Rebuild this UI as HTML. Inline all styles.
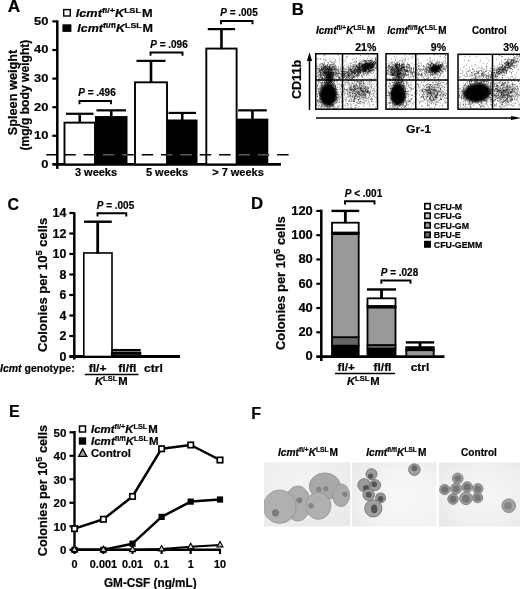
<!DOCTYPE html><html><head><meta charset="utf-8"><title>Figure</title>
<style>html,body{margin:0;padding:0;background:#fff}svg{display:block;will-change:transform}text{font-family:"Liberation Sans",Arial,sans-serif;fill:#000;stroke:#000;stroke-width:.2px}</style></head><body>
<svg width="520" height="589" viewBox="0 0 520 589">
<rect width="520" height="589" fill="#fff"/>
<defs>
<radialGradient id="blob"><stop offset="0" stop-color="#000" stop-opacity="1"/><stop offset="0.68" stop-color="#000" stop-opacity="0.95"/><stop offset="1" stop-color="#000" stop-opacity="0"/></radialGradient>
<radialGradient id="blob2"><stop offset="0" stop-color="#000" stop-opacity="0.55"/><stop offset="1" stop-color="#000" stop-opacity="0"/></radialGradient>
<radialGradient id="blob3"><stop offset="0" stop-color="#000" stop-opacity="0.28"/><stop offset="1" stop-color="#000" stop-opacity="0"/></radialGradient>
<filter id="bl"><feGaussianBlur stdDeviation="0.6"/></filter>
<filter id="bl2"><feGaussianBlur stdDeviation="0.9"/></filter>
<radialGradient id="vg1" cx="0.4" cy="0.3" r="0.9"><stop offset="0" stop-color="#f3f3f3"/><stop offset="1" stop-color="#e9e9e9"/></radialGradient>
<radialGradient id="vg2" cx="0.6" cy="0.55" r="0.75"><stop offset="0" stop-color="#f8f8f8"/><stop offset="0.6" stop-color="#f3f3f3"/><stop offset="1" stop-color="#e9e9e9"/></radialGradient>
<radialGradient id="vg3" cx="0.55" cy="0.5" r="0.75"><stop offset="0" stop-color="#f6f6f6"/><stop offset="0.6" stop-color="#f0f0f0"/><stop offset="1" stop-color="#e6e6e6"/></radialGradient>
</defs>
<text transform="translate(7.8,12.2) scale(1.08,1)" font-size="16" text-anchor="start" font-weight="bold" >A</text>
<rect x="63.7" y="9.6" width="6.6" height="6.4" fill="#fff" stroke="#000" stroke-width="1.4"/>
<rect x="62.4" y="24.3" width="9" height="7.6" fill="#000"/>
<text transform="translate(75.7,16.7) scale(1.11,1)" font-size="11.5" text-anchor="start" font-weight="bold" ><tspan font-style="italic">Icmt</tspan><tspan font-size="8" dy="-4.1">fl/+</tspan><tspan font-style="italic" dy="4.1">K</tspan><tspan font-size="8" dy="-4.1">LSL</tspan><tspan dy="4.1" dx="1">M</tspan></text>
<text transform="translate(77.2,32) scale(1.09,1)" font-size="11.5" text-anchor="start" font-weight="bold" ><tspan font-style="italic">Icmt</tspan><tspan font-size="8" dy="-4.1">fl/fl</tspan><tspan font-style="italic" dy="4.1">K</tspan><tspan font-size="8" dy="-4.1">LSL</tspan><tspan dy="4.1" dx="1">M</tspan></text>
<line x1="57.3" y1="20.4" x2="57.3" y2="168.9" stroke="#000" stroke-width="2.5" />
<line x1="52.3" y1="164.4" x2="281" y2="164.4" stroke="#000" stroke-width="2.6" />
<text transform="translate(48.3,167.8) scale(1.12,1)" font-size="11.5" text-anchor="end" font-weight="bold" >0</text>
<line x1="52.3" y1="135.8" x2="57.3" y2="135.8" stroke="#000" stroke-width="2.2" />
<text transform="translate(48.3,139.20000000000002) scale(1.12,1)" font-size="11.5" text-anchor="end" font-weight="bold" >10</text>
<line x1="52.3" y1="107.20000000000002" x2="57.3" y2="107.20000000000002" stroke="#000" stroke-width="2.2" />
<text transform="translate(48.3,110.60000000000002) scale(1.12,1)" font-size="11.5" text-anchor="end" font-weight="bold" >20</text>
<line x1="52.3" y1="78.60000000000001" x2="57.3" y2="78.60000000000001" stroke="#000" stroke-width="2.2" />
<text transform="translate(48.3,82.00000000000001) scale(1.12,1)" font-size="11.5" text-anchor="end" font-weight="bold" >30</text>
<line x1="52.3" y1="50.000000000000014" x2="57.3" y2="50.000000000000014" stroke="#000" stroke-width="2.2" />
<text transform="translate(48.3,53.40000000000001) scale(1.12,1)" font-size="11.5" text-anchor="end" font-weight="bold" >40</text>
<line x1="52.3" y1="21.400000000000006" x2="57.3" y2="21.400000000000006" stroke="#000" stroke-width="2.2" />
<text transform="translate(48.3,24.800000000000004) scale(1.12,1)" font-size="11.5" text-anchor="end" font-weight="bold" >50</text>
<text transform="translate(16.5,92.5) rotate(-90) scale(1.02,1)" font-size="12.5" font-weight="bold" text-anchor="middle">Spleen weight</text>
<text transform="translate(29.2,95.1) rotate(-90) scale(0.97,1)" font-size="12.5" font-weight="bold" text-anchor="middle">(mg/g body weight)</text>
<rect x="64.5" y="122.644" width="30.5" height="41.756" fill="#fff" stroke="#000" stroke-width="1.9"/>
<line x1="79.75" y1="113.77800000000002" x2="79.75" y2="123.144" stroke="#000" stroke-width="2.6" />
<line x1="66.0" y1="113.77800000000002" x2="93.5" y2="113.77800000000002" stroke="#000" stroke-width="2.2" />
<rect x="95" y="116.066" width="32.5" height="48.334" fill="#000"/>
<line x1="111.25" y1="110.346" x2="111.25" y2="116.566" stroke="#000" stroke-width="2.6" />
<line x1="96.5" y1="110.346" x2="126.0" y2="110.346" stroke="#000" stroke-width="2.2" />
<rect x="135" y="82.31800000000001" width="32" height="82.082" fill="#fff" stroke="#000" stroke-width="1.9"/>
<line x1="151.0" y1="60.867999999999995" x2="151.0" y2="82.81800000000001" stroke="#000" stroke-width="2.6" />
<line x1="136.5" y1="60.867999999999995" x2="165.5" y2="60.867999999999995" stroke="#000" stroke-width="2.2" />
<rect x="167" y="119.49800000000002" width="30.5" height="44.90199999999999" fill="#000"/>
<line x1="182.25" y1="112.92000000000002" x2="182.25" y2="119.99800000000002" stroke="#000" stroke-width="2.6" />
<line x1="168.5" y1="112.92000000000002" x2="196.0" y2="112.92000000000002" stroke="#000" stroke-width="2.2" />
<rect x="206.3" y="48.57000000000001" width="30.299999999999983" height="115.83" fill="#fff" stroke="#000" stroke-width="1.9"/>
<line x1="221.45" y1="29.122000000000014" x2="221.45" y2="49.07000000000001" stroke="#000" stroke-width="2.6" />
<line x1="207.8" y1="29.122000000000014" x2="235.1" y2="29.122000000000014" stroke="#000" stroke-width="2.2" />
<rect x="236.6" y="118.64000000000001" width="31.700000000000017" height="45.75999999999999" fill="#000"/>
<line x1="252.45" y1="110.346" x2="252.45" y2="119.14000000000001" stroke="#000" stroke-width="2.6" />
<line x1="238.1" y1="110.346" x2="266.8" y2="110.346" stroke="#000" stroke-width="2.2" />
<line x1="46.3" y1="154.8" x2="288.6" y2="154.8" stroke="#000" stroke-width="1.4" stroke-dasharray="11.5 7.85" stroke-dashoffset="1.4"/>
<clipPath id="bb"><rect x="95" y="110" width="32.5" height="54"/><rect x="167" y="110" width="30.5" height="54"/><rect x="236.6" y="110" width="31.7" height="54"/></clipPath>
<line x1="46.3" y1="154.8" x2="288.6" y2="154.8" stroke="#5a5a5a" stroke-width="1.5" stroke-dasharray="11.5 7.85" stroke-dashoffset="1.4" clip-path="url(#bb)"/>
<text transform="translate(96,176) scale(1.0,1)" font-size="11" text-anchor="middle" font-weight="bold" >3 weeks</text>
<text transform="translate(167,176) scale(1.0,1)" font-size="11" text-anchor="middle" font-weight="bold" >5 weeks</text>
<text transform="translate(238,176) scale(1.0,1)" font-size="11" text-anchor="middle" font-weight="bold" >&gt; 7 weeks</text>
<path d="M79.5 104.2V101H111V104.2" fill="none" stroke="#000" stroke-width="1.9"/>
<text transform="translate(97,96.4) scale(0.95,1)" font-size="10.5" text-anchor="middle" font-weight="bold" ><tspan font-style="italic">P</tspan> = .496</text>
<path d="M150.5 55.7V52.5H182.5V55.7" fill="none" stroke="#000" stroke-width="1.9"/>
<text transform="translate(169,47.9) scale(0.95,1)" font-size="10.5" text-anchor="middle" font-weight="bold" ><tspan font-style="italic">P</tspan> = .096</text>
<path d="M221 24.2V21H252.5V24.2" fill="none" stroke="#000" stroke-width="1.9"/>
<text transform="translate(239,16.4) scale(0.95,1)" font-size="10.5" text-anchor="middle" font-weight="bold" ><tspan font-style="italic">P</tspan> = .005</text>
<text transform="translate(291.8,14.7) scale(1.05,1)" font-size="16" text-anchor="start" font-weight="bold" >B</text>
<text transform="translate(301.1,79.5) rotate(-90) scale(1.05,1)" font-size="12" font-weight="bold" text-anchor="middle">CD11b</text>
<line x1="309.5" y1="110" x2="309.5" y2="58" stroke="#000" stroke-width="1.6" />
<path d="M309.5 52.3l-2.6 8.6h5.2z" fill="#000"/>
<line x1="316" y1="118" x2="514" y2="118" stroke="#000" stroke-width="1.5" />
<path d="M521 118l-10-2.1v4.2z" fill="#000"/>
<text transform="translate(418.5,132.5) scale(1.1,1)" font-size="11" text-anchor="middle" font-weight="bold" >Gr-1</text>
<text transform="translate(316,33.7) scale(1.0,1)" font-size="10" text-anchor="start" font-weight="bold" ><tspan font-style="italic">Icmt</tspan><tspan font-size="6.5" dy="-3.6">fl/+</tspan><tspan font-style="italic" dy="3.6">K</tspan><tspan font-size="6.5" dy="-3.6">LSL</tspan><tspan dy="3.6" dx="1">M</tspan></text>
<text transform="translate(387.3,33.7) scale(1.0,1)" font-size="10" text-anchor="start" font-weight="bold" ><tspan font-style="italic">Icmt</tspan><tspan font-size="6.5" dy="-3.6">fl/fl</tspan><tspan font-style="italic" dy="3.6">K</tspan><tspan font-size="6.5" dy="-3.6">LSL</tspan><tspan dy="3.6" dx="1">M</tspan></text>
<text transform="translate(489.3,33.7) scale(0.98,1)" font-size="10" text-anchor="middle" font-weight="bold" >Control</text>
<text transform="translate(376.3,51) scale(1.0,1)" font-size="10.5" text-anchor="end" font-weight="bold" >21%</text>
<text transform="translate(446,51) scale(1.0,1)" font-size="10.5" text-anchor="end" font-weight="bold" >9%</text>
<text transform="translate(518.5,51) scale(1.0,1)" font-size="10.5" text-anchor="end" font-weight="bold" >3%</text>
<g><clipPath id="c315"><rect x="315.75" y="53.75" width="61.75" height="55.45"/></clipPath><g clip-path="url(#c315)">
<ellipse cx="328.2" cy="94.8" rx="10.3" ry="13.8" fill="url(#blob)" transform="rotate(0 328.2 94.8)"/>
<ellipse cx="329" cy="78" rx="5" ry="7" fill="url(#blob2)" transform="rotate(0 329 78)"/>
<ellipse cx="327" cy="71" rx="11" ry="7" fill="url(#blob3)" transform="rotate(0 327 71)"/>
<ellipse cx="363" cy="68" rx="13" ry="5.5" fill="url(#blob2)" transform="rotate(-17 363 68)"/>
<ellipse cx="368.5" cy="66" rx="6" ry="4.2" fill="url(#blob2)" transform="rotate(-12 368.5 66)"/>
<ellipse cx="358.5" cy="91.5" rx="14" ry="10" fill="url(#blob3)" transform="rotate(0 358.5 91.5)"/>
<path d="M325.9 98.1h.7M326.1 91.5h.7M322.2 92.3h.7M333.4 97.4h.7M333.0 96.0h.7M329.5 95.5h.7M318.1 100.8h.7M330.1 98.0h.7M318.0 80.0h.7M322.4 90.3h.7M329.0 93.6h.7M330.2 88.9h.7M329.0 97.2h.7M323.7 107.7h.7M330.4 103.6h.7M323.9 88.1h.7M325.4 93.1h.7M330.8 96.0h.7M324.8 86.3h.7M324.4 103.8h.7M322.9 96.0h.7M329.6 82.1h.7M327.6 104.4h.7M316.2 91.4h.7M326.7 87.5h.7M330.0 93.5h.7M319.2 100.6h.7M331.0 101.6h.7M335.2 96.9h.7M328.0 83.6h.7M330.7 89.1h.7M324.8 83.9h.7M322.0 89.8h.7M334.4 77.7h.7M319.3 95.9h.7M335.2 98.6h.7M316.9 73.9h.7M329.3 88.1h.7M321.1 101.8h.7M333.4 95.3h.7M328.7 97.5h.7M336.1 99.0h.7M330.2 98.4h.7M318.7 104.3h.7M332.6 98.2h.7M316.4 88.9h.7M331.9 79.5h.7M326.3 102.2h.7M320.1 106.9h.7M330.3 92.8h.7M329.1 99.2h.7M328.0 103.2h.7M323.7 90.7h.7M333.0 94.2h.7M322.5 101.6h.7M335.4 90.4h.7M319.7 92.9h.7M326.5 91.6h.7M335.0 85.8h.7M334.2 83.9h.7M323.0 99.1h.7M333.5 100.9h.7M329.2 95.1h.7M328.1 98.6h.7M326.3 96.2h.7M330.4 94.0h.7M331.5 98.5h.7M338.4 96.6h.7M324.9 91.0h.7M327.2 101.4h.7M325.4 97.1h.7M337.4 73.5h.7M321.1 96.0h.7M329.5 95.9h.7M324.9 99.2h.7M328.9 89.8h.7M340.7 96.8h.7M324.3 93.2h.7M326.1 93.5h.7M332.8 84.7h.7M326.9 101.6h.7M332.0 105.9h.7M317.9 91.2h.7M325.4 99.0h.7M333.3 72.5h.7M333.3 82.4h.7M331.1 82.1h.7M328.3 103.6h.7M326.5 95.5h.7M331.7 95.1h.7M326.8 106.3h.7M333.1 91.6h.7M342.4 84.8h.7M332.3 91.9h.7M328.0 99.6h.7M328.5 99.1h.7M318.9 81.9h.7M330.7 86.3h.7M321.7 82.2h.7M334.3 100.0h.7M335.4 86.5h.7M327.3 84.9h.7M331.5 106.7h.7M322.4 106.5h.7M332.7 92.6h.7M316.5 105.3h.7M326.8 89.2h.7M329.5 97.3h.7M335.5 85.8h.7M333.5 105.9h.7M335.3 92.6h.7M323.2 102.1h.7M327.9 95.0h.7M335.1 91.9h.7M317.1 100.6h.7M329.0 89.1h.7M327.2 100.7h.7M327.7 104.6h.7M327.0 102.3h.7M335.5 106.9h.7M323.6 101.0h.7M317.0 85.3h.7M316.5 102.6h.7M320.5 93.9h.7M326.2 93.8h.7M324.0 95.9h.7M337.2 94.4h.7M330.2 102.0h.7M326.2 83.9h.7M324.2 102.6h.7M318.2 89.2h.7M332.8 100.3h.7M327.3 100.4h.7M328.2 84.6h.7M318.7 88.9h.7M332.4 89.5h.7M322.3 87.8h.7M318.9 93.1h.7M320.8 96.9h.7M323.8 78.5h.7M331.3 91.8h.7M328.9 90.3h.7M331.6 100.0h.7M331.0 96.6h.7M334.6 99.3h.7M329.8 77.3h.7M332.2 104.5h.7M325.7 90.2h.7M338.0 79.9h.7M322.2 99.5h.7M337.7 93.0h.7M330.4 101.2h.7M322.3 93.3h.7M328.9 100.6h.7M327.1 92.4h.7M321.7 91.1h.7M332.2 94.8h.7M322.6 87.3h.7M342.0 103.1h.7M330.8 73.3h.7M330.7 97.8h.7M336.6 97.4h.7M326.9 98.2h.7M316.6 102.3h.7M329.1 88.4h.7M334.6 108.5h.7M319.6 88.7h.7M328.9 95.5h.7M325.1 86.2h.7M339.0 102.3h.7M320.7 83.2h.7M336.7 101.9h.7M337.3 100.5h.7M322.5 96.1h.7M327.0 98.2h.7M323.3 93.0h.7M329.8 97.0h.7M330.8 95.7h.7M325.5 100.3h.7M327.6 87.4h.7M323.9 94.0h.7M326.7 95.3h.7M327.3 95.4h.7M326.6 83.9h.7M329.6 102.4h.7M329.7 92.5h.7M329.8 86.3h.7M316.9 94.5h.7M322.2 99.9h.7M321.3 73.0h.7M321.6 106.6h.7M325.2 83.0h.7M323.1 98.2h.7M330.0 95.4h.7M335.5 99.7h.7M327.2 98.8h.7M336.4 101.8h.7M332.9 85.3h.7M326.5 99.8h.7M325.7 102.6h.7M330.6 101.3h.7M334.1 92.3h.7M325.4 101.0h.7M332.7 94.1h.7M320.9 95.5h.7M329.3 103.0h.7M331.6 94.2h.7M332.0 98.3h.7M328.4 94.4h.7M326.0 99.5h.7M321.5 89.0h.7M327.3 82.3h.7M324.9 77.9h.7M323.5 98.5h.7M330.4 93.6h.7M326.0 82.7h.7M337.4 98.1h.7M333.3 86.9h.7M326.3 79.4h.7M331.6 101.5h.7M316.9 93.6h.7M330.8 79.9h.7M317.3 85.5h.7M323.8 82.8h.7M327.5 96.0h.7M330.8 99.6h.7M335.6 103.3h.7M320.1 90.0h.7M321.5 85.4h.7M326.9 94.0h.7M330.0 81.3h.7M320.5 93.8h.7M326.2 91.5h.7M327.0 87.9h.7M331.2 96.8h.7M326.8 88.6h.7M326.3 72.2h.7M321.9 94.3h.7M319.0 95.6h.7M328.1 83.0h.7M325.9 91.5h.7M329.8 98.9h.7M327.1 87.2h.7M326.5 93.5h.7M331.3 96.4h.7M323.3 83.2h.7M325.2 88.1h.7M321.2 93.1h.7M324.6 94.8h.7M330.2 90.7h.7M340.1 91.4h.7M333.4 95.0h.7M333.4 75.0h.7M323.2 96.0h.7M329.1 104.2h.7M331.5 101.6h.7M330.1 92.8h.7M330.1 85.4h.7M333.8 85.9h.7M326.1 94.2h.7M333.7 94.2h.7M322.9 96.1h.7M330.5 99.7h.7M323.1 108.0h.7M336.5 94.1h.7M328.8 90.6h.7M335.1 88.4h.7M331.0 90.2h.7M323.5 99.7h.7M334.6 93.9h.7M323.6 100.5h.7M327.0 96.5h.7M335.7 103.1h.7M327.3 100.3h.7M323.7 93.6h.7M317.7 108.3h.7M334.8 84.3h.7M319.0 81.0h.7M333.8 90.3h.7M327.0 91.5h.7M326.6 85.3h.7M327.4 82.5h.7M326.9 96.5h.7M329.9 92.1h.7M322.3 95.3h.7M324.6 106.5h.7M331.5 93.1h.7M324.7 88.4h.7M322.1 91.2h.7M328.9 98.1h.7M323.4 94.1h.7M342.7 79.1h.7M324.4 95.4h.7M328.1 97.3h.7M326.0 96.9h.7M327.6 100.2h.7M316.9 86.9h.7M327.3 85.7h.7M321.6 99.0h.7M323.7 99.1h.7M331.4 96.5h.7M330.1 93.2h.7M319.5 93.8h.7M329.8 89.8h.7M326.8 100.0h.7M322.5 99.1h.7M337.5 89.6h.7M328.1 92.8h.7M335.8 96.5h.7M332.2 88.5h.7M327.2 93.9h.7M317.5 105.5h.7M332.2 80.0h.7M331.4 93.0h.7M329.8 96.9h.7M319.1 92.3h.7M335.5 89.4h.7M321.7 83.1h.7M320.6 96.7h.7M336.6 97.4h.7M324.4 88.6h.7M330.2 98.4h.7M321.7 84.6h.7M328.9 96.0h.7M320.1 92.4h.7M324.3 97.7h.7M326.7 93.3h.7M325.4 102.4h.7M334.9 91.1h.7M332.0 87.9h.7M327.7 100.0h.7M335.6 90.9h.7M326.9 95.6h.7M319.1 94.1h.7M323.6 97.0h.7M321.1 78.2h.7M327.5 96.1h.7M324.3 101.1h.7M325.8 89.2h.7M329.9 81.5h.7M323.6 93.8h.7M332.0 92.7h.7M329.0 88.8h.7M329.0 107.3h.7M323.8 94.1h.7M328.3 102.2h.7M320.5 77.2h.7M330.6 100.4h.7M328.4 96.0h.7M332.4 97.0h.7M336.5 84.1h.7M325.2 66.4h.7M331.8 91.0h.7M327.3 92.0h.7M324.6 87.3h.7M323.8 99.1h.7M327.5 94.5h.7M326.3 101.3h.7M330.0 92.9h.7M331.0 92.8h.7M321.0 105.6h.7M329.9 86.3h.7M333.2 96.8h.7M318.7 106.9h.7M329.1 101.1h.7M328.4 92.8h.7M318.8 101.8h.7M327.5 91.7h.7M329.2 94.6h.7M331.0 91.0h.7M327.1 76.9h.7M325.0 99.4h.7M334.7 91.1h.7M326.6 106.7h.7M325.5 99.9h.7M336.5 94.3h.7M334.0 88.3h.7M328.4 93.4h.7M327.9 103.0h.7M340.4 88.7h.7M324.1 98.0h.7M321.5 98.0h.7M330.4 91.8h.7M330.2 81.6h.7M331.5 81.6h.7M323.5 89.6h.7M325.1 100.9h.7M327.7 90.8h.7M330.3 106.7h.7M327.3 96.9h.7M334.1 96.1h.7M339.4 78.1h.7M327.1 97.3h.7M332.6 99.4h.7M325.8 85.6h.7M327.9 102.3h.7M321.3 85.8h.7M327.2 78.5h.7M325.9 90.5h.7M329.8 88.4h.7M322.4 90.8h.7M327.0 88.7h.7M327.4 100.0h.7M333.8 107.6h.7M323.0 90.6h.7M323.3 93.7h.7M330.2 83.1h.7M329.9 93.8h.7M317.3 96.3h.7M333.9 79.1h.7M331.7 95.7h.7M329.9 97.5h.7M334.5 92.2h.7M332.1 90.7h.7M331.3 87.5h.7M326.7 107.8h.7M329.8 92.7h.7M321.0 87.7h.7M328.4 101.5h.7M329.6 98.2h.7M327.1 104.8h.7M325.2 89.6h.7M332.2 94.5h.7M325.8 89.4h.7M325.9 99.0h.7M329.2 84.3h.7M329.6 95.4h.7M321.8 100.2h.7M325.8 91.3h.7M331.7 104.6h.7M323.5 97.5h.7M324.6 103.6h.7M323.7 100.5h.7M339.5 73.7h.7M324.9 98.0h.7M326.8 88.7h.7M339.1 94.6h.7M318.3 100.8h.7M317.8 103.2h.7M324.1 95.2h.7M334.2 94.9h.7M319.6 80.4h.7M333.8 99.9h.7M322.8 100.9h.7M330.0 99.2h.7M332.3 99.9h.7M332.1 74.3h.7M328.2 97.9h.7M341.3 86.4h.7M325.5 94.3h.7M332.2 90.5h.7M333.6 87.7h.7M328.8 89.8h.7M328.2 88.5h.7M318.5 102.7h.7M329.0 89.5h.7M328.4 101.9h.7M321.9 93.1h.7M330.3 98.2h.7M325.5 77.1h.7M334.1 96.6h.7M327.4 91.8h.7M328.7 90.6h.7M321.7 88.1h.7M324.0 89.1h.7M320.9 99.1h.7M320.1 99.3h.7M321.7 96.8h.7M334.9 95.6h.7M323.3 94.4h.7M328.1 80.1h.7M324.0 95.3h.7M324.7 94.6h.7M331.3 100.1h.7M332.3 98.7h.7M325.7 93.9h.7M325.8 91.5h.7M326.3 80.2h.7M325.5 93.8h.7M321.9 93.8h.7M330.1 92.7h.7M338.7 73.1h.7M326.2 79.4h.7M330.2 91.6h.7M330.3 76.1h.7M332.0 97.0h.7M327.4 89.3h.7M330.8 90.1h.7M328.5 89.9h.7M328.4 100.0h.7M322.5 93.7h.7M330.7 95.2h.7M322.3 78.6h.7M332.0 106.2h.7M332.4 100.5h.7M323.9 88.3h.7M332.2 86.7h.7M317.3 86.0h.7M323.5 88.2h.7M328.6 88.0h.7M334.5 93.4h.7M321.3 104.5h.7M324.1 95.8h.7M327.2 91.5h.7M329.1 88.5h.7M317.2 76.3h.7M320.3 87.9h.7M327.2 94.4h.7M330.4 95.0h.7M322.9 88.3h.7M330.0 98.2h.7M326.6 92.6h.7M332.4 94.1h.7M331.4 98.7h.7M328.5 104.5h.7M324.2 91.1h.7M322.9 87.6h.7M335.9 108.1h.7M327.4 98.5h.7M333.8 100.5h.7M333.9 83.9h.7M323.8 97.6h.7M335.2 94.8h.7M322.6 91.2h.7M323.7 87.1h.7M335.6 89.0h.7M333.8 96.7h.7M323.9 97.3h.7M336.2 99.0h.7M334.2 94.8h.7M330.1 92.4h.7M329.6 104.4h.7M319.4 93.5h.7M328.6 89.4h.7M325.6 100.3h.7M338.3 99.0h.7M329.1 81.6h.7M337.9 94.6h.7M327.1 85.1h.7M327.0 85.2h.7M327.7 97.7h.7M327.5 96.2h.7M322.6 105.4h.7M323.7 79.5h.7M326.3 87.9h.7M321.7 91.2h.7M328.9 84.5h.7M326.5 105.4h.7M331.1 92.8h.7M328.0 93.0h.7M327.0 99.9h.7M326.8 74.8h.7M327.2 86.9h.7M330.9 89.1h.7M321.5 85.0h.7M319.5 74.8h.7M317.0 96.9h.7M323.8 79.1h.7M319.1 98.9h.7M323.0 91.1h.7M329.1 104.9h.7M338.0 102.3h.7M328.1 95.5h.7M337.2 105.4h.7M325.6 97.7h.7M328.9 94.4h.7M324.5 83.4h.7M324.4 81.6h.7M334.0 98.3h.7M320.7 105.2h.7M332.2 78.7h.7M337.4 100.5h.7M338.7 84.2h.7M330.2 97.4h.7M328.4 95.4h.7M333.1 82.0h.7M320.5 82.8h.7M324.2 89.2h.7M329.3 96.1h.7M327.5 88.6h.7M324.9 101.6h.7M331.5 94.8h.7M325.5 106.4h.7M324.0 99.2h.7M333.6 91.9h.7M331.8 85.1h.7M332.9 95.6h.7M318.6 99.4h.7M322.4 104.3h.7M323.6 92.7h.7M328.9 91.3h.7M328.7 89.6h.7M331.0 94.0h.7M328.5 72.0h.7M333.7 94.3h.7M317.5 94.8h.7M329.9 102.6h.7M321.3 106.4h.7M326.5 99.4h.7M325.3 85.1h.7M333.3 101.3h.7M335.8 100.9h.7M324.1 80.7h.7M323.7 88.6h.7M322.8 98.7h.7M329.1 91.8h.7M328.2 92.8h.7M328.5 100.0h.7M332.6 88.5h.7M319.0 105.4h.7M327.9 102.8h.7M318.3 91.4h.7M327.4 82.5h.7M324.5 99.8h.7M333.2 106.8h.7M322.6 82.8h.7M330.2 101.5h.7M328.4 83.6h.7M331.6 100.3h.7M330.3 90.1h.7M329.0 100.3h.7M324.2 79.3h.7M329.1 97.8h.7M327.4 101.1h.7M324.1 93.3h.7M325.6 98.6h.7M336.1 92.0h.7M338.6 106.2h.7M331.6 98.7h.7M337.0 92.6h.7M326.7 85.5h.7M329.9 104.8h.7M330.2 97.4h.7M326.2 95.4h.7M319.5 102.4h.7M325.0 85.2h.7M323.2 87.4h.7M332.0 102.5h.7M319.8 101.4h.7M332.2 89.4h.7M319.1 88.0h.7M323.8 96.7h.7M325.3 77.8h.7M328.6 81.7h.7M332.3 84.3h.7M323.5 87.2h.7M324.3 104.4h.7M332.0 98.8h.7M329.1 81.6h.7M324.4 89.6h.7M321.9 98.1h.7M323.2 88.3h.7M321.6 77.5h.7M330.6 104.6h.7M328.3 86.2h.7M334.0 96.4h.7M332.4 105.8h.7M333.5 90.5h.7M333.1 100.2h.7M318.8 90.8h.7M319.5 93.1h.7M330.5 85.5h.7M316.0 104.4h.7M329.4 105.8h.7M320.0 102.5h.7M326.1 96.2h.7M326.5 102.0h.7M333.0 94.7h.7M319.8 99.9h.7M324.7 99.0h.7M328.7 107.0h.7M333.6 90.4h.7M329.2 108.1h.7M324.3 97.5h.7M333.8 104.1h.7M330.2 83.4h.7M320.4 96.0h.7M322.6 103.1h.7M331.5 80.6h.7M322.8 95.3h.7M324.6 92.8h.7M329.9 87.5h.7M329.9 88.9h.7M324.3 98.3h.7M324.1 96.3h.7M336.1 94.2h.7M326.5 99.9h.7M325.3 102.7h.7M320.2 98.9h.7M324.5 87.6h.7M337.0 87.2h.7M337.0 99.3h.7M335.3 86.2h.7M333.9 105.7h.7M326.7 93.0h.7M340.8 95.4h.7M325.0 89.0h.7M329.8 96.6h.7M328.3 107.8h.7M325.5 97.8h.7M335.3 86.0h.7M333.0 108.7h.7M319.8 85.2h.7M321.6 79.2h.7M329.8 79.2h.7M330.0 105.6h.7M318.4 91.5h.7M316.8 100.2h.7M323.2 91.9h.7M327.6 98.4h.7M325.4 94.1h.7M324.3 94.9h.7M320.9 94.5h.7M316.7 90.1h.7M337.8 94.6h.7M320.4 96.1h.7M322.0 80.8h.7M323.2 99.9h.7M329.4 93.2h.7M322.2 85.4h.7M334.7 96.0h.7M322.1 77.1h.7M321.0 93.4h.7M328.5 92.7h.7M325.8 83.0h.7M321.5 107.5h.7M323.1 100.8h.7M318.0 91.8h.7M328.7 102.3h.7M321.1 98.8h.7M329.4 88.1h.7M329.9 86.8h.7M322.9 93.8h.7M321.8 82.3h.7M325.0 100.1h.7M325.1 104.1h.7M320.9 83.5h.7M335.8 97.2h.7M332.5 87.4h.7M331.7 96.1h.7M330.9 94.2h.7M333.9 88.8h.7M322.0 82.2h.7M333.7 88.1h.7M321.6 86.5h.7M324.9 83.8h.7M325.7 89.0h.7M324.3 86.3h.7M327.5 90.3h.7M327.9 96.0h.7M329.2 76.5h.7M324.4 87.6h.7M331.6 81.4h.7M323.4 91.6h.7M325.5 101.9h.7M324.9 101.7h.7M319.2 79.5h.7M334.0 97.5h.7M330.0 95.0h.7M330.0 84.3h.7M332.5 89.7h.7M332.7 94.7h.7M316.4 83.7h.7M333.5 92.9h.7M325.1 95.9h.7M325.0 89.6h.7M327.9 95.2h.7M335.6 94.4h.7M337.6 108.4h.7M336.7 102.5h.7M328.0 95.1h.7M326.5 88.2h.7M326.9 88.9h.7M336.3 98.3h.7M324.8 78.7h.7M327.0 90.7h.7M321.3 84.9h.7M327.1 92.8h.7M335.2 95.1h.7M328.2 91.0h.7M324.0 106.0h.7M332.8 107.7h.7M325.4 94.2h.7M322.5 101.7h.7M319.6 98.5h.7M333.3 105.3h.7M322.1 102.7h.7M323.4 87.9h.7M320.0 103.2h.7M336.4 89.2h.7M323.1 91.3h.7M341.1 102.0h.7M324.3 79.6h.7M323.6 103.5h.7M337.6 91.9h.7M323.5 89.9h.7M316.9 101.3h.7M321.3 102.5h.7M317.9 83.8h.7M328.9 87.9h.7M331.6 94.1h.7M320.8 99.0h.7M331.9 78.7h.7M337.3 98.0h.7M331.5 79.1h.7M323.3 91.2h.7M333.2 82.3h.7M322.4 77.8h.7M326.0 96.8h.7M318.0 89.3h.7M330.1 106.7h.7M331.0 91.6h.7M320.8 86.5h.7M323.6 95.2h.7M327.0 107.3h.7M328.9 85.4h.7M335.8 101.6h.7M327.9 88.2h.7M317.0 85.8h.7M332.3 87.6h.7M320.0 95.6h.7M328.6 98.9h.7M330.9 105.3h.7M322.7 101.8h.7M321.9 99.6h.7M328.3 95.9h.7M332.6 93.9h.7M333.4 101.0h.7M328.0 89.5h.7M323.2 89.8h.7M326.2 93.8h.7M343.7 99.1h.7M331.5 87.1h.7M323.4 91.4h.7M328.4 85.7h.7M336.2 89.5h.7M333.2 75.3h.7M327.3 96.2h.7M328.4 98.8h.7M328.8 95.3h.7M316.9 88.3h.7M329.0 92.4h.7M322.8 89.3h.7M337.5 107.8h.7M327.0 104.3h.7M318.6 78.5h.7M324.6 87.0h.7M324.2 95.5h.7M343.9 88.7h.7M327.6 96.2h.7M327.1 101.4h.7M337.1 84.1h.7M328.2 91.9h.7M329.3 81.7h.7M317.6 75.5h.7M330.2 95.5h.7M327.7 75.1h.7M325.2 88.0h.7M319.5 86.7h.7M331.1 98.4h.7M327.2 98.1h.7M324.0 94.6h.7M327.5 98.4h.7M328.8 77.4h.7M328.6 75.1h.7M334.8 80.3h.7M330.1 88.3h.7M332.6 71.0h.7M330.8 81.8h.7M333.9 83.9h.7M331.0 72.7h.7M326.7 79.2h.7M330.3 73.4h.7M328.0 76.2h.7M329.2 79.5h.7M328.3 72.4h.7M332.2 85.2h.7M328.7 82.6h.7M330.2 81.0h.7M330.3 74.6h.7M330.5 82.5h.7M326.7 86.8h.7M334.4 86.2h.7M334.2 81.3h.7M328.1 75.3h.7M326.9 78.5h.7M328.9 81.0h.7M323.7 88.4h.7M334.9 77.9h.7M330.8 80.1h.7M329.7 77.1h.7M328.7 74.3h.7M329.5 77.9h.7M329.8 74.2h.7M329.1 78.2h.7M330.6 73.2h.7M330.1 82.4h.7M330.6 76.3h.7M327.7 76.9h.7M330.9 85.0h.7M328.6 75.1h.7M330.0 78.9h.7M326.6 74.7h.7M328.7 81.0h.7M325.9 73.4h.7M330.3 72.5h.7M329.3 79.6h.7M328.7 73.4h.7M328.8 76.5h.7M329.9 74.2h.7M331.8 70.5h.7M328.5 78.0h.7M331.5 75.3h.7M330.4 75.4h.7M330.9 85.8h.7M328.0 80.0h.7M326.6 82.4h.7M332.1 78.2h.7M326.0 79.8h.7M332.0 82.9h.7M331.1 69.8h.7M327.2 84.4h.7M325.8 83.1h.7M333.9 81.4h.7M331.9 76.5h.7M325.8 77.5h.7M328.5 77.8h.7M330.8 77.3h.7M329.5 79.9h.7M329.0 86.3h.7M330.2 78.4h.7M328.5 75.2h.7M332.5 78.7h.7M326.2 75.5h.7M328.6 76.0h.7M331.8 72.8h.7M330.3 78.6h.7M325.9 78.2h.7M328.8 80.3h.7M327.8 79.4h.7M324.7 73.1h.7M331.0 82.7h.7M329.0 75.3h.7M331.8 68.6h.7M326.9 81.0h.7M330.7 73.4h.7M324.1 84.5h.7M329.4 74.0h.7M329.1 82.1h.7M322.3 83.0h.7M330.9 68.6h.7M331.0 70.0h.7M332.0 79.8h.7M334.9 75.3h.7M329.0 82.7h.7M327.3 74.8h.7M328.0 77.7h.7M326.2 80.2h.7M330.4 78.3h.7M333.4 76.5h.7M332.4 75.5h.7M331.0 69.3h.7M329.5 77.2h.7M327.7 75.3h.7M328.1 74.8h.7M323.3 75.3h.7M327.6 75.6h.7M326.2 77.4h.7M331.0 76.9h.7M327.7 84.1h.7M331.5 82.1h.7M332.0 76.5h.7M328.7 83.0h.7M327.6 77.5h.7M330.0 79.7h.7M328.3 82.4h.7M328.5 81.3h.7M331.8 81.0h.7M330.9 72.8h.7M325.6 75.2h.7M330.2 84.8h.7M325.8 79.4h.7M326.8 74.7h.7M328.3 81.1h.7M329.6 83.3h.7M326.4 82.0h.7M331.4 78.3h.7M330.2 75.5h.7M326.2 76.2h.7M327.3 91.0h.7M327.7 85.4h.7M329.5 79.4h.7M330.9 74.5h.7M331.4 79.7h.7M325.1 80.7h.7M330.4 80.0h.7M333.1 76.1h.7M330.3 81.4h.7M326.7 83.4h.7M325.2 72.1h.7M330.4 73.1h.7M328.7 70.6h.7M329.2 72.9h.7M329.9 71.1h.7M330.2 76.8h.7M329.2 77.7h.7M329.3 72.1h.7M322.3 78.2h.7M326.6 76.0h.7M330.1 69.1h.7M327.0 75.3h.7M326.3 79.5h.7M328.6 74.3h.7M326.4 81.6h.7M327.3 80.6h.7M330.2 69.5h.7M326.2 78.0h.7M329.9 81.5h.7M331.1 82.7h.7M328.0 77.1h.7M331.0 76.1h.7M331.7 70.8h.7M330.7 77.2h.7M323.9 82.4h.7M329.8 78.1h.7M326.2 75.9h.7M332.9 74.3h.7M320.0 74.1h.7M325.9 77.4h.7M328.0 73.9h.7M326.8 82.7h.7M325.2 86.8h.7M327.6 73.1h.7M331.0 80.5h.7M326.3 81.4h.7M324.2 73.8h.7M331.9 76.8h.7M325.6 80.3h.7M331.4 77.9h.7M324.3 76.4h.7M330.1 81.5h.7M333.8 76.9h.7M327.7 77.8h.7M332.1 73.8h.7M332.4 65.6h.7M331.1 75.0h.7M330.2 81.1h.7M325.9 77.6h.7M329.6 80.6h.7M326.6 73.5h.7M324.0 89.4h.7M328.5 77.0h.7M325.1 82.2h.7M327.6 84.5h.7M331.2 78.1h.7M330.9 73.0h.7M328.2 75.4h.7M325.7 78.1h.7M328.6 84.5h.7M320.3 75.0h.7M326.6 75.9h.7M330.1 79.8h.7M329.1 75.9h.7M330.3 79.6h.7M324.2 76.8h.7M325.4 72.7h.7M329.4 78.3h.7M329.3 74.1h.7M328.5 73.9h.7M330.0 81.1h.7M333.6 83.7h.7M326.9 75.9h.7M326.6 79.4h.7M334.1 81.2h.7M323.3 72.3h.7M325.6 80.3h.7M329.0 79.3h.7M333.6 74.3h.7M326.8 86.8h.7M329.9 74.5h.7M323.7 71.1h.7M322.6 78.3h.7M329.1 82.5h.7M328.6 74.9h.7M327.1 86.6h.7M324.4 78.8h.7M329.1 80.8h.7M327.9 80.2h.7M331.1 77.3h.7M327.8 77.2h.7M326.5 77.1h.7M328.2 78.9h.7M332.5 83.9h.7M327.8 80.7h.7M329.8 81.4h.7M329.1 79.2h.7M327.8 74.5h.7M331.3 83.8h.7M330.7 80.0h.7M329.7 76.0h.7M324.4 81.0h.7M329.5 75.5h.7M326.5 83.8h.7M324.3 85.9h.7M330.7 88.7h.7M327.1 77.9h.7M327.7 78.7h.7M328.5 74.6h.7M331.8 74.5h.7M327.7 80.5h.7M327.6 76.0h.7M329.9 76.3h.7M325.8 77.5h.7M328.4 85.7h.7M326.1 82.4h.7M327.0 76.4h.7M328.2 79.2h.7M331.2 85.9h.7M327.3 84.0h.7M331.6 81.7h.7M327.0 82.1h.7M328.7 79.6h.7M328.3 81.0h.7M331.9 83.1h.7M328.5 82.5h.7M332.8 73.8h.7M332.8 72.0h.7M330.4 80.7h.7M332.9 79.3h.7M327.8 74.4h.7M325.7 81.4h.7M328.4 74.8h.7M330.4 74.6h.7M327.9 75.9h.7M333.3 84.6h.7M328.6 70.9h.7M329.7 78.3h.7M329.9 80.5h.7M328.2 82.2h.7M331.2 78.9h.7M327.9 75.8h.7M330.8 73.1h.7M328.6 74.6h.7M325.4 80.7h.7M328.9 78.2h.7M331.3 71.3h.7M328.8 79.3h.7M331.2 73.1h.7M330.9 79.0h.7M332.5 83.1h.7M330.4 87.7h.7M329.0 76.1h.7M328.1 73.8h.7M328.9 69.5h.7M328.8 79.9h.7M331.6 76.4h.7M332.6 75.1h.7M328.7 69.6h.7M327.0 74.4h.7M332.8 80.3h.7M326.2 80.3h.7M330.2 77.0h.7M329.1 76.7h.7M323.6 63.2h.7M326.4 76.6h.7M336.1 69.8h.7M322.3 70.1h.7M332.7 72.5h.7M323.3 72.6h.7M325.7 73.3h.7M324.4 64.5h.7M327.4 74.3h.7M320.0 70.5h.7M332.6 69.4h.7M322.9 79.9h.7M332.3 75.5h.7M321.0 78.2h.7M316.5 68.7h.7M331.7 76.8h.7M321.1 68.1h.7M328.2 62.6h.7M331.0 73.5h.7M324.2 73.4h.7M331.9 72.4h.7M330.3 77.6h.7M324.0 71.7h.7M323.7 75.5h.7M324.4 73.1h.7M327.9 71.3h.7M337.8 70.6h.7M335.9 74.6h.7M335.3 70.3h.7M332.8 74.3h.7M323.1 72.2h.7M326.2 70.8h.7M335.2 67.9h.7M316.4 63.4h.7M324.2 68.2h.7M327.1 73.5h.7M338.0 72.3h.7M329.9 67.8h.7M330.6 76.9h.7M335.4 62.5h.7M332.6 77.9h.7M332.2 64.5h.7M325.1 73.5h.7M329.6 67.5h.7M321.4 75.2h.7M318.6 77.2h.7M327.1 72.3h.7M318.7 68.4h.7M331.3 64.6h.7M340.0 64.9h.7M319.4 71.2h.7M330.0 74.2h.7M324.7 70.1h.7M325.5 68.5h.7M328.6 71.7h.7M323.1 72.1h.7M326.9 70.7h.7M333.9 63.6h.7M328.6 66.4h.7M325.0 77.5h.7M320.2 70.6h.7M323.3 75.1h.7M320.9 63.7h.7M330.2 69.5h.7M325.0 75.7h.7M321.5 69.4h.7M327.9 72.8h.7M323.8 75.5h.7M341.0 69.2h.7M338.7 61.9h.7M335.8 69.5h.7M327.9 69.5h.7M323.0 65.5h.7M324.5 76.6h.7M334.1 69.5h.7M323.7 68.0h.7M319.5 78.8h.7M331.1 71.5h.7M323.9 66.6h.7M335.2 74.4h.7M321.1 75.3h.7M320.1 73.8h.7M321.0 69.2h.7M330.1 72.9h.7M333.3 67.4h.7M336.9 76.8h.7M326.9 73.0h.7M322.1 70.3h.7M318.8 71.4h.7M328.2 76.8h.7M332.9 74.5h.7M324.7 70.0h.7M324.9 72.0h.7M317.2 68.8h.7M327.1 68.8h.7M337.4 70.6h.7M336.8 76.1h.7M323.9 72.7h.7M335.1 69.6h.7M327.6 68.6h.7M327.4 69.5h.7M327.5 75.3h.7M335.7 71.6h.7M328.3 74.7h.7M325.2 66.4h.7M333.9 67.0h.7M332.8 66.8h.7M338.4 66.5h.7M332.3 77.5h.7M321.0 77.4h.7M321.9 63.4h.7M331.5 74.0h.7M325.7 60.1h.7M326.7 69.7h.7M324.6 69.7h.7M315.8 68.6h.7M338.2 77.7h.7M324.7 67.9h.7M329.5 75.6h.7M331.5 65.9h.7M328.0 71.6h.7M336.0 76.2h.7M330.3 76.3h.7M324.5 77.6h.7M324.3 72.7h.7M332.7 67.1h.7M322.6 63.4h.7M328.0 70.8h.7M325.0 73.2h.7M327.5 69.9h.7M332.0 78.6h.7M324.2 66.9h.7M323.2 71.4h.7M330.7 67.3h.7M333.2 66.6h.7M332.2 72.8h.7M329.9 80.3h.7M325.4 70.3h.7M330.0 74.7h.7M318.6 72.2h.7M322.4 73.7h.7M335.5 71.2h.7M326.3 71.8h.7M330.5 71.7h.7M324.5 67.8h.7M325.9 76.2h.7M326.4 76.8h.7M328.7 70.9h.7M316.6 68.1h.7M334.8 65.4h.7M320.8 66.3h.7M323.6 73.8h.7M330.7 62.2h.7M336.1 68.4h.7M323.3 78.2h.7M326.5 65.6h.7M323.0 67.9h.7M320.7 69.6h.7M332.5 72.5h.7M318.4 83.0h.7M320.8 71.5h.7M327.2 74.3h.7M325.0 73.0h.7M340.1 71.4h.7M320.2 72.4h.7M322.0 69.4h.7M328.2 72.5h.7M325.2 74.7h.7M325.8 65.4h.7M332.5 69.4h.7M334.6 68.2h.7M330.6 72.4h.7M320.0 77.1h.7M333.8 73.1h.7M331.2 68.9h.7M326.9 72.0h.7M329.6 74.1h.7M325.7 68.0h.7M323.5 72.8h.7M316.6 65.6h.7M324.4 68.6h.7M325.3 59.5h.7M324.9 69.9h.7M331.8 62.4h.7M325.1 73.1h.7M330.1 76.2h.7M333.6 66.5h.7M331.0 69.6h.7M322.0 77.6h.7M323.1 67.3h.7M324.5 67.3h.7M333.3 72.6h.7M335.8 72.8h.7M323.2 75.5h.7M322.9 69.0h.7M326.0 71.2h.7M334.5 68.4h.7M329.2 70.9h.7M319.1 66.3h.7M325.6 72.8h.7M329.0 73.1h.7M327.3 69.1h.7M329.7 66.7h.7M318.6 69.6h.7M318.0 68.8h.7M322.3 68.6h.7M326.7 67.5h.7M324.4 63.6h.7M327.9 67.2h.7M329.5 58.7h.7M322.0 72.1h.7M327.6 71.4h.7M317.6 72.0h.7M327.9 66.8h.7M331.7 70.8h.7M327.1 69.0h.7M330.4 71.4h.7M334.1 73.0h.7M323.1 70.0h.7M332.8 69.4h.7M329.4 73.3h.7M325.9 60.9h.7M327.8 71.9h.7M327.9 67.7h.7M334.6 70.4h.7M323.1 67.9h.7M329.3 66.3h.7M320.7 79.7h.7M335.2 75.6h.7M335.6 73.6h.7M316.4 76.2h.7M334.8 73.1h.7M335.6 68.9h.7M327.8 74.4h.7M326.5 75.8h.7M327.5 74.0h.7M327.5 64.6h.7M320.7 84.8h.7M328.8 76.7h.7M334.2 78.5h.7M330.5 68.4h.7M327.1 62.6h.7M325.8 75.0h.7M332.2 76.8h.7M321.2 68.2h.7M330.4 80.0h.7M319.8 77.0h.7M329.7 68.8h.7M340.8 60.0h.7M326.6 72.0h.7M340.4 78.9h.7M341.3 71.6h.7M333.2 77.0h.7M330.2 72.6h.7M325.8 69.2h.7M319.2 79.5h.7M324.2 61.9h.7M328.7 70.9h.7M328.1 78.9h.7M326.3 69.8h.7M322.3 70.9h.7M324.2 71.9h.7M346.7 72.7h.7M321.6 79.4h.7M332.5 74.6h.7M331.5 74.6h.7M331.3 77.2h.7M333.4 76.9h.7M323.8 71.0h.7M322.4 75.2h.7M332.3 69.0h.7M330.7 82.5h.7M334.8 66.1h.7M326.4 73.8h.7M326.8 72.7h.7M334.5 72.4h.7M320.1 74.1h.7M326.4 71.5h.7M323.4 64.9h.7M319.1 69.5h.7M320.2 59.1h.7M334.3 65.9h.7M322.4 73.3h.7M322.1 73.9h.7M324.0 72.3h.7M327.7 71.0h.7M326.7 77.2h.7M323.5 73.3h.7M328.0 73.1h.7M333.3 64.4h.7M328.7 70.2h.7M325.0 67.3h.7M322.0 66.5h.7M320.0 82.0h.7M337.8 71.0h.7M331.7 66.7h.7M327.9 77.3h.7M326.7 66.6h.7M325.5 66.6h.7M318.2 70.0h.7M324.5 67.4h.7M321.4 66.9h.7M328.5 77.1h.7M325.7 80.8h.7M316.8 72.2h.7M319.7 70.3h.7M327.6 73.5h.7M334.2 68.6h.7M319.1 70.2h.7M328.9 67.9h.7M332.7 78.4h.7M318.0 72.6h.7M333.4 62.6h.7M328.3 70.0h.7M318.0 76.8h.7M328.4 68.9h.7M329.8 73.8h.7M331.9 73.5h.7M329.6 65.8h.7M324.3 71.6h.7M324.6 66.4h.7M327.2 68.4h.7M324.4 67.1h.7M322.3 70.6h.7M322.9 74.0h.7M326.1 71.6h.7M329.6 76.6h.7M330.8 72.0h.7M326.0 67.5h.7M324.8 74.0h.7M328.4 69.3h.7M318.6 64.3h.7M329.0 75.5h.7M329.4 65.0h.7M325.7 72.0h.7M321.2 72.5h.7M325.7 67.3h.7M319.1 74.6h.7M329.3 67.1h.7M320.6 74.9h.7M330.8 69.7h.7M337.1 69.7h.7M320.3 75.8h.7M325.8 72.5h.7M327.2 66.6h.7M319.5 70.1h.7M335.9 66.6h.7M335.6 72.0h.7M320.0 72.2h.7M330.6 67.1h.7M320.0 72.9h.7M321.9 64.5h.7M325.5 71.8h.7M323.5 65.8h.7M328.3 63.3h.7M330.4 73.1h.7M337.6 74.9h.7M329.2 72.2h.7M327.2 65.2h.7M336.2 73.3h.7M325.2 66.0h.7M336.4 73.3h.7M319.5 73.9h.7M339.0 70.9h.7M329.5 69.2h.7M323.0 75.7h.7M346.4 71.5h.7M326.2 74.5h.7M325.1 74.2h.7M332.2 66.6h.7M320.2 70.7h.7M332.3 72.2h.7M334.8 65.0h.7M330.1 68.3h.7M327.6 72.4h.7M320.9 70.0h.7M319.7 72.2h.7M321.6 68.8h.7M328.4 68.1h.7M334.2 68.2h.7M332.4 72.2h.7M320.5 70.0h.7M321.7 69.4h.7M325.3 78.9h.7M324.4 77.8h.7M329.8 65.3h.7M333.5 72.7h.7M325.7 69.9h.7M328.6 69.7h.7M323.6 69.4h.7M334.4 68.3h.7M329.4 66.0h.7M322.5 65.0h.7M325.8 74.0h.7M328.9 68.9h.7M330.8 69.5h.7M329.3 72.2h.7M330.4 60.2h.7M318.8 74.4h.7M326.3 80.8h.7M325.5 68.6h.7M336.4 73.4h.7M338.9 73.2h.7M325.7 74.2h.7M322.0 69.1h.7M323.5 70.0h.7M331.9 68.9h.7M329.0 68.8h.7M332.6 59.0h.7M325.7 71.7h.7M320.2 75.4h.7M328.4 76.6h.7M333.0 73.8h.7M326.1 66.3h.7M325.6 69.0h.7M328.6 69.0h.7M346.2 64.1h.7M334.4 69.0h.7M325.5 75.0h.7M327.0 65.7h.7M329.6 70.2h.7M320.4 67.8h.7M330.0 72.3h.7M325.2 80.4h.7M329.6 68.3h.7M328.5 70.5h.7M318.3 80.0h.7M325.8 69.8h.7M323.5 75.3h.7M327.2 78.4h.7M331.9 78.1h.7M326.3 72.6h.7M324.3 70.3h.7M316.1 68.5h.7M321.0 68.2h.7M334.6 72.1h.7M334.7 74.7h.7M332.8 75.4h.7M323.2 74.5h.7M325.0 68.7h.7M334.5 80.4h.7M320.9 78.5h.7M332.2 67.3h.7M328.7 72.6h.7M329.4 69.5h.7M318.9 71.1h.7M332.4 74.4h.7M331.1 75.8h.7M320.8 70.8h.7M329.1 75.3h.7M328.0 73.2h.7M327.8 80.1h.7M342.5 72.0h.7M318.0 68.1h.7M328.4 78.4h.7M329.9 73.9h.7M333.4 71.9h.7M321.6 70.6h.7M329.1 69.8h.7M322.8 69.4h.7M317.6 66.6h.7M326.4 69.4h.7M327.2 77.1h.7M328.9 70.9h.7M319.7 66.3h.7M329.4 67.2h.7M329.7 66.3h.7M327.8 70.7h.7M333.2 69.3h.7M324.7 72.1h.7M327.3 78.3h.7M325.4 68.7h.7M325.0 73.1h.7M328.5 74.0h.7M318.3 81.7h.7M338.5 70.9h.7M319.4 71.7h.7M329.6 61.3h.7M327.1 64.6h.7M329.9 77.0h.7M333.5 64.5h.7M335.6 74.9h.7M324.7 73.2h.7M336.5 69.6h.7M326.9 68.6h.7M334.2 61.7h.7M335.9 66.8h.7M332.8 64.0h.7M321.1 68.4h.7M332.2 64.0h.7M330.8 68.2h.7M334.8 69.7h.7M330.0 70.3h.7M338.2 69.4h.7M326.8 79.6h.7M327.5 74.0h.7M322.4 71.9h.7M323.0 64.5h.7M318.1 75.9h.7M329.7 64.4h.7M338.3 68.0h.7M324.7 72.1h.7M319.9 64.0h.7M322.3 76.1h.7M333.0 64.2h.7M334.5 71.1h.7M330.1 71.2h.7M329.6 66.7h.7M321.3 68.0h.7M324.7 73.7h.7M319.4 77.9h.7M323.0 68.5h.7M331.4 72.9h.7M324.9 66.4h.7M320.7 64.1h.7M334.2 75.7h.7M338.7 73.2h.7M329.1 74.3h.7M333.0 69.9h.7M329.2 80.3h.7M316.4 64.9h.7M321.0 74.3h.7M334.4 69.5h.7M331.2 70.8h.7M328.9 68.7h.7M326.8 71.0h.7M334.1 80.7h.7M327.0 75.2h.7M333.6 74.4h.7M332.1 66.9h.7M316.3 78.2h.7M334.6 66.9h.7M335.1 73.9h.7M320.8 76.1h.7M322.7 67.8h.7M317.3 70.1h.7M333.4 68.1h.7M338.6 74.0h.7M323.6 65.7h.7M316.7 73.4h.7M335.1 66.4h.7M327.0 69.8h.7M325.4 73.2h.7M340.1 68.2h.7M332.3 75.7h.7M325.2 70.4h.7M318.6 75.7h.7M323.7 68.2h.7M327.4 67.3h.7M320.5 69.7h.7M336.3 70.1h.7M330.3 64.6h.7M324.5 64.3h.7M326.3 73.6h.7M316.2 67.2h.7M328.6 67.0h.7M332.0 75.2h.7M329.8 69.1h.7M326.7 68.3h.7M326.2 72.4h.7M325.1 75.2h.7M343.3 68.6h.7M329.2 74.6h.7M331.0 70.0h.7M324.0 75.4h.7M330.9 73.2h.7M322.0 73.7h.7M332.0 70.2h.7M331.1 80.4h.7M319.6 65.1h.7M361.7 70.3h.7M362.3 64.2h.7M351.2 69.7h.7M362.3 65.4h.7M352.9 77.1h.7M356.3 69.5h.7M358.1 67.5h.7M363.0 67.0h.7M366.7 62.8h.7M353.2 77.7h.7M363.1 70.6h.7M372.8 66.9h.7M361.8 63.0h.7M351.3 74.9h.7M368.9 68.2h.7M347.9 65.3h.7M353.5 66.8h.7M363.3 64.4h.7M374.9 62.2h.7M359.4 72.1h.7M364.7 64.4h.7M371.3 72.1h.7M353.1 70.2h.7M352.6 64.5h.7M368.6 68.7h.7M371.1 67.0h.7M347.1 72.8h.7M356.6 65.9h.7M355.0 73.1h.7M362.6 74.9h.7M364.9 60.8h.7M371.3 69.8h.7M362.1 64.1h.7M375.7 59.6h.7M360.5 62.2h.7M351.4 65.7h.7M372.7 69.1h.7M358.5 64.7h.7M362.9 69.3h.7M349.8 68.0h.7M362.9 70.5h.7M364.0 69.2h.7M350.7 63.1h.7M364.6 64.3h.7M361.7 67.1h.7M366.1 64.4h.7M374.5 64.6h.7M367.8 68.7h.7M371.6 66.8h.7M348.5 70.2h.7M367.9 68.1h.7M357.2 67.4h.7M359.0 73.3h.7M367.6 72.8h.7M368.8 72.8h.7M365.5 63.1h.7M377.2 64.8h.7M372.7 65.8h.7M360.6 69.3h.7M352.9 66.9h.7M355.4 68.5h.7M352.1 71.0h.7M367.4 73.7h.7M369.8 65.1h.7M366.1 66.9h.7M358.8 69.6h.7M351.6 73.0h.7M359.6 65.2h.7M360.7 70.6h.7M358.0 71.2h.7M369.1 71.6h.7M354.2 70.3h.7M368.6 71.5h.7M365.8 69.8h.7M350.7 69.7h.7M376.0 63.0h.7M359.2 63.6h.7M368.4 67.3h.7M359.6 64.1h.7M363.3 71.2h.7M370.1 70.1h.7M369.9 65.7h.7M368.0 67.1h.7M354.0 76.8h.7M365.0 63.7h.7M366.4 68.0h.7M372.4 70.2h.7M339.1 77.3h.7M374.4 61.2h.7M348.3 73.5h.7M366.0 68.3h.7M353.6 69.2h.7M365.3 69.9h.7M355.8 61.9h.7M371.5 64.9h.7M361.1 65.1h.7M367.1 60.4h.7M364.0 68.1h.7M366.7 71.5h.7M362.3 68.5h.7M368.4 60.9h.7M360.7 68.9h.7M369.9 63.1h.7M369.9 67.3h.7M349.5 66.9h.7M351.6 72.0h.7M365.4 69.8h.7M369.1 64.2h.7M372.4 68.0h.7M367.3 68.4h.7M353.0 72.3h.7M353.5 66.7h.7M360.3 69.3h.7M362.2 67.1h.7M355.1 71.1h.7M355.6 65.3h.7M365.2 72.5h.7M358.7 65.6h.7M375.9 70.1h.7M360.4 68.0h.7M367.6 77.0h.7M365.1 70.9h.7M364.8 61.0h.7M352.9 66.7h.7M366.6 67.3h.7M377.2 62.7h.7M365.6 67.5h.7M366.4 75.2h.7M366.8 72.1h.7M372.9 62.8h.7M368.2 65.1h.7M364.0 68.2h.7M362.7 66.4h.7M375.3 63.3h.7M370.4 71.7h.7M369.1 69.8h.7M375.3 68.1h.7M375.5 59.1h.7M348.2 70.3h.7M351.7 71.4h.7M349.9 68.4h.7M365.6 67.8h.7M356.3 69.2h.7M362.3 68.5h.7M362.7 67.3h.7M368.5 60.6h.7M359.1 69.7h.7M359.2 67.2h.7M359.7 69.8h.7M372.9 64.3h.7M361.2 69.8h.7M359.1 62.3h.7M364.8 66.1h.7M359.0 71.5h.7M362.8 66.1h.7M343.6 67.8h.7M363.0 67.6h.7M366.8 67.6h.7M357.9 65.1h.7M354.0 70.3h.7M354.4 73.3h.7M350.4 65.5h.7M359.7 62.7h.7M375.2 60.7h.7M362.3 67.3h.7M354.6 64.3h.7M348.7 75.4h.7M373.4 72.5h.7M351.7 73.5h.7M363.7 70.8h.7M359.5 71.6h.7M370.9 67.7h.7M374.6 63.8h.7M374.9 61.9h.7M373.8 54.9h.7M362.3 65.4h.7M364.0 71.3h.7M368.9 66.5h.7M375.4 59.0h.7M357.9 74.9h.7M363.6 60.4h.7M364.6 63.3h.7M376.1 68.0h.7M359.8 73.6h.7M357.1 73.1h.7M367.6 66.1h.7M351.2 70.6h.7M343.8 71.9h.7M349.2 76.6h.7M352.7 62.5h.7M368.1 67.7h.7M361.0 76.1h.7M369.4 66.3h.7M354.8 60.0h.7M367.9 69.9h.7M356.8 64.9h.7M361.0 62.7h.7M363.8 70.5h.7M375.5 65.1h.7M365.3 69.9h.7M374.1 63.5h.7M352.2 68.5h.7M351.9 68.2h.7M362.4 69.4h.7M364.3 67.8h.7M360.5 70.3h.7M371.0 68.3h.7M374.9 63.3h.7M362.6 74.1h.7M365.0 68.8h.7M361.2 72.0h.7M358.7 65.7h.7M362.1 66.7h.7M369.4 64.7h.7M363.8 67.0h.7M365.1 65.1h.7M370.6 60.6h.7M359.2 66.7h.7M368.3 66.5h.7M366.6 65.7h.7M356.1 66.1h.7M359.8 67.1h.7M365.6 68.5h.7M370.8 65.2h.7M355.9 66.4h.7M363.9 69.0h.7M355.7 74.5h.7M373.6 69.5h.7M363.9 71.1h.7M359.0 69.0h.7M364.9 73.7h.7M362.2 71.6h.7M362.8 65.5h.7M365.6 69.5h.7M357.8 71.8h.7M356.3 66.9h.7M364.6 66.7h.7M353.4 65.1h.7M363.4 68.7h.7M359.5 69.8h.7M351.0 73.1h.7M366.7 67.9h.7M358.1 69.8h.7M365.1 71.2h.7M365.5 68.1h.7M358.0 72.6h.7M372.0 63.5h.7M368.5 67.4h.7M361.3 63.9h.7M375.4 57.6h.7M365.1 66.0h.7M371.9 63.8h.7M363.9 69.9h.7M366.2 65.2h.7M368.9 67.6h.7M370.5 63.9h.7M362.2 66.8h.7M356.5 70.9h.7M367.7 71.6h.7M360.7 70.1h.7M372.2 64.8h.7M363.6 68.3h.7M356.4 66.5h.7M372.2 65.8h.7M361.2 64.2h.7M365.1 71.5h.7M352.8 68.0h.7M373.4 69.9h.7M375.0 62.4h.7M367.1 64.1h.7M366.9 65.5h.7M365.9 71.9h.7M365.5 66.4h.7M363.7 68.7h.7M359.1 69.9h.7M369.4 71.6h.7M345.2 69.2h.7M353.9 73.9h.7M365.1 71.4h.7M343.1 73.5h.7M338.0 76.2h.7M358.4 67.7h.7M365.2 65.3h.7M372.0 65.2h.7M368.6 75.3h.7M360.3 72.1h.7M357.6 74.1h.7M370.9 66.1h.7M372.6 70.7h.7M374.1 64.6h.7M363.7 71.7h.7M350.5 69.7h.7M367.5 68.6h.7M366.0 68.6h.7M352.2 70.7h.7M364.9 66.6h.7M364.1 69.8h.7M354.8 68.5h.7M349.8 76.1h.7M352.8 65.1h.7M369.0 65.4h.7M370.4 64.4h.7M364.3 68.0h.7M362.1 71.1h.7M354.8 72.6h.7M370.1 60.6h.7M356.5 66.5h.7M368.0 68.2h.7M356.0 66.2h.7M366.5 59.7h.7M368.0 65.9h.7M358.1 68.5h.7M360.1 66.3h.7M364.6 70.9h.7M350.7 71.0h.7M375.7 66.7h.7M355.7 67.4h.7M354.6 64.9h.7M372.3 65.4h.7M356.0 65.1h.7M359.4 67.3h.7M376.3 62.3h.7M365.0 71.1h.7M368.2 65.8h.7M346.9 77.8h.7M367.4 65.1h.7M361.4 65.2h.7M354.4 65.5h.7M367.5 68.4h.7M365.2 70.1h.7M367.4 67.1h.7M356.5 72.0h.7M373.1 67.1h.7M372.5 63.4h.7M356.4 74.4h.7M358.6 70.2h.7M361.5 68.5h.7M360.3 66.9h.7M350.6 78.4h.7M362.7 61.4h.7M354.7 66.6h.7M354.6 61.7h.7M369.2 71.8h.7M361.8 71.0h.7M366.6 62.6h.7M371.1 59.7h.7M358.1 68.3h.7M373.1 65.3h.7M361.2 65.7h.7M363.8 67.9h.7M370.2 70.7h.7M368.9 66.3h.7M363.3 73.5h.7M364.6 67.5h.7M367.4 66.3h.7M359.0 72.9h.7M360.3 72.2h.7M356.9 70.2h.7M366.3 67.5h.7M365.2 68.6h.7M353.0 67.2h.7M363.6 74.1h.7M361.1 65.4h.7M357.8 69.7h.7M371.9 63.3h.7M367.6 67.2h.7M359.3 65.9h.7M361.1 66.1h.7M365.6 61.1h.7M372.7 67.7h.7M369.1 71.4h.7M366.1 61.1h.7M363.9 69.3h.7M356.5 66.1h.7M366.9 68.6h.7M359.4 68.3h.7M358.4 67.4h.7M363.6 71.5h.7M349.9 70.8h.7M376.1 65.1h.7M365.0 70.3h.7M353.9 66.6h.7M348.4 67.4h.7M365.8 70.1h.7M359.0 66.9h.7M366.8 69.0h.7M363.2 61.3h.7M356.2 61.3h.7M364.1 64.7h.7M359.3 74.4h.7M373.9 66.3h.7M365.4 67.9h.7M358.3 69.3h.7M377.3 60.6h.7M357.9 70.1h.7M370.9 68.5h.7M355.2 69.9h.7M359.7 64.7h.7M363.1 66.3h.7M370.7 67.1h.7M356.9 70.1h.7M359.6 66.9h.7M360.2 72.5h.7M358.1 63.6h.7M357.7 72.4h.7M359.9 67.8h.7M352.3 72.7h.7M362.9 69.0h.7M370.1 68.7h.7M357.4 67.7h.7M376.0 66.5h.7M363.1 64.2h.7M370.5 67.5h.7M369.6 66.9h.7M363.0 66.1h.7M365.7 68.0h.7M369.2 69.9h.7M364.9 65.5h.7M370.9 71.0h.7M356.8 71.3h.7M367.9 68.4h.7M366.9 66.5h.7M363.8 73.6h.7M375.3 59.4h.7M343.4 75.5h.7M357.2 68.0h.7M350.8 73.0h.7M362.0 66.4h.7M372.5 73.5h.7M375.8 68.1h.7M360.4 71.1h.7M363.8 71.7h.7M367.6 66.5h.7M366.7 64.4h.7M370.7 70.8h.7M360.7 70.6h.7M350.8 75.0h.7M368.9 62.7h.7M376.9 64.2h.7M348.0 67.9h.7M369.6 65.0h.7M370.2 60.4h.7M363.2 71.3h.7M358.3 71.8h.7M360.5 70.0h.7M367.7 74.3h.7M354.0 73.5h.7M372.3 61.3h.7M365.9 75.1h.7M368.4 56.1h.7M359.5 63.2h.7M364.7 65.0h.7M357.8 66.7h.7M364.9 65.8h.7M355.6 69.5h.7M365.4 64.3h.7M370.2 60.1h.7M365.8 65.8h.7M374.8 62.2h.7M356.5 65.4h.7M354.1 69.6h.7M356.9 75.1h.7M364.3 60.6h.7M365.5 70.4h.7M363.5 69.5h.7M362.3 68.9h.7M364.0 65.3h.7M365.9 67.7h.7M362.0 65.9h.7M355.2 71.2h.7M367.2 58.4h.7M360.1 73.6h.7M369.5 63.5h.7M372.7 61.6h.7M358.6 76.0h.7M359.3 68.4h.7M349.0 68.8h.7M353.6 70.4h.7M349.5 75.8h.7M359.6 66.9h.7M358.7 71.9h.7M374.7 63.0h.7M377.3 69.2h.7M373.9 65.7h.7M351.9 73.7h.7M360.0 69.6h.7M347.8 71.7h.7M363.9 64.5h.7M366.9 72.6h.7M364.2 65.3h.7M356.1 71.5h.7M356.1 62.2h.7M365.9 70.0h.7M358.1 74.6h.7M368.1 70.6h.7M350.9 71.7h.7M373.4 64.8h.7M363.8 65.6h.7M371.0 63.1h.7M362.0 61.2h.7M352.8 77.3h.7M363.7 68.5h.7M345.6 73.2h.7M344.0 73.2h.7M358.6 68.6h.7M351.7 66.7h.7M353.8 73.0h.7M363.4 70.7h.7M355.0 72.5h.7M359.6 69.4h.7M370.4 65.8h.7M358.6 63.6h.7M364.3 70.3h.7M357.9 69.3h.7M347.7 68.1h.7M367.5 71.1h.7M358.9 63.4h.7M358.5 63.9h.7M362.7 74.8h.7M365.2 66.8h.7M370.9 64.3h.7M365.8 67.8h.7M365.1 62.2h.7M369.5 69.1h.7M342.2 64.9h.7M357.3 74.9h.7M363.8 70.1h.7M368.3 69.5h.7M357.3 67.7h.7M366.6 69.0h.7M367.9 67.7h.7M360.2 72.7h.7M367.8 70.2h.7M343.7 77.4h.7M343.7 74.6h.7M357.8 70.0h.7M358.9 68.2h.7M364.9 68.6h.7M354.1 61.9h.7M357.3 71.6h.7M356.7 71.4h.7M359.1 65.9h.7M374.0 70.5h.7M362.1 68.1h.7M369.4 61.4h.7M357.1 73.8h.7M369.7 64.2h.7M357.1 71.0h.7M351.2 69.9h.7M358.7 60.7h.7M368.5 69.0h.7M370.2 60.8h.7M351.9 68.5h.7M354.5 77.8h.7M354.8 69.4h.7M365.1 69.0h.7M373.6 60.9h.7M370.2 66.3h.7M353.7 71.4h.7M353.3 76.7h.7M358.1 73.0h.7M372.9 62.8h.7M355.9 70.6h.7M355.4 73.5h.7M363.7 65.1h.7M358.2 72.0h.7M353.0 77.0h.7M356.5 69.3h.7M357.1 75.5h.7M370.9 70.2h.7M368.4 66.7h.7M377.4 66.0h.7M367.1 68.8h.7M369.2 67.1h.7M360.1 63.3h.7M344.9 71.0h.7M358.4 70.3h.7M360.8 61.6h.7M360.6 69.8h.7M371.3 61.2h.7M343.2 68.5h.7M365.8 67.4h.7M364.4 68.1h.7M358.7 64.5h.7M367.1 68.1h.7M368.9 70.6h.7M350.6 63.5h.7M350.6 79.4h.7M356.0 71.6h.7M363.6 70.4h.7M361.0 66.5h.7M365.5 69.1h.7M356.4 74.7h.7M372.8 66.6h.7M361.9 67.5h.7M350.3 74.2h.7M354.6 68.8h.7M370.2 62.5h.7M359.6 72.1h.7M377.4 61.1h.7M371.3 63.1h.7M366.6 68.6h.7M354.8 74.2h.7M364.0 63.5h.7M353.4 73.7h.7M350.4 69.4h.7M347.0 77.8h.7M357.1 67.7h.7M359.0 71.2h.7M373.9 61.1h.7M364.8 61.0h.7M375.3 63.9h.7M358.8 74.7h.7M363.5 72.7h.7M373.4 70.7h.7M356.6 70.2h.7M365.8 66.5h.7M374.7 61.9h.7M372.5 69.9h.7M346.2 69.7h.7M355.1 68.5h.7M366.0 66.5h.7M363.2 66.3h.7M362.8 69.8h.7M368.3 63.6h.7M361.3 65.8h.7M360.1 63.8h.7M371.4 67.8h.7M361.3 66.1h.7M358.6 67.0h.7M352.1 77.1h.7M354.1 72.8h.7M366.4 61.4h.7M347.9 74.5h.7M348.2 77.6h.7M359.1 69.5h.7M362.4 66.2h.7M361.5 67.4h.7M373.0 64.6h.7M362.2 66.4h.7M357.1 67.2h.7M364.9 73.9h.7M372.3 66.0h.7M364.5 66.9h.7M354.3 71.5h.7M358.9 63.6h.7M354.5 77.5h.7M365.2 69.1h.7M364.2 66.0h.7M367.8 70.4h.7M361.0 70.4h.7M370.9 63.9h.7M363.6 65.2h.7M367.5 65.3h.7M371.6 62.7h.7M376.4 62.8h.7M355.3 67.1h.7M367.5 63.6h.7M365.8 62.1h.7M362.1 65.7h.7M348.7 73.9h.7M370.9 70.2h.7M354.9 69.3h.7M365.7 68.9h.7M353.9 71.6h.7M363.1 71.4h.7M349.5 70.1h.7M358.6 68.2h.7M368.2 64.2h.7M377.5 62.2h.7M371.9 68.0h.7M371.7 64.8h.7M365.5 66.0h.7M370.8 65.8h.7M370.8 67.0h.7M365.0 64.3h.7M373.2 63.7h.7M364.1 71.9h.7M365.1 64.2h.7M371.2 62.4h.7M366.1 69.3h.7M367.0 73.0h.7M370.3 72.8h.7M369.0 66.0h.7M366.2 65.9h.7M366.8 66.3h.7M370.5 62.2h.7M364.2 61.3h.7M373.6 64.7h.7M368.4 65.9h.7M372.1 66.1h.7M371.3 65.0h.7M368.1 65.9h.7M362.7 70.1h.7M362.6 64.6h.7M370.8 65.7h.7M372.2 69.7h.7M375.6 68.2h.7M368.8 71.4h.7M365.4 66.4h.7M371.8 64.7h.7M367.9 65.2h.7M371.8 58.7h.7M373.4 67.8h.7M368.6 67.5h.7M365.8 69.5h.7M373.2 64.8h.7M367.1 65.0h.7M367.2 63.0h.7M364.8 71.2h.7M368.7 67.4h.7M369.8 67.0h.7M362.8 64.7h.7M371.2 68.1h.7M364.3 65.4h.7M365.2 68.4h.7M369.7 65.8h.7M366.5 67.3h.7M368.2 64.1h.7M369.3 64.1h.7M372.1 66.9h.7M366.5 68.0h.7M368.3 64.2h.7M364.5 62.4h.7M364.8 67.7h.7M372.3 63.5h.7M369.2 66.8h.7M371.4 66.6h.7M373.1 67.1h.7M366.1 67.6h.7M360.4 67.2h.7M368.9 67.5h.7M367.9 68.3h.7M372.6 62.9h.7M366.8 67.1h.7M370.3 66.0h.7M370.7 62.4h.7M371.8 68.4h.7M372.5 66.3h.7M367.9 67.2h.7M367.4 62.0h.7M366.4 66.3h.7M366.2 64.0h.7M367.5 65.2h.7M368.7 65.8h.7M369.6 68.4h.7M369.2 66.9h.7M362.7 59.4h.7M367.5 68.0h.7M367.0 64.7h.7M364.7 69.2h.7M366.8 67.0h.7M372.7 66.5h.7M376.1 64.0h.7M372.1 67.1h.7M366.3 66.6h.7M366.0 63.8h.7M369.1 63.8h.7M373.8 62.9h.7M366.7 66.6h.7M366.8 66.5h.7M365.7 62.8h.7M359.5 64.5h.7M373.9 66.0h.7M368.8 64.7h.7M368.2 66.9h.7M363.3 65.0h.7M366.1 69.8h.7M365.5 69.8h.7M368.4 73.3h.7M368.2 66.1h.7M373.6 67.2h.7M371.1 62.6h.7M373.3 69.4h.7M367.9 64.8h.7M365.3 69.4h.7M369.5 65.8h.7M365.1 71.0h.7M371.5 65.3h.7M373.0 62.5h.7M371.0 62.8h.7M373.2 64.3h.7M372.5 64.1h.7M370.5 68.6h.7M365.5 66.9h.7M366.1 68.8h.7M366.2 65.5h.7M368.4 69.1h.7M364.9 66.7h.7M367.1 64.8h.7M365.7 66.2h.7M368.3 61.9h.7M368.7 62.8h.7M369.8 71.8h.7M365.2 66.5h.7M368.2 68.7h.7M365.9 61.8h.7M363.1 67.6h.7M369.9 68.5h.7M367.0 68.1h.7M365.6 70.1h.7M367.9 64.3h.7M370.1 70.3h.7M364.9 63.5h.7M364.4 63.8h.7M368.5 66.9h.7M368.0 66.6h.7M372.4 64.4h.7M363.0 61.1h.7M369.0 64.1h.7M367.9 67.2h.7M369.2 61.7h.7M365.3 66.9h.7M368.6 69.0h.7M365.7 61.1h.7M371.6 61.0h.7M365.4 67.7h.7M366.2 73.1h.7M369.6 67.2h.7M368.2 72.0h.7M370.0 63.8h.7M371.9 60.8h.7M366.6 67.2h.7M368.5 63.5h.7M374.7 68.6h.7M365.5 67.6h.7M366.1 65.4h.7M371.9 65.6h.7M368.2 66.3h.7M365.1 70.0h.7M366.6 69.9h.7M366.7 65.2h.7M373.7 65.4h.7M366.0 65.1h.7M371.6 70.3h.7M370.4 64.6h.7M364.3 65.1h.7M368.2 66.7h.7M366.9 69.7h.7M364.8 64.9h.7M370.5 66.9h.7M367.7 68.7h.7M364.6 71.2h.7M377.0 69.4h.7M370.0 70.9h.7M369.4 69.3h.7M367.9 66.6h.7M369.4 61.2h.7M368.7 70.5h.7M358.7 69.1h.7M371.8 66.2h.7M369.9 69.4h.7M368.6 60.9h.7M365.1 65.9h.7M368.8 64.8h.7M369.0 70.3h.7M359.1 71.1h.7M372.0 66.8h.7M368.6 66.2h.7M369.9 66.4h.7M366.4 68.5h.7M365.7 66.5h.7M366.7 63.3h.7M370.5 65.4h.7M364.5 66.6h.7M364.6 70.6h.7M371.3 70.7h.7M366.9 68.2h.7M364.7 64.5h.7M368.4 67.1h.7M371.5 64.7h.7M372.8 67.6h.7M365.4 66.2h.7M366.3 71.0h.7M367.1 68.6h.7M371.5 64.7h.7M367.0 67.2h.7M365.2 63.4h.7M365.4 67.6h.7M370.1 70.3h.7M362.5 68.6h.7M365.2 69.8h.7M370.9 65.8h.7M373.3 64.0h.7M366.1 63.7h.7M366.3 66.8h.7M371.5 68.8h.7M367.2 64.3h.7M367.1 65.2h.7M366.7 65.3h.7M365.5 66.5h.7M366.7 65.9h.7M363.9 67.4h.7M370.8 67.2h.7M366.0 63.5h.7M363.4 64.0h.7M366.1 65.7h.7M362.8 69.0h.7M362.9 65.4h.7M366.5 68.6h.7M374.6 63.8h.7M367.4 65.2h.7M367.7 65.7h.7M376.3 61.5h.7M367.7 64.1h.7M369.4 64.4h.7M369.9 62.9h.7M375.8 65.0h.7M362.9 69.0h.7M366.3 63.4h.7M369.7 64.4h.7M370.7 64.1h.7M371.6 65.7h.7M369.8 66.1h.7M367.1 65.4h.7M370.4 67.5h.7M368.3 71.9h.7M373.6 61.9h.7M372.1 65.0h.7M368.9 63.9h.7M373.7 62.7h.7M367.8 64.2h.7M375.7 67.8h.7M363.8 65.8h.7M369.5 64.7h.7M366.7 63.6h.7M368.8 63.1h.7M372.6 71.4h.7M347.1 79.9h.7M349.8 71.3h.7M345.4 71.1h.7M349.1 76.3h.7M353.3 72.1h.7M341.0 75.0h.7M357.9 73.2h.7M346.4 67.0h.7M345.8 76.3h.7M343.3 79.6h.7M344.2 71.6h.7M344.6 74.3h.7M353.5 71.1h.7M337.6 75.6h.7M352.0 78.7h.7M342.4 80.2h.7M352.2 74.9h.7M343.0 71.8h.7M343.0 78.1h.7M349.9 77.4h.7M358.6 72.2h.7M348.9 80.5h.7M340.1 73.8h.7M345.6 73.1h.7M348.3 71.0h.7M353.9 68.2h.7M342.3 69.1h.7M340.2 77.4h.7M351.5 72.7h.7M353.3 75.2h.7M344.6 74.5h.7M351.3 80.4h.7M345.7 75.7h.7M351.9 77.6h.7M351.1 77.2h.7M341.7 74.2h.7M336.7 75.8h.7M361.7 72.4h.7M348.7 74.8h.7M348.1 69.4h.7M343.9 74.1h.7M348.5 70.9h.7M347.0 71.7h.7M339.9 73.1h.7M343.8 77.7h.7M356.1 74.6h.7M346.4 72.4h.7M338.6 73.9h.7M357.8 76.3h.7M349.2 73.0h.7M348.3 75.4h.7M348.2 75.5h.7M343.6 75.0h.7M346.6 78.0h.7M341.6 79.7h.7M347.2 72.4h.7M348.2 74.4h.7M346.9 75.7h.7M343.6 68.9h.7M352.0 73.2h.7M357.9 73.6h.7M337.1 80.2h.7M344.3 76.6h.7M361.5 75.4h.7M341.6 74.8h.7M339.1 77.9h.7M350.7 70.0h.7M351.2 76.7h.7M352.3 70.9h.7M343.3 71.0h.7M340.7 76.4h.7M349.0 78.4h.7M349.4 72.7h.7M340.6 80.7h.7M348.9 73.8h.7M341.6 71.5h.7M351.1 70.1h.7M351.8 75.5h.7M344.8 69.0h.7M351.2 78.3h.7M342.5 70.6h.7M354.4 73.4h.7M345.1 78.8h.7M346.7 75.8h.7M345.2 71.9h.7M348.8 70.9h.7M337.4 74.0h.7M355.8 76.4h.7M361.2 75.1h.7M357.5 73.2h.7M345.8 76.0h.7M342.9 77.5h.7M345.6 75.4h.7M343.0 74.5h.7M353.6 72.3h.7M344.3 75.7h.7M353.0 72.5h.7M340.3 70.0h.7M340.9 79.0h.7M347.8 75.7h.7M354.4 73.9h.7M350.5 71.9h.7M339.0 77.8h.7M347.8 76.1h.7M341.7 74.7h.7M359.2 69.2h.7M349.3 78.3h.7M346.7 74.7h.7M336.1 78.8h.7M346.2 78.8h.7M347.3 72.9h.7M350.4 72.8h.7M345.9 79.7h.7M353.8 73.4h.7M353.2 76.0h.7M351.4 73.6h.7M348.7 75.3h.7M351.5 74.6h.7M344.8 74.4h.7M350.1 70.3h.7M348.4 76.6h.7M348.8 72.9h.7M347.6 72.5h.7M353.5 71.8h.7M337.7 71.7h.7M349.9 74.4h.7M344.5 70.2h.7M346.7 71.4h.7M344.2 74.7h.7M343.8 75.9h.7M343.5 73.3h.7M347.5 79.1h.7M357.7 75.6h.7M343.8 74.8h.7M353.8 75.8h.7M338.6 75.5h.7M344.2 77.3h.7M351.4 71.6h.7M360.2 71.0h.7M362.0 71.0h.7M348.6 80.4h.7M344.7 73.0h.7M356.5 72.4h.7M350.0 69.4h.7M358.9 75.5h.7M350.5 76.0h.7M344.8 73.0h.7M339.1 76.9h.7M355.7 75.6h.7M353.7 75.5h.7M341.9 70.7h.7M351.8 73.9h.7M353.6 72.1h.7M343.2 76.4h.7M343.8 69.2h.7M344.0 71.8h.7M341.2 73.4h.7M354.9 80.8h.7M357.8 70.9h.7M354.6 72.7h.7M349.9 71.4h.7M346.6 68.6h.7M357.9 69.7h.7M351.1 71.5h.7M348.9 69.9h.7M346.4 77.4h.7M350.3 67.1h.7M352.2 68.9h.7M350.0 75.5h.7M344.1 73.7h.7M346.8 75.6h.7M354.1 77.6h.7M351.1 80.3h.7M343.6 80.9h.7M346.9 76.8h.7M347.3 74.5h.7M342.9 76.3h.7M359.8 72.5h.7M347.9 74.1h.7M352.0 72.7h.7M348.1 74.8h.7M356.1 75.8h.7M341.6 73.1h.7M348.6 76.8h.7M353.5 72.4h.7M360.2 71.4h.7M357.0 77.3h.7M357.4 73.1h.7M350.5 68.5h.7M337.4 73.9h.7M352.8 76.8h.7M348.0 77.6h.7M352.2 78.5h.7M338.3 73.0h.7M341.9 71.6h.7M357.0 69.3h.7M343.0 73.6h.7M352.9 71.6h.7M352.6 75.1h.7M342.9 67.0h.7M342.0 70.9h.7M357.1 70.0h.7M342.0 76.4h.7M347.8 70.9h.7M354.9 75.9h.7M349.2 71.3h.7M341.8 68.2h.7M350.5 74.9h.7M342.7 75.1h.7M366.3 67.0h.7M338.5 77.8h.7M345.3 72.9h.7M351.5 73.0h.7M354.1 74.7h.7M354.8 73.3h.7M336.3 80.7h.7M338.8 79.2h.7M348.7 69.2h.7M348.9 76.9h.7M342.1 75.2h.7M343.2 71.5h.7M345.2 78.9h.7M352.0 73.2h.7M347.6 74.5h.7M349.8 74.4h.7M338.6 78.8h.7M341.5 66.4h.7M351.4 69.4h.7M347.1 73.9h.7M344.9 76.4h.7M346.3 73.4h.7M342.3 74.1h.7M342.0 75.2h.7M356.3 76.0h.7M349.7 69.1h.7M354.5 76.0h.7M358.7 64.6h.7M347.9 72.9h.7M353.7 69.4h.7M347.1 82.0h.7M352.6 66.5h.7M348.9 78.5h.7M344.8 76.6h.7M347.7 69.1h.7M345.0 78.4h.7M354.5 70.8h.7M354.1 70.5h.7M349.4 73.7h.7M340.9 76.4h.7M344.2 65.4h.7M350.8 86.3h.7M350.7 85.5h.7M352.1 76.4h.7M366.8 92.0h.7M360.9 89.9h.7M359.1 89.9h.7M348.3 82.1h.7M359.2 97.9h.7M360.7 101.5h.7M345.8 89.9h.7M352.7 99.2h.7M374.3 88.3h.7M365.3 90.0h.7M349.2 90.9h.7M348.8 101.2h.7M364.0 98.9h.7M361.8 76.5h.7M366.0 92.1h.7M336.2 92.2h.7M368.0 102.2h.7M348.9 96.4h.7M361.6 90.5h.7M355.9 94.8h.7M363.9 95.6h.7M354.7 83.3h.7M370.8 99.6h.7M353.2 91.3h.7M366.0 80.6h.7M363.2 106.6h.7M361.0 87.1h.7M360.5 88.9h.7M360.2 80.4h.7M346.5 82.3h.7M366.9 90.9h.7M369.3 78.8h.7M352.9 100.6h.7M351.1 79.9h.7M351.5 89.4h.7M358.4 99.6h.7M370.9 101.2h.7M363.9 88.4h.7M353.9 82.3h.7M370.4 99.3h.7M359.3 86.0h.7M364.8 94.6h.7M359.9 84.3h.7M360.7 88.0h.7M365.4 95.2h.7M362.6 88.9h.7M372.7 96.3h.7M370.3 96.7h.7M364.7 94.0h.7M348.5 80.2h.7M349.8 95.3h.7M367.0 92.7h.7M359.3 102.9h.7M354.8 80.4h.7M344.1 89.5h.7M365.0 96.1h.7M356.4 96.6h.7M358.1 87.0h.7M355.0 96.2h.7M367.4 84.5h.7M349.3 92.3h.7M346.8 94.1h.7M363.2 87.7h.7M358.3 94.5h.7M342.3 91.4h.7M364.1 97.3h.7M369.4 91.1h.7M345.1 99.9h.7M365.7 87.5h.7M368.1 98.0h.7M357.2 76.8h.7M354.1 86.8h.7M350.7 91.0h.7M348.4 93.9h.7M376.1 84.1h.7M368.2 88.2h.7M363.6 90.7h.7M370.4 87.1h.7M365.3 86.7h.7M360.6 91.4h.7M368.6 81.7h.7M345.9 100.2h.7M362.1 102.1h.7M348.9 92.8h.7M364.1 102.5h.7M358.0 88.7h.7M365.2 90.9h.7M351.5 96.3h.7M340.8 85.2h.7M371.2 88.4h.7M355.5 93.8h.7M368.9 94.8h.7M349.5 88.0h.7M368.3 90.8h.7M352.6 96.9h.7M369.1 105.1h.7M348.5 87.1h.7M352.1 93.7h.7M354.1 98.5h.7M333.5 97.5h.7M352.5 89.8h.7M363.8 92.8h.7M349.1 100.9h.7M363.9 88.4h.7M360.4 84.6h.7M347.1 89.6h.7M361.9 92.1h.7M351.3 82.9h.7M342.9 101.5h.7M361.9 86.5h.7M369.5 94.9h.7M354.7 87.7h.7M369.1 93.5h.7M373.7 93.8h.7M353.1 87.8h.7M352.0 93.1h.7M360.9 95.3h.7M362.7 85.0h.7M356.6 85.6h.7M363.0 83.3h.7M353.1 86.2h.7M352.8 89.9h.7M372.5 89.9h.7M345.2 89.6h.7M365.4 95.0h.7M360.7 103.9h.7M368.8 92.1h.7M369.8 83.2h.7M356.9 86.1h.7M360.1 101.6h.7M353.9 101.4h.7M349.1 100.4h.7M342.8 86.2h.7M367.7 90.9h.7M359.8 91.4h.7M360.2 90.4h.7M349.5 89.7h.7M359.5 85.9h.7M362.8 102.5h.7M343.3 88.1h.7M355.9 91.6h.7M359.4 87.0h.7M358.2 91.5h.7M357.7 101.1h.7M359.7 82.3h.7M344.0 95.2h.7M355.4 87.6h.7M346.0 89.6h.7M357.7 87.2h.7M355.3 97.0h.7M365.7 94.9h.7M356.9 83.0h.7M365.7 100.8h.7M370.3 98.8h.7M361.1 93.8h.7M358.4 99.3h.7M356.0 104.9h.7M365.7 89.5h.7M358.5 81.5h.7M351.7 89.6h.7M367.0 92.0h.7M355.8 95.4h.7M340.1 97.4h.7M376.4 93.3h.7M357.9 92.5h.7M364.6 88.4h.7M359.6 94.6h.7M355.3 93.9h.7M361.6 96.0h.7M349.4 88.2h.7M354.6 99.0h.7M360.8 81.2h.7M346.7 103.6h.7M361.6 83.4h.7M350.1 92.4h.7M371.7 101.6h.7M355.1 89.6h.7M376.2 85.4h.7M372.9 93.6h.7M359.4 99.5h.7M363.0 86.3h.7M344.4 91.6h.7M363.2 100.0h.7M334.4 99.9h.7M364.2 101.0h.7M365.9 92.8h.7M362.5 94.0h.7M352.7 90.8h.7M359.7 88.7h.7M345.0 82.5h.7M363.2 94.8h.7M359.5 84.2h.7M366.4 89.1h.7M339.4 101.3h.7M344.7 105.6h.7M363.4 88.8h.7M336.8 87.1h.7M372.2 100.0h.7M360.9 80.8h.7M355.0 89.7h.7M362.8 90.7h.7M361.7 81.3h.7M352.6 100.5h.7M345.1 97.3h.7M345.7 99.3h.7M341.4 93.6h.7M354.7 99.2h.7M369.4 92.7h.7M375.0 97.6h.7M354.1 85.4h.7M362.3 90.8h.7M354.1 81.5h.7M357.2 90.8h.7M367.6 88.3h.7M344.1 84.8h.7M358.1 93.1h.7M365.2 89.1h.7M363.5 92.4h.7M374.1 91.2h.7M359.8 95.0h.7M369.7 85.7h.7M354.1 89.8h.7M338.8 99.7h.7M368.4 91.6h.7M377.2 101.3h.7M366.9 82.6h.7M372.6 94.1h.7M347.5 91.8h.7M365.5 97.7h.7M360.1 88.2h.7M365.6 86.7h.7M357.8 96.3h.7M345.2 93.8h.7M340.4 85.7h.7M347.1 90.9h.7M365.1 91.2h.7M366.9 92.1h.7M356.6 94.6h.7M356.3 92.3h.7M368.1 87.9h.7M369.1 84.6h.7M356.5 80.6h.7M353.6 101.5h.7M361.8 99.5h.7M344.9 85.2h.7M362.8 96.7h.7M366.2 81.0h.7M363.2 91.0h.7M359.6 94.5h.7M355.9 80.9h.7M348.6 82.4h.7M346.3 90.7h.7M370.6 87.0h.7M351.4 84.3h.7M342.5 91.9h.7M354.0 90.0h.7M349.6 94.6h.7M347.4 94.9h.7M352.4 96.4h.7M350.3 94.3h.7M362.6 91.0h.7M373.6 92.6h.7M350.3 95.8h.7M350.9 88.1h.7M358.6 92.6h.7M374.3 80.5h.7M356.1 98.6h.7M357.0 93.5h.7M372.6 83.8h.7M358.9 96.5h.7M353.1 80.5h.7M349.3 92.7h.7M360.3 103.1h.7M370.8 81.8h.7M368.1 97.2h.7M373.5 90.5h.7M353.4 92.4h.7M372.8 95.4h.7M374.2 96.4h.7M353.1 85.1h.7M375.6 82.0h.7M355.3 89.5h.7M350.1 87.9h.7M358.6 106.4h.7M357.9 88.2h.7M359.6 97.4h.7M350.9 89.0h.7M342.3 95.9h.7M364.8 100.9h.7M347.4 105.2h.7M366.6 89.8h.7M354.9 89.6h.7M347.3 96.3h.7M352.9 87.0h.7M363.3 92.2h.7M353.1 90.0h.7M353.9 100.0h.7M367.8 86.9h.7M358.1 100.1h.7M355.8 102.7h.7M362.6 95.7h.7M339.3 96.8h.7M361.6 95.2h.7M363.0 94.8h.7M353.8 97.2h.7M359.1 84.9h.7M349.1 92.5h.7M361.6 77.6h.7M339.4 98.1h.7M344.3 89.9h.7M352.9 95.0h.7M371.6 101.7h.7M349.2 99.3h.7M347.2 93.4h.7M360.1 95.4h.7M351.1 99.9h.7M357.9 91.4h.7M356.0 84.8h.7M365.2 93.6h.7M362.7 103.2h.7M350.5 89.7h.7M358.6 96.9h.7M356.9 97.4h.7M362.7 80.4h.7M352.2 78.7h.7M355.9 88.9h.7M364.0 92.6h.7M357.9 99.5h.7M364.0 83.7h.7M352.1 93.6h.7M374.3 90.3h.7M356.9 93.2h.7M365.8 90.9h.7M361.2 88.8h.7M353.4 86.5h.7M364.6 88.0h.7M363.6 94.1h.7M367.5 74.6h.7M349.5 83.8h.7M357.0 96.6h.7M371.1 93.9h.7M354.9 94.9h.7M338.3 97.4h.7M358.6 95.4h.7M349.0 84.6h.7M352.5 91.2h.7M361.7 89.3h.7M361.7 95.8h.7M347.7 90.9h.7M344.1 88.0h.7M366.9 87.0h.7M375.8 94.7h.7M366.8 92.2h.7M366.5 98.4h.7M359.5 88.2h.7M353.4 103.7h.7M356.8 88.6h.7M351.9 80.9h.7M353.9 93.6h.7M354.0 86.7h.7M362.3 94.4h.7M354.5 93.4h.7M349.5 96.9h.7M349.4 89.4h.7M359.8 88.9h.7M347.9 104.8h.7M372.6 80.5h.7M359.6 83.5h.7M361.4 83.3h.7M363.9 94.9h.7M374.4 99.1h.7M354.2 97.5h.7M354.2 90.8h.7M353.9 80.4h.7M364.1 78.6h.7M356.3 94.8h.7M359.6 81.5h.7M352.5 95.8h.7M368.7 101.6h.7M341.7 94.4h.7M354.0 96.3h.7M342.8 90.6h.7M365.1 87.4h.7M355.1 85.3h.7M368.8 83.1h.7M350.0 89.4h.7M355.6 104.9h.7M361.0 86.2h.7M363.9 93.7h.7M361.1 91.1h.7M362.8 84.1h.7M347.3 88.8h.7M348.2 95.9h.7M376.5 99.3h.7M362.6 93.6h.7M352.1 83.3h.7M363.6 82.1h.7M361.3 90.6h.7M365.5 91.8h.7M359.5 87.8h.7M342.5 89.3h.7M365.0 98.1h.7M371.3 85.2h.7M349.8 95.9h.7M354.3 107.8h.7M361.4 81.9h.7M353.4 101.4h.7M341.6 92.5h.7M345.6 101.6h.7M354.3 85.0h.7M342.6 87.0h.7M334.8 88.5h.7M356.0 84.2h.7M361.7 88.5h.7M350.6 100.3h.7M362.6 85.9h.7M372.2 91.2h.7M363.2 92.4h.7M369.4 95.4h.7M355.3 96.0h.7M354.9 92.3h.7M373.7 84.8h.7M348.9 89.0h.7M353.9 99.7h.7M343.7 106.0h.7M373.2 88.7h.7M360.2 89.2h.7M364.7 95.7h.7M365.5 96.4h.7M376.4 90.4h.7M365.0 90.3h.7M358.9 92.9h.7M358.0 93.7h.7M350.6 90.5h.7M352.9 84.1h.7M351.9 88.3h.7M357.1 81.6h.7M356.1 84.3h.7M350.9 92.7h.7M368.8 93.3h.7M354.0 88.7h.7M370.9 81.2h.7M369.1 82.0h.7M352.6 91.8h.7M356.4 102.0h.7M363.1 91.2h.7M367.4 91.7h.7M351.0 98.6h.7M372.4 99.6h.7M347.6 103.6h.7M354.6 96.4h.7M369.6 106.6h.7M343.5 85.0h.7M369.5 94.6h.7M355.6 72.9h.7M362.6 90.3h.7M334.2 108.5h.7M335.2 88.0h.7M358.5 93.0h.7M365.5 89.8h.7M350.2 89.2h.7M338.9 84.4h.7M376.9 87.1h.7M357.8 103.5h.7M368.3 92.3h.7M365.3 89.8h.7M350.1 97.9h.7M359.8 101.7h.7M356.1 89.1h.7M361.7 90.3h.7M355.6 85.8h.7M360.9 93.6h.7M375.5 91.3h.7M342.2 94.5h.7M351.0 90.4h.7M331.9 89.4h.7M356.7 81.9h.7M363.9 85.9h.7M341.3 86.9h.7M364.4 103.7h.7M370.1 92.7h.7M353.7 89.8h.7M367.5 88.2h.7M362.4 97.6h.7M350.1 87.8h.7M362.7 91.6h.7M357.3 88.1h.7M357.9 103.3h.7M371.2 81.2h.7M358.9 92.1h.7M358.8 82.7h.7M357.3 92.4h.7M352.1 93.5h.7M335.8 81.9h.7M359.4 94.0h.7M357.0 88.6h.7M360.2 98.4h.7M366.9 91.0h.7M354.2 98.3h.7M363.5 97.1h.7M355.9 86.0h.7M360.2 87.5h.7M369.2 96.9h.7M338.2 95.7h.7M370.9 98.1h.7M354.1 86.0h.7M367.5 98.0h.7M359.1 84.2h.7M344.3 93.2h.7M350.8 87.2h.7M362.6 98.2h.7M339.3 87.2h.7M370.6 91.2h.7M355.3 95.6h.7M347.9 83.7h.7M358.7 101.5h.7M368.0 91.5h.7M367.9 88.9h.7M347.5 80.8h.7M361.0 97.2h.7M362.0 91.3h.7M354.8 98.4h.7M358.1 82.3h.7M371.3 87.4h.7M362.2 91.5h.7M368.3 93.1h.7M369.9 92.8h.7M354.2 88.3h.7M364.6 86.2h.7M367.2 90.0h.7M349.8 85.9h.7M357.2 102.8h.7M365.7 91.6h.7M350.1 103.6h.7M355.9 91.5h.7M354.5 100.0h.7M360.1 88.6h.7M363.9 75.4h.7M348.1 77.1h.7M342.8 108.7h.7M372.5 104.6h.7M361.2 92.6h.7M324.5 55.7h.7M367.1 91.1h.7M354.7 71.1h.7M332.2 104.8h.7M348.6 54.8h.7M336.8 73.1h.7M319.9 108.0h.7M371.5 98.9h.7M316.0 76.9h.7M322.6 94.0h.7M365.7 97.5h.7M364.6 60.5h.7M316.6 58.9h.7M367.8 99.7h.7M347.6 66.8h.7M368.7 60.4h.7M335.8 53.9h.7M376.4 76.8h.7M363.4 98.2h.7M351.6 108.5h.7M363.6 105.2h.7M375.2 58.3h.7M362.1 66.3h.7M335.8 72.7h.7M376.8 57.1h.7M342.6 60.9h.7M377.3 81.3h.7M359.1 82.6h.7M363.1 72.4h.7M341.3 95.0h.7M359.1 103.0h.7M334.8 100.8h.7M361.3 85.5h.7M341.0 85.2h.7M320.5 59.1h.7M335.0 60.6h.7M318.8 93.5h.7M360.9 87.9h.7M328.5 93.8h.7M366.7 88.1h.7M329.8 85.1h.7M340.1 68.7h.7M324.9 101.7h.7M354.8 105.5h.7M326.4 68.4h.7M347.2 57.0h.7M334.4 83.7h.7M345.5 104.2h.7M351.4 89.1h.7M351.9 97.3h.7M338.4 53.8h.7M376.3 97.7h.7M323.6 60.0h.7M329.5 90.2h.7M323.8 54.9h.7M346.3 54.1h.7M331.7 74.9h.7M328.4 53.9h.7M331.8 67.3h.7M335.8 76.7h.7M338.0 71.7h.7M316.9 100.2h.7M361.3 81.1h.7M315.9 66.7h.7M371.4 79.1h.7M328.4 99.2h.7M370.8 60.5h.7M346.7 84.9h.7M323.0 71.5h.7M353.9 91.1h.7M354.6 88.1h.7M339.1 57.6h.7M316.7 100.2h.7M369.2 103.9h.7M320.4 96.4h.7M326.4 72.9h.7M328.1 101.4h.7M366.3 99.9h.7M339.3 105.7h.7M331.8 85.6h.7M357.3 66.7h.7M339.3 59.3h.7M364.9 64.0h.7M324.1 69.2h.7M355.3 89.1h.7M348.1 101.1h.7M362.2 65.4h.7M348.8 63.1h.7M330.7 61.9h.7M320.5 73.2h.7M370.5 90.1h.7M321.2 65.9h.7M352.3 83.1h.7M317.4 59.0h.7M350.7 87.1h.7M320.7 96.6h.7M330.6 86.4h.7M348.5 72.6h.7M374.2 75.7h.7M341.9 83.7h.7M367.6 108.5h.7M363.3 83.6h.7M360.0 89.1h.7M375.0 107.6h.7M362.7 65.8h.7M350.9 78.1h.7M330.0 97.1h.7M329.4 93.1h.7M346.0 77.4h.7M359.4 93.9h.7M376.9 109.1h.7M365.1 68.4h.7M357.1 81.2h.7M373.8 78.5h.7M337.8 55.2h.7M344.8 83.3h.7M334.8 59.6h.7M345.6 57.7h.7M326.4 78.4h.7M337.2 81.5h.7M348.5 75.3h.7M324.0 54.8h.7M350.3 107.5h.7M333.1 73.3h.7M335.5 94.9h.7M346.2 97.9h.7M316.1 61.1h.7M328.5 74.2h.7M340.4 75.1h.7M375.4 78.1h.7M351.3 107.2h.7M355.4 86.7h.7M366.9 72.3h.7M318.0 106.9h.7M348.7 86.0h.7M319.9 95.1h.7M338.8 89.4h.7M333.3 104.7h.7M338.5 69.0h.7M370.9 66.1h.7M332.5 80.8h.7M376.3 60.2h.7M328.7 97.9h.7M320.4 76.7h.7M364.1 93.3h.7M364.7 60.3h.7M370.7 73.5h.7M366.0 79.9h.7M370.8 80.3h.7M331.7 62.1h.7M346.4 56.5h.7M325.9 102.2h.7M351.2 101.6h.7M325.1 80.4h.7M344.7 59.7h.7M332.0 104.9h.7M360.4 82.0h.7M353.4 101.5h.7M374.6 86.7h.7M318.9 102.1h.7M325.9 67.1h.7M324.2 82.2h.7M351.7 79.3h.7M344.8 61.6h.7M360.1 83.6h.7M334.8 100.0h.7M373.7 104.9h.7M376.6 57.6h.7M339.7 78.7h.7M331.6 95.0h.7M371.6 61.4h.7M347.0 107.4h.7M370.6 78.7h.7M322.2 79.1h.7M347.7 97.3h.7M327.2 69.2h.7M376.6 54.4h.7M353.5 59.0h.7M362.1 77.2h.7M372.9 66.1h.7M369.9 66.4h.7M318.7 58.5h.7M320.5 75.3h.7M375.8 73.4h.7M360.0 55.6h.7M347.6 83.7h.7M321.8 85.9h.7M343.3 71.9h.7M367.0 92.1h.7M323.2 59.6h.7M319.0 68.4h.7M355.1 107.5h.7M375.6 101.7h.7M323.4 97.7h.7M362.8 80.0h.7M377.2 87.0h.7M323.1 65.7h.7M323.8 87.6h.7M354.3 101.3h.7M316.4 54.3h.7M375.8 68.3h.7M332.1 101.8h.7M322.6 97.7h.7M371.1 84.9h.7M353.3 54.1h.7M353.2 87.8h.7M363.4 82.4h.7M322.8 66.1h.7M356.1 58.2h.7M322.3 67.7h.7M364.9 84.1h.7M337.8 107.2h.7M351.6 67.0h.7M350.7 101.2h.7M338.5 77.8h.7M351.4 108.5h.7M355.2 63.8h.7M351.7 71.6h.7M345.0 93.3h.7M317.0 81.9h.7M335.1 87.0h.7M366.4 79.7h.7M354.6 69.8h.7M331.6 82.0h.7M348.6 66.1h.7M363.0 81.5h.7M337.7 67.8h.7M367.4 103.8h.7M373.7 67.5h.7M320.1 88.8h.7M317.3 101.2h.7M357.7 72.4h.7M343.0 91.6h.7M325.6 74.0h.7M364.3 91.5h.7M351.9 59.5h.7M329.2 68.0h.7M317.7 89.2h.7M351.1 105.0h.7M350.0 104.7h.7M344.7 82.4h.7M333.1 79.5h.7M373.6 80.8h.7M315.9 73.4h.7M328.0 88.3h.7" stroke="#000" stroke-width="0.7" stroke-opacity="0.8" fill="none"/>
</g>
<rect x="315.75" y="53.75" width="61.75" height="55.45" fill="none" stroke="#000" stroke-width="1.5"/>
<line x1="342.5" y1="53.75" x2="342.5" y2="109.2" stroke="#000" stroke-width="1.5" />
<line x1="315.75" y1="80" x2="377.5" y2="80" stroke="#000" stroke-width="1.5" />
</g>
<g><clipPath id="c386"><rect x="386" y="53.75" width="62" height="55.45"/></clipPath><g clip-path="url(#c386)">
<ellipse cx="398" cy="94.7" rx="9" ry="12.8" fill="url(#blob)" transform="rotate(0 398 94.7)"/>
<ellipse cx="398" cy="76" rx="6" ry="8" fill="url(#blob3)" transform="rotate(0 398 76)"/>
<ellipse cx="398" cy="70" rx="12" ry="7.5" fill="url(#blob3)" transform="rotate(0 398 70)"/>
<ellipse cx="435" cy="68.5" rx="8" ry="5" fill="url(#blob2)" transform="rotate(-10 435 68.5)"/>
<ellipse cx="432" cy="93" rx="13" ry="10" fill="url(#blob3)" transform="rotate(0 432 93)"/>
<path d="M391.8 93.5h.7M406.4 88.0h.7M399.2 95.0h.7M395.7 83.7h.7M394.3 86.3h.7M403.9 96.0h.7M401.8 84.7h.7M400.7 95.1h.7M403.7 88.3h.7M402.4 104.8h.7M407.8 86.7h.7M391.9 82.5h.7M403.2 98.7h.7M399.9 87.2h.7M404.8 106.6h.7M397.8 93.1h.7M404.5 98.0h.7M405.3 90.8h.7M399.8 91.4h.7M394.9 91.7h.7M396.5 98.0h.7M396.4 94.6h.7M393.6 84.4h.7M405.8 86.3h.7M407.9 101.4h.7M395.7 94.2h.7M397.0 89.3h.7M404.8 93.0h.7M403.2 88.6h.7M394.3 104.5h.7M396.5 85.4h.7M397.1 102.2h.7M397.1 88.4h.7M401.5 101.7h.7M396.9 91.5h.7M397.0 107.7h.7M397.2 97.2h.7M386.9 95.4h.7M398.3 91.5h.7M395.8 83.3h.7M389.9 95.3h.7M394.5 93.3h.7M397.0 90.0h.7M394.1 108.5h.7M392.0 90.0h.7M396.4 85.0h.7M392.8 100.8h.7M403.1 95.0h.7M415.6 100.5h.7M404.7 87.6h.7M403.9 107.2h.7M396.0 108.1h.7M393.6 85.1h.7M397.8 87.7h.7M401.5 85.4h.7M398.5 78.7h.7M397.8 102.2h.7M396.6 96.4h.7M403.9 85.4h.7M391.1 94.6h.7M399.5 91.9h.7M392.7 103.5h.7M391.7 92.0h.7M397.8 99.7h.7M395.6 87.6h.7M408.9 87.4h.7M402.3 92.8h.7M395.4 93.7h.7M396.6 96.4h.7M398.4 86.4h.7M408.0 99.0h.7M399.3 91.6h.7M405.6 90.5h.7M393.6 99.4h.7M392.8 87.8h.7M405.9 81.5h.7M397.7 94.9h.7M399.4 82.6h.7M396.8 91.4h.7M408.5 101.9h.7M393.9 100.8h.7M401.6 93.1h.7M396.7 91.9h.7M389.6 89.1h.7M403.1 105.3h.7M408.1 91.1h.7M401.4 75.2h.7M396.6 84.1h.7M402.5 81.1h.7M392.4 85.4h.7M400.2 100.5h.7M393.0 108.1h.7M398.9 87.5h.7M399.9 93.9h.7M402.5 96.7h.7M409.9 103.1h.7M394.6 100.2h.7M402.2 86.2h.7M394.0 87.7h.7M396.9 103.6h.7M395.0 94.6h.7M402.0 101.6h.7M399.8 85.9h.7M410.0 100.8h.7M405.4 106.6h.7M405.6 97.2h.7M400.6 98.9h.7M389.9 100.4h.7M392.7 97.3h.7M392.5 99.6h.7M399.1 98.0h.7M393.1 91.8h.7M397.7 91.8h.7M395.7 87.2h.7M402.2 91.0h.7M393.6 96.9h.7M393.6 92.6h.7M395.3 86.8h.7M396.8 87.6h.7M391.2 96.8h.7M396.4 82.6h.7M395.9 95.5h.7M400.4 96.9h.7M399.4 98.7h.7M395.4 87.8h.7M401.4 90.8h.7M398.1 99.1h.7M403.1 103.5h.7M394.3 91.1h.7M401.1 82.8h.7M391.2 98.7h.7M394.7 86.8h.7M402.4 98.1h.7M403.0 91.4h.7M396.5 91.4h.7M399.7 78.2h.7M394.3 99.5h.7M393.8 93.5h.7M398.7 98.1h.7M395.5 85.2h.7M411.6 88.4h.7M407.3 80.3h.7M398.6 92.5h.7M403.3 86.1h.7M393.7 88.2h.7M395.3 96.0h.7M393.8 92.1h.7M406.0 105.2h.7M388.0 86.6h.7M396.0 104.1h.7M396.3 108.9h.7M400.0 105.2h.7M393.4 91.6h.7M403.6 98.5h.7M388.0 91.9h.7M399.0 98.9h.7M394.6 107.5h.7M398.9 105.3h.7M400.2 94.7h.7M396.3 84.9h.7M402.7 99.9h.7M403.1 91.1h.7M392.6 91.1h.7M396.4 93.9h.7M403.4 86.9h.7M395.4 99.4h.7M400.9 87.4h.7M392.4 87.9h.7M398.4 96.0h.7M397.7 89.3h.7M397.1 93.4h.7M401.3 94.7h.7M393.7 84.9h.7M406.1 93.3h.7M397.1 93.8h.7M404.2 91.6h.7M399.0 92.2h.7M401.2 86.2h.7M399.2 102.0h.7M404.5 98.8h.7M399.7 106.2h.7M401.9 104.9h.7M391.6 85.5h.7M402.4 92.0h.7M395.7 86.7h.7M406.1 84.8h.7M398.6 83.2h.7M411.2 90.2h.7M392.6 106.6h.7M393.5 80.2h.7M399.9 85.7h.7M390.2 102.7h.7M394.1 85.8h.7M399.0 92.6h.7M404.1 94.8h.7M406.7 102.8h.7M407.7 102.7h.7M398.5 98.2h.7M398.2 82.0h.7M391.7 99.8h.7M391.2 93.5h.7M392.5 95.9h.7M397.0 90.4h.7M393.5 76.8h.7M398.5 84.0h.7M396.5 96.9h.7M403.7 99.5h.7M406.0 83.0h.7M401.7 106.2h.7M400.2 85.4h.7M400.2 90.0h.7M394.6 102.3h.7M397.1 85.4h.7M393.5 99.2h.7M399.0 103.1h.7M396.6 86.7h.7M394.6 86.1h.7M412.0 95.5h.7M396.4 103.8h.7M401.6 92.6h.7M401.4 96.1h.7M404.1 106.8h.7M396.4 93.7h.7M397.1 103.5h.7M400.2 100.1h.7M402.9 89.1h.7M398.8 104.7h.7M403.1 100.3h.7M396.6 91.2h.7M393.5 91.9h.7M397.7 82.9h.7M404.3 88.1h.7M399.4 98.7h.7M395.1 80.0h.7M403.3 97.2h.7M396.7 102.8h.7M402.9 86.6h.7M397.7 80.4h.7M396.7 104.9h.7M393.6 100.4h.7M390.0 91.7h.7M403.2 107.3h.7M400.5 99.9h.7M407.3 75.1h.7M388.9 108.6h.7M411.3 98.6h.7M398.4 96.0h.7M398.2 89.3h.7M398.0 93.1h.7M401.7 99.3h.7M403.4 98.6h.7M392.9 104.8h.7M399.9 89.9h.7M408.1 85.6h.7M391.8 90.1h.7M400.3 100.2h.7M398.7 99.2h.7M394.3 89.3h.7M398.8 83.6h.7M399.1 91.0h.7M401.8 86.2h.7M395.3 89.6h.7M396.1 86.3h.7M396.7 83.6h.7M401.0 99.2h.7M398.0 92.6h.7M393.3 86.6h.7M396.9 87.0h.7M391.8 95.3h.7M398.0 90.9h.7M393.7 93.6h.7M394.4 90.7h.7M399.1 99.6h.7M402.1 89.3h.7M404.5 85.1h.7M397.2 104.1h.7M410.8 95.0h.7M396.2 91.1h.7M391.6 92.9h.7M395.8 88.2h.7M404.5 88.0h.7M407.1 100.5h.7M401.5 89.5h.7M395.4 78.6h.7M399.5 91.9h.7M400.2 88.8h.7M400.7 82.5h.7M386.4 97.7h.7M403.8 69.7h.7M404.9 91.3h.7M397.2 82.1h.7M392.8 99.5h.7M394.2 93.7h.7M402.8 83.8h.7M395.5 85.1h.7M390.7 88.7h.7M403.9 94.4h.7M401.7 93.0h.7M395.8 94.7h.7M397.7 108.9h.7M407.6 96.9h.7M401.3 78.6h.7M393.8 100.3h.7M404.6 90.9h.7M396.9 90.5h.7M402.3 94.2h.7M406.1 103.2h.7M396.4 89.3h.7M396.8 87.2h.7M395.8 93.5h.7M402.8 81.8h.7M390.6 88.0h.7M396.5 97.5h.7M393.9 105.7h.7M395.3 92.3h.7M398.4 103.1h.7M399.7 94.2h.7M395.2 95.3h.7M400.2 91.3h.7M398.0 79.8h.7M395.3 103.2h.7M405.6 93.4h.7M386.6 108.2h.7M395.9 101.8h.7M394.8 104.6h.7M404.2 85.8h.7M396.9 84.6h.7M399.5 90.9h.7M390.1 85.9h.7M399.4 82.2h.7M403.8 97.5h.7M397.1 104.9h.7M393.2 99.3h.7M390.9 91.5h.7M401.5 89.9h.7M397.5 99.0h.7M406.1 104.1h.7M400.5 92.0h.7M390.4 107.3h.7M408.0 77.3h.7M402.7 93.7h.7M401.8 96.5h.7M397.0 94.0h.7M397.9 103.1h.7M396.7 89.8h.7M401.5 99.0h.7M400.4 96.2h.7M405.9 102.7h.7M399.2 92.4h.7M401.6 79.5h.7M395.3 88.5h.7M399.0 91.0h.7M411.1 99.7h.7M398.0 91.5h.7M404.6 100.4h.7M403.0 103.4h.7M396.1 88.9h.7M394.2 94.8h.7M403.4 85.8h.7M395.2 83.6h.7M408.6 100.2h.7M399.2 84.5h.7M392.6 89.0h.7M398.2 84.1h.7M396.9 103.5h.7M398.1 94.8h.7M387.0 91.9h.7M397.3 88.6h.7M390.7 93.4h.7M392.6 89.8h.7M389.6 93.3h.7M402.9 87.5h.7M399.8 82.2h.7M401.1 98.2h.7M396.0 100.9h.7M393.4 94.4h.7M407.0 93.8h.7M392.1 103.0h.7M400.9 91.8h.7M388.4 79.3h.7M390.0 105.6h.7M399.6 87.4h.7M404.1 105.4h.7M393.6 97.8h.7M389.4 96.9h.7M407.6 83.0h.7M398.4 89.1h.7M397.6 94.7h.7M399.5 100.9h.7M400.8 102.2h.7M403.4 102.6h.7M394.5 97.2h.7M396.1 87.4h.7M408.4 96.3h.7M398.3 77.6h.7M396.8 100.0h.7M397.0 89.8h.7M405.8 91.6h.7M396.3 93.2h.7M396.8 102.2h.7M401.1 93.5h.7M396.1 92.2h.7M407.0 91.6h.7M401.5 81.7h.7M399.7 99.4h.7M404.8 96.5h.7M401.1 96.5h.7M399.1 87.6h.7M401.2 93.1h.7M401.4 100.1h.7M398.9 90.6h.7M399.7 84.3h.7M399.5 87.1h.7M400.4 95.0h.7M396.9 84.6h.7M398.3 88.7h.7M397.3 99.4h.7M403.1 83.9h.7M403.0 104.6h.7M404.0 96.2h.7M397.6 107.6h.7M396.4 82.1h.7M398.5 96.2h.7M392.6 84.5h.7M408.5 94.9h.7M402.2 89.4h.7M390.1 92.6h.7M405.1 88.8h.7M388.6 92.7h.7M396.6 94.1h.7M392.6 91.6h.7M395.2 100.9h.7M398.9 100.8h.7M397.8 77.3h.7M387.8 98.2h.7M402.7 100.8h.7M397.7 80.1h.7M395.5 97.2h.7M405.3 91.3h.7M395.1 88.0h.7M403.4 100.8h.7M388.5 103.5h.7M393.2 82.5h.7M389.7 88.3h.7M391.5 88.8h.7M398.9 97.2h.7M395.5 81.6h.7M395.9 88.7h.7M388.6 95.1h.7M390.3 80.4h.7M406.0 101.3h.7M405.7 94.9h.7M395.9 93.3h.7M390.9 99.8h.7M399.5 91.6h.7M388.2 93.1h.7M406.6 105.3h.7M402.7 91.3h.7M398.8 98.3h.7M399.1 102.2h.7M394.6 75.9h.7M390.8 99.2h.7M403.7 94.0h.7M400.9 94.6h.7M399.0 90.3h.7M395.9 103.3h.7M396.6 93.7h.7M404.4 101.7h.7M396.0 96.0h.7M392.7 95.0h.7M399.7 94.0h.7M398.9 96.9h.7M398.5 90.2h.7M393.0 92.1h.7M406.5 92.2h.7M394.6 90.3h.7M391.8 97.8h.7M392.9 101.1h.7M402.9 98.5h.7M403.5 93.3h.7M388.8 93.5h.7M401.4 81.9h.7M391.6 102.6h.7M400.4 104.5h.7M401.6 94.5h.7M400.3 100.6h.7M397.9 92.4h.7M399.7 91.5h.7M410.8 88.0h.7M390.1 83.9h.7M403.6 90.8h.7M398.9 92.3h.7M399.5 82.7h.7M398.5 89.5h.7M403.8 98.9h.7M391.4 86.4h.7M401.1 103.4h.7M402.1 92.8h.7M403.9 75.6h.7M395.2 86.4h.7M392.6 98.4h.7M399.5 96.2h.7M397.4 98.9h.7M402.2 89.5h.7M403.0 86.7h.7M407.4 83.8h.7M396.6 85.5h.7M398.3 104.3h.7M394.1 107.9h.7M405.5 97.0h.7M395.0 101.1h.7M403.2 93.7h.7M411.2 88.7h.7M391.0 92.3h.7M401.1 107.4h.7M388.7 95.2h.7M404.8 88.7h.7M395.7 84.5h.7M402.1 100.5h.7M401.2 95.9h.7M403.3 93.0h.7M401.9 100.4h.7M405.0 98.0h.7M398.5 99.6h.7M389.8 80.2h.7M406.7 95.1h.7M392.5 89.4h.7M397.3 94.6h.7M394.0 101.8h.7M392.3 107.0h.7M401.6 80.8h.7M391.5 94.5h.7M399.5 90.7h.7M398.1 95.3h.7M392.0 94.5h.7M410.2 88.9h.7M392.7 99.2h.7M405.3 102.2h.7M394.7 93.4h.7M399.2 92.4h.7M400.2 102.5h.7M401.0 93.9h.7M397.0 108.1h.7M402.0 94.7h.7M394.1 108.4h.7M404.6 101.2h.7M409.3 79.9h.7M398.6 91.6h.7M394.2 94.6h.7M401.0 98.1h.7M397.3 83.6h.7M401.1 98.8h.7M409.5 101.4h.7M398.2 85.0h.7M412.8 88.7h.7M399.1 99.9h.7M400.8 104.5h.7M392.5 88.6h.7M399.0 84.3h.7M394.8 104.9h.7M399.7 93.2h.7M395.0 94.4h.7M397.9 85.5h.7M402.3 83.9h.7M405.0 91.3h.7M399.6 87.1h.7M407.9 104.9h.7M409.5 101.1h.7M405.4 89.2h.7M405.1 90.5h.7M397.8 83.2h.7M398.4 97.2h.7M397.7 85.2h.7M403.0 101.2h.7M397.6 100.2h.7M403.4 86.2h.7M397.9 79.3h.7M392.4 97.4h.7M393.3 97.1h.7M400.0 77.6h.7M395.4 106.0h.7M398.1 95.0h.7M394.2 81.3h.7M397.1 87.1h.7M398.7 78.6h.7M405.7 107.6h.7M394.0 96.6h.7M393.1 100.8h.7M393.5 92.9h.7M405.2 98.2h.7M396.3 81.9h.7M389.4 103.6h.7M400.9 94.5h.7M404.9 95.2h.7M394.1 93.2h.7M397.5 93.9h.7M411.7 98.6h.7M399.6 92.0h.7M394.3 86.1h.7M387.8 90.3h.7M389.7 79.2h.7M392.9 77.8h.7M405.6 103.9h.7M401.7 73.9h.7M398.2 86.0h.7M388.5 91.9h.7M404.4 97.5h.7M390.0 88.7h.7M393.9 103.1h.7M397.5 86.2h.7M393.0 78.3h.7M393.4 101.2h.7M387.5 95.5h.7M397.4 100.5h.7M391.8 101.3h.7M389.1 93.8h.7M396.9 95.0h.7M392.6 100.9h.7M411.0 106.0h.7M392.8 89.4h.7M402.1 95.1h.7M393.8 103.9h.7M400.9 102.2h.7M397.1 104.2h.7M395.5 85.1h.7M398.0 82.8h.7M405.0 99.9h.7M388.8 95.4h.7M402.7 91.1h.7M400.3 89.3h.7M397.7 93.3h.7M400.7 86.2h.7M391.8 96.6h.7M395.2 98.2h.7M395.3 83.5h.7M402.1 96.1h.7M402.1 91.3h.7M396.1 104.1h.7M388.7 107.9h.7M400.9 93.5h.7M398.5 98.8h.7M393.8 96.2h.7M392.8 79.2h.7M399.1 94.8h.7M401.6 98.5h.7M401.9 100.3h.7M392.2 103.8h.7M412.8 89.5h.7M391.1 99.5h.7M403.1 102.1h.7M406.5 82.9h.7M400.1 97.7h.7M404.9 86.8h.7M398.2 91.0h.7M397.1 92.8h.7M397.2 79.8h.7M397.8 94.5h.7M395.9 65.5h.7M394.2 88.8h.7M393.2 106.9h.7M403.1 92.5h.7M392.7 97.8h.7M394.7 105.9h.7M404.2 93.0h.7M401.4 87.6h.7M389.3 100.8h.7M407.1 91.6h.7M395.1 79.6h.7M409.9 84.4h.7M392.7 92.4h.7M404.7 94.4h.7M397.9 94.2h.7M402.7 93.7h.7M398.9 93.4h.7M391.9 104.8h.7M394.2 83.4h.7M395.6 94.3h.7M402.6 82.2h.7M391.0 95.4h.7M400.1 85.2h.7M391.7 95.4h.7M397.2 81.0h.7M393.2 105.9h.7M392.2 102.4h.7M389.5 105.9h.7M406.9 88.9h.7M394.2 99.1h.7M391.2 98.4h.7M404.8 96.1h.7M399.8 92.7h.7M403.6 87.4h.7M406.8 93.8h.7M396.2 80.9h.7M395.6 95.9h.7M404.9 81.0h.7M397.3 88.5h.7M391.4 94.0h.7M393.8 101.0h.7M387.5 78.3h.7M400.9 91.3h.7M398.7 86.2h.7M392.2 88.1h.7M397.7 87.2h.7M395.7 87.1h.7M399.3 84.9h.7M386.5 72.9h.7M397.9 94.8h.7M403.3 88.0h.7M391.7 82.0h.7M402.2 89.0h.7M403.5 93.4h.7M396.5 79.1h.7M394.3 100.3h.7M394.6 99.4h.7M388.9 102.2h.7M413.4 103.0h.7M399.8 84.1h.7M395.1 88.7h.7M399.0 77.8h.7M393.2 100.4h.7M398.8 100.0h.7M402.7 84.8h.7M390.6 97.7h.7M398.2 94.6h.7M393.5 102.2h.7M400.7 103.2h.7M396.0 99.6h.7M397.7 86.4h.7M397.6 80.7h.7M397.0 95.4h.7M401.8 85.5h.7M390.7 88.1h.7M386.6 88.8h.7M412.4 95.2h.7M393.8 88.5h.7M407.8 84.6h.7M397.4 93.4h.7M394.0 88.2h.7M388.7 87.3h.7M405.2 105.4h.7M396.4 99.7h.7M400.5 94.9h.7M397.2 103.8h.7M401.1 92.2h.7M396.7 101.5h.7M394.7 88.2h.7M396.5 90.0h.7M405.0 96.9h.7M397.5 89.8h.7M405.8 97.5h.7M409.5 101.3h.7M396.8 89.6h.7M396.4 95.5h.7M402.4 97.9h.7M406.7 81.8h.7M398.2 82.6h.7M392.3 89.2h.7M394.4 86.2h.7M389.6 103.1h.7M396.2 101.7h.7M391.9 75.4h.7M394.7 101.1h.7M394.9 97.2h.7M392.1 105.2h.7M400.4 102.4h.7M396.5 104.3h.7M398.4 90.1h.7M394.5 94.4h.7M393.0 84.4h.7M398.5 80.3h.7M397.0 81.1h.7M403.6 68.4h.7M398.9 70.2h.7M395.7 77.1h.7M389.7 79.6h.7M400.9 79.3h.7M400.3 86.9h.7M396.7 82.6h.7M403.1 79.0h.7M391.7 75.1h.7M397.0 66.3h.7M397.8 80.5h.7M397.1 74.9h.7M403.2 72.3h.7M394.7 76.2h.7M401.9 79.6h.7M398.3 73.0h.7M402.3 81.3h.7M391.9 78.0h.7M389.6 85.0h.7M400.1 72.2h.7M393.5 74.2h.7M391.9 79.4h.7M396.2 65.4h.7M397.9 83.1h.7M393.5 73.9h.7M404.4 77.1h.7M396.0 77.1h.7M400.7 70.0h.7M397.7 66.2h.7M392.4 66.7h.7M401.0 77.9h.7M400.6 83.3h.7M398.2 77.4h.7M399.4 78.8h.7M394.3 74.3h.7M397.5 76.2h.7M395.4 75.2h.7M399.0 77.1h.7M400.1 80.9h.7M400.0 81.8h.7M400.9 84.4h.7M400.2 72.3h.7M406.2 82.8h.7M402.4 80.4h.7M398.2 69.1h.7M399.5 73.9h.7M396.6 63.1h.7M403.4 69.0h.7M394.1 78.8h.7M400.0 71.2h.7M398.0 77.5h.7M398.5 79.2h.7M400.7 73.8h.7M392.3 89.0h.7M396.6 70.0h.7M400.6 79.5h.7M395.8 90.1h.7M389.7 83.7h.7M397.9 77.9h.7M399.1 74.6h.7M399.1 68.2h.7M396.6 87.1h.7M388.9 83.4h.7M390.2 70.9h.7M401.1 73.5h.7M396.0 67.0h.7M397.6 74.9h.7M395.8 66.6h.7M398.5 78.5h.7M402.0 79.1h.7M403.3 83.2h.7M388.1 86.0h.7M397.6 69.7h.7M399.5 81.8h.7M392.6 68.6h.7M400.4 72.7h.7M403.1 77.3h.7M396.1 68.0h.7M400.1 65.6h.7M393.4 68.1h.7M404.0 86.3h.7M397.2 73.7h.7M400.5 83.5h.7M395.2 89.2h.7M397.3 82.8h.7M389.7 75.7h.7M395.5 87.9h.7M397.2 68.3h.7M404.8 71.9h.7M398.0 68.5h.7M400.4 77.2h.7M397.0 73.6h.7M396.0 71.7h.7M393.1 83.3h.7M401.1 67.6h.7M393.9 78.4h.7M406.0 74.8h.7M396.9 74.5h.7M398.9 74.9h.7M401.8 81.9h.7M399.9 85.5h.7M397.2 72.7h.7M408.5 64.4h.7M392.5 61.8h.7M399.3 69.6h.7M401.7 63.4h.7M397.5 73.6h.7M394.2 82.7h.7M396.6 78.7h.7M396.1 76.9h.7M396.4 76.4h.7M397.6 71.9h.7M399.5 74.9h.7M394.6 69.7h.7M399.6 84.0h.7M393.4 73.5h.7M399.6 82.3h.7M400.5 68.9h.7M398.1 81.4h.7M398.8 74.6h.7M393.8 77.0h.7M397.8 76.2h.7M403.3 83.1h.7M395.2 77.4h.7M396.9 76.6h.7M403.7 81.5h.7M398.1 72.0h.7M397.4 78.2h.7M396.2 82.6h.7M398.1 68.9h.7M405.2 58.5h.7M397.0 75.3h.7M401.5 82.7h.7M403.1 85.4h.7M399.1 76.7h.7M401.6 75.8h.7M393.6 73.3h.7M400.3 79.7h.7M394.1 83.2h.7M399.1 66.9h.7M399.6 82.1h.7M399.9 74.1h.7M395.2 82.7h.7M398.8 76.0h.7M396.6 69.8h.7M391.4 73.9h.7M401.9 80.6h.7M395.6 85.2h.7M397.2 69.9h.7M401.4 84.3h.7M396.6 68.6h.7M397.8 61.4h.7M398.2 85.2h.7M399.0 71.6h.7M400.5 73.0h.7M402.4 73.8h.7M405.2 73.9h.7M398.7 70.3h.7M393.5 78.1h.7M399.2 70.1h.7M400.0 73.5h.7M396.1 75.6h.7M399.4 80.4h.7M402.3 78.3h.7M395.4 71.9h.7M399.3 68.8h.7M397.4 73.7h.7M397.7 77.1h.7M401.7 85.9h.7M401.1 82.1h.7M394.2 82.2h.7M402.6 67.8h.7M406.9 72.6h.7M389.6 86.6h.7M398.2 71.2h.7M396.0 82.4h.7M398.9 73.7h.7M402.0 70.4h.7M395.0 72.6h.7M395.4 80.1h.7M397.2 69.7h.7M396.4 64.1h.7M398.6 76.6h.7M400.1 74.6h.7M399.4 70.4h.7M398.1 76.9h.7M393.7 79.5h.7M398.5 76.3h.7M396.3 88.0h.7M398.0 71.4h.7M395.0 79.6h.7M397.3 71.3h.7M395.5 81.6h.7M398.3 82.3h.7M397.9 68.9h.7M401.0 77.9h.7M395.7 74.1h.7M394.6 81.0h.7M396.5 78.9h.7M398.9 74.4h.7M399.3 74.5h.7M393.9 73.5h.7M393.9 80.5h.7M400.3 72.5h.7M400.2 77.5h.7M401.4 70.4h.7M398.1 70.0h.7M395.6 84.2h.7M391.0 70.5h.7M399.7 80.7h.7M395.2 63.8h.7M392.0 78.2h.7M401.9 81.4h.7M395.4 84.1h.7M397.3 79.7h.7M397.3 85.6h.7M396.2 63.1h.7M396.9 77.1h.7M399.9 66.8h.7M396.4 64.9h.7M396.4 70.4h.7M399.7 77.4h.7M401.0 64.8h.7M398.5 70.0h.7M391.0 73.2h.7M411.4 73.0h.7M403.4 74.8h.7M397.1 74.4h.7M392.3 70.8h.7M402.9 75.9h.7M396.0 68.7h.7M401.3 69.6h.7M399.0 73.6h.7M392.6 73.9h.7M400.7 68.8h.7M389.3 67.2h.7M397.7 74.2h.7M399.3 64.9h.7M404.0 71.8h.7M401.0 65.6h.7M390.3 74.1h.7M407.8 71.6h.7M396.7 68.0h.7M386.0 74.4h.7M397.3 75.5h.7M393.0 74.7h.7M393.0 72.6h.7M407.6 66.8h.7M404.3 70.0h.7M391.5 70.9h.7M402.5 66.8h.7M396.1 67.5h.7M392.6 69.1h.7M403.7 67.8h.7M406.7 68.3h.7M393.2 74.8h.7M407.8 67.1h.7M402.1 64.8h.7M395.2 68.3h.7M402.9 64.4h.7M394.4 66.9h.7M398.7 64.5h.7M388.7 82.6h.7M399.5 63.3h.7M403.8 64.1h.7M406.7 66.3h.7M390.4 72.1h.7M412.1 72.7h.7M402.6 64.7h.7M405.0 70.6h.7M398.0 76.2h.7M392.2 74.9h.7M403.8 67.2h.7M398.9 70.5h.7M402.0 65.7h.7M396.4 70.4h.7M398.2 70.1h.7M399.7 69.1h.7M394.5 74.6h.7M393.6 68.6h.7M391.9 64.9h.7M401.1 69.8h.7M397.1 72.0h.7M396.8 73.0h.7M410.5 71.5h.7M396.2 77.3h.7M402.9 62.6h.7M407.2 70.9h.7M403.9 64.9h.7M392.1 67.1h.7M401.8 65.0h.7M393.1 74.2h.7M393.6 70.5h.7M391.8 62.5h.7M397.4 69.5h.7M388.1 74.3h.7M403.6 73.9h.7M394.5 64.9h.7M397.4 70.7h.7M396.8 67.4h.7M391.1 66.7h.7M397.4 67.8h.7M409.5 68.8h.7M401.1 67.9h.7M396.7 65.7h.7M394.7 63.4h.7M390.7 71.9h.7M397.1 67.5h.7M403.0 67.5h.7M401.0 68.4h.7M404.7 74.2h.7M398.4 74.8h.7M401.5 76.9h.7M397.2 63.2h.7M399.4 71.0h.7M395.5 69.1h.7M396.1 64.5h.7M409.8 66.6h.7M390.6 63.0h.7M392.2 69.8h.7M408.1 72.6h.7M393.0 64.5h.7M390.3 69.6h.7M403.9 67.9h.7M409.0 78.5h.7M399.1 60.4h.7M405.5 69.6h.7M402.6 74.3h.7M391.1 70.3h.7M399.2 66.7h.7M402.8 69.4h.7M395.2 78.3h.7M399.1 77.2h.7M396.9 74.6h.7M392.8 70.6h.7M405.4 60.4h.7M401.7 68.8h.7M405.4 70.8h.7M397.5 64.3h.7M418.1 66.7h.7M395.8 66.8h.7M395.9 71.0h.7M388.8 74.6h.7M396.2 72.6h.7M395.9 68.3h.7M393.4 71.4h.7M400.8 65.7h.7M395.8 74.7h.7M403.9 69.5h.7M388.2 68.4h.7M393.0 75.5h.7M386.4 74.0h.7M387.4 67.5h.7M388.3 66.9h.7M394.9 71.6h.7M393.9 73.0h.7M409.9 70.7h.7M390.1 69.2h.7M397.3 68.4h.7M405.8 75.1h.7M411.7 72.3h.7M402.5 66.4h.7M393.9 74.0h.7M398.9 65.0h.7M394.0 56.4h.7M397.9 64.6h.7M397.6 64.8h.7M391.6 67.7h.7M417.0 64.8h.7M389.9 67.6h.7M405.2 73.5h.7M402.7 68.6h.7M398.8 66.6h.7M396.7 66.4h.7M388.0 65.6h.7M411.1 71.7h.7M392.8 69.5h.7M394.9 75.4h.7M397.8 67.2h.7M402.6 71.4h.7M393.3 66.6h.7M398.9 62.8h.7M391.7 74.4h.7M403.8 74.9h.7M394.9 67.4h.7M396.1 67.9h.7M406.7 69.0h.7M407.2 66.9h.7M400.5 77.1h.7M392.9 67.1h.7M393.8 62.9h.7M395.9 67.1h.7M413.0 67.9h.7M404.4 69.8h.7M399.9 73.1h.7M394.1 70.2h.7M398.9 77.3h.7M407.6 70.7h.7M388.8 73.9h.7M397.6 75.1h.7M398.3 70.8h.7M402.4 66.8h.7M393.4 80.1h.7M392.0 74.1h.7M402.6 73.6h.7M407.3 64.1h.7M404.4 60.9h.7M398.3 71.5h.7M404.9 74.8h.7M391.6 68.8h.7M396.8 66.9h.7M392.3 67.1h.7M405.7 76.0h.7M403.0 77.4h.7M398.5 65.2h.7M393.5 70.9h.7M404.9 75.3h.7M391.8 74.2h.7M394.3 72.6h.7M404.2 76.5h.7M394.3 71.1h.7M400.8 68.1h.7M398.5 72.6h.7M386.7 67.1h.7M413.6 72.0h.7M394.1 61.9h.7M391.4 72.3h.7M402.5 72.0h.7M401.9 67.3h.7M408.8 65.0h.7M401.4 68.8h.7M386.3 74.0h.7M396.0 73.1h.7M406.6 70.7h.7M393.4 69.0h.7M397.4 76.4h.7M403.7 77.0h.7M403.1 66.6h.7M404.2 74.3h.7M397.1 72.0h.7M395.7 64.4h.7M397.3 73.4h.7M395.4 60.1h.7M392.5 74.8h.7M399.4 74.9h.7M392.8 68.1h.7M391.1 66.6h.7M401.4 70.6h.7M394.6 71.3h.7M389.0 68.3h.7M387.7 63.4h.7M388.6 65.1h.7M408.6 76.1h.7M406.5 67.4h.7M402.1 65.0h.7M394.2 71.1h.7M387.0 70.9h.7M402.1 60.8h.7M397.1 70.6h.7M390.2 72.5h.7M398.7 66.8h.7M409.1 71.1h.7M402.9 78.2h.7M394.5 69.0h.7M386.1 69.0h.7M400.9 81.1h.7M401.7 70.9h.7M389.3 66.2h.7M398.6 71.3h.7M391.7 69.0h.7M392.4 72.7h.7M402.2 67.5h.7M394.8 64.6h.7M394.7 79.7h.7M397.8 73.8h.7M401.8 76.5h.7M395.7 66.0h.7M405.0 74.1h.7M393.4 74.9h.7M397.8 69.8h.7M410.4 72.4h.7M400.0 68.6h.7M399.2 74.7h.7M401.0 66.6h.7M400.9 69.5h.7M400.0 69.1h.7M395.3 60.2h.7M387.6 79.0h.7M402.6 67.9h.7M400.1 60.0h.7M399.6 74.4h.7M399.2 64.2h.7M404.5 67.6h.7M394.0 70.9h.7M395.8 79.1h.7M396.9 79.6h.7M401.0 64.5h.7M397.9 70.2h.7M407.7 75.7h.7M415.3 67.0h.7M394.9 80.4h.7M391.8 71.6h.7M408.9 65.5h.7M395.5 66.7h.7M401.5 71.8h.7M397.6 72.9h.7M392.5 68.3h.7M401.1 79.0h.7M397.6 70.3h.7M406.9 70.3h.7M406.8 71.1h.7M405.8 70.8h.7M391.6 66.2h.7M400.8 78.4h.7M410.6 68.6h.7M415.0 65.0h.7M392.1 74.2h.7M387.5 74.1h.7M400.5 72.8h.7M389.6 71.7h.7M404.3 69.8h.7M404.9 70.1h.7M400.2 68.6h.7M388.6 69.3h.7M401.3 66.6h.7M406.9 69.0h.7M392.6 75.5h.7M396.7 63.3h.7M394.9 66.0h.7M396.6 65.9h.7M398.4 72.1h.7M394.0 69.1h.7M396.8 73.7h.7M393.0 73.4h.7M406.5 69.1h.7M391.3 68.6h.7M389.7 69.2h.7M395.3 72.3h.7M398.7 71.9h.7M397.6 71.3h.7M390.1 73.0h.7M406.8 75.0h.7M388.7 71.9h.7M386.7 73.4h.7M396.5 67.9h.7M392.8 68.9h.7M397.9 65.7h.7M398.3 71.2h.7M401.5 69.8h.7M397.9 80.4h.7M404.8 71.5h.7M388.4 72.8h.7M401.8 58.1h.7M396.8 71.7h.7M398.2 70.4h.7M396.8 76.2h.7M400.5 68.7h.7M396.3 79.4h.7M392.0 67.6h.7M400.1 70.7h.7M400.0 76.1h.7M405.7 71.9h.7M398.2 69.7h.7M396.3 74.5h.7M389.2 65.3h.7M394.8 65.7h.7M392.8 75.4h.7M388.9 68.9h.7M394.0 65.5h.7M387.7 70.3h.7M395.2 74.9h.7M410.7 68.7h.7M392.4 68.7h.7M401.1 74.2h.7M391.3 72.1h.7M397.7 75.1h.7M395.1 69.1h.7M392.0 64.0h.7M399.8 73.2h.7M405.7 71.2h.7M394.7 65.9h.7M389.9 66.7h.7M400.2 70.4h.7M395.9 65.3h.7M397.8 72.4h.7M390.8 63.9h.7M395.7 71.2h.7M396.1 77.0h.7M398.9 65.5h.7M403.3 67.1h.7M402.7 70.4h.7M406.4 65.5h.7M402.9 71.9h.7M391.7 73.2h.7M413.6 71.6h.7M392.6 69.3h.7M406.9 71.2h.7M408.2 67.1h.7M407.0 62.9h.7M396.8 68.7h.7M394.5 75.5h.7M393.8 71.6h.7M410.8 73.7h.7M395.1 66.7h.7M404.1 75.0h.7M399.6 79.7h.7M403.3 59.6h.7M391.8 73.6h.7M395.2 73.8h.7M415.7 66.6h.7M413.3 69.6h.7M387.7 70.4h.7M404.2 67.4h.7M408.9 66.1h.7M396.6 74.2h.7M396.5 67.5h.7M397.8 73.0h.7M410.0 76.1h.7M411.0 69.9h.7M386.4 69.8h.7M395.1 65.5h.7M394.4 69.7h.7M398.3 74.1h.7M391.6 75.2h.7M398.3 73.3h.7M406.6 64.4h.7M409.1 66.8h.7M400.7 74.9h.7M404.4 63.0h.7M399.1 75.1h.7M397.1 69.6h.7M398.5 77.4h.7M394.2 65.8h.7M390.3 67.6h.7M396.3 71.6h.7M397.4 62.3h.7M387.0 73.1h.7M403.0 63.9h.7M404.5 59.0h.7M414.2 72.7h.7M386.4 72.3h.7M397.7 68.0h.7M395.4 69.0h.7M397.3 65.9h.7M394.0 72.5h.7M401.7 64.0h.7M394.5 77.1h.7M403.0 77.4h.7M388.5 65.3h.7M395.4 65.3h.7M390.4 66.9h.7M396.7 73.8h.7M401.9 62.1h.7M408.4 68.5h.7M391.0 69.9h.7M395.2 63.7h.7M408.9 67.4h.7M393.8 72.4h.7M409.7 72.2h.7M391.7 72.0h.7M405.7 71.7h.7M402.5 67.8h.7M397.5 62.4h.7M393.0 64.9h.7M398.0 76.7h.7M391.5 69.6h.7M406.1 66.5h.7M392.5 75.5h.7M400.6 72.4h.7M403.8 66.7h.7M399.6 67.0h.7M392.9 70.6h.7M401.0 64.3h.7M392.6 72.8h.7M399.2 73.0h.7M395.8 66.4h.7M403.5 72.7h.7M392.7 73.0h.7M409.0 68.7h.7M391.2 71.2h.7M398.6 72.6h.7M388.1 71.1h.7M404.3 73.2h.7M402.4 75.4h.7M392.2 75.5h.7M399.5 65.5h.7M395.9 71.2h.7M400.3 76.1h.7M399.3 67.7h.7M413.3 68.5h.7M392.2 74.2h.7M395.1 66.4h.7M390.5 75.4h.7M390.5 70.5h.7M394.8 69.1h.7M392.3 70.7h.7M402.2 74.8h.7M395.5 64.7h.7M387.6 70.0h.7M398.2 70.6h.7M388.2 67.1h.7M392.8 73.1h.7M395.1 72.8h.7M401.6 61.3h.7M396.4 75.7h.7M394.4 70.6h.7M397.1 64.5h.7M413.3 69.4h.7M402.5 68.0h.7M407.8 75.2h.7M406.3 74.3h.7M402.9 76.3h.7M400.8 70.6h.7M403.7 66.0h.7M399.1 66.9h.7M396.1 65.7h.7M392.1 70.9h.7M398.9 73.8h.7M397.4 72.9h.7M402.8 66.9h.7M386.1 66.9h.7M396.2 67.6h.7M413.5 67.0h.7M401.3 66.6h.7M402.9 64.4h.7M404.7 70.9h.7M395.2 64.7h.7M409.7 67.4h.7M408.1 59.2h.7M389.6 78.2h.7M410.5 70.1h.7M405.0 72.8h.7M395.5 70.6h.7M389.9 64.0h.7M398.9 73.3h.7M399.1 64.5h.7M404.0 70.4h.7M403.3 68.7h.7M396.1 74.8h.7M407.6 64.6h.7M390.2 74.4h.7M400.5 70.3h.7M391.1 74.6h.7M399.3 71.0h.7M400.7 67.7h.7M437.0 68.6h.7M438.8 69.0h.7M428.3 67.6h.7M434.3 72.2h.7M432.4 72.4h.7M440.8 70.2h.7M446.1 66.5h.7M437.2 71.9h.7M437.5 71.1h.7M435.1 72.8h.7M435.8 62.6h.7M440.3 67.0h.7M430.5 68.4h.7M434.2 72.2h.7M436.6 68.0h.7M434.5 65.9h.7M431.6 67.7h.7M433.3 65.3h.7M433.5 71.8h.7M437.2 68.1h.7M436.6 67.5h.7M429.6 72.2h.7M446.4 68.1h.7M439.7 75.2h.7M429.3 71.1h.7M433.2 68.0h.7M426.8 69.8h.7M436.1 63.5h.7M433.7 67.3h.7M430.4 71.3h.7M443.3 68.3h.7M440.5 69.9h.7M435.0 70.3h.7M441.3 66.1h.7M433.6 64.6h.7M425.4 67.8h.7M439.6 68.8h.7M437.0 72.2h.7M427.0 74.1h.7M435.8 70.8h.7M441.4 65.0h.7M430.9 70.5h.7M434.4 66.9h.7M434.0 66.5h.7M435.5 67.3h.7M442.9 64.0h.7M437.9 68.3h.7M442.3 64.3h.7M433.6 74.0h.7M431.6 68.0h.7M432.6 66.0h.7M441.8 71.9h.7M433.9 66.5h.7M428.7 71.7h.7M432.7 70.6h.7M422.9 69.4h.7M438.3 69.2h.7M421.0 71.9h.7M435.6 68.4h.7M433.1 67.5h.7M436.0 69.9h.7M419.4 71.3h.7M439.5 67.1h.7M440.6 64.7h.7M445.0 69.7h.7M434.4 77.0h.7M443.0 71.9h.7M429.0 69.3h.7M437.9 71.2h.7M434.7 64.7h.7M441.0 67.0h.7M437.0 67.2h.7M433.7 64.6h.7M438.0 66.1h.7M426.4 71.3h.7M435.3 71.4h.7M438.4 64.3h.7M434.1 68.7h.7M434.9 65.4h.7M435.9 71.3h.7M441.9 71.7h.7M437.5 60.5h.7M433.4 67.2h.7M421.5 75.6h.7M439.5 67.7h.7M437.0 69.6h.7M434.6 72.7h.7M444.5 69.3h.7M432.4 69.8h.7M440.2 69.8h.7M432.1 71.9h.7M438.9 69.6h.7M432.9 68.8h.7M425.6 70.1h.7M432.7 68.1h.7M433.5 67.8h.7M435.5 68.7h.7M431.9 68.7h.7M434.8 70.1h.7M437.0 67.1h.7M430.1 64.5h.7M429.0 70.8h.7M431.3 74.0h.7M434.0 67.5h.7M433.9 67.1h.7M431.9 69.3h.7M427.9 70.2h.7M434.1 66.0h.7M440.3 68.7h.7M440.0 65.6h.7M428.3 66.1h.7M426.3 64.4h.7M442.5 65.8h.7M435.7 66.8h.7M435.1 73.3h.7M425.9 67.2h.7M435.2 65.8h.7M439.1 71.7h.7M439.8 69.9h.7M434.7 71.6h.7M430.4 65.7h.7M433.6 68.0h.7M440.5 64.6h.7M440.3 65.3h.7M427.9 64.7h.7M434.1 64.3h.7M436.1 68.5h.7M432.0 63.2h.7M432.7 70.3h.7M426.5 72.1h.7M434.8 66.9h.7M436.3 70.2h.7M434.5 66.3h.7M438.5 65.9h.7M437.3 71.1h.7M442.3 72.0h.7M440.1 68.1h.7M434.1 69.2h.7M439.1 76.8h.7M437.8 65.5h.7M441.7 62.6h.7M439.3 63.9h.7M429.4 68.0h.7M432.9 64.8h.7M438.0 67.6h.7M441.1 64.4h.7M426.4 72.1h.7M434.4 71.6h.7M422.8 66.9h.7M436.5 74.1h.7M427.9 64.0h.7M433.5 73.0h.7M442.1 63.2h.7M431.0 63.7h.7M430.3 66.4h.7M437.7 71.5h.7M446.6 65.4h.7M439.2 68.4h.7M436.6 74.1h.7M439.3 72.5h.7M436.9 70.8h.7M437.5 67.8h.7M431.4 67.9h.7M434.9 67.4h.7M433.0 66.8h.7M439.1 67.1h.7M434.3 68.0h.7M441.2 65.8h.7M441.5 64.8h.7M442.9 69.0h.7M432.8 70.3h.7M440.1 64.7h.7M434.1 69.6h.7M433.8 67.8h.7M435.3 69.4h.7M439.6 72.2h.7M434.9 77.4h.7M434.3 74.0h.7M433.6 64.4h.7M432.7 67.9h.7M439.2 61.7h.7M431.8 68.7h.7M438.5 69.1h.7M439.2 67.3h.7M434.5 72.2h.7M443.7 68.1h.7M435.3 65.9h.7M445.6 67.9h.7M437.2 63.3h.7M439.2 75.1h.7M434.1 68.1h.7M442.5 66.6h.7M440.2 73.5h.7M428.8 67.1h.7M438.4 68.3h.7M435.1 68.0h.7M435.8 69.4h.7M432.5 68.1h.7M435.6 65.1h.7M436.1 61.7h.7M438.1 67.6h.7M429.9 73.5h.7M430.3 75.6h.7M432.1 72.7h.7M435.5 73.3h.7M434.5 71.7h.7M432.5 63.3h.7M437.2 69.6h.7M437.9 73.1h.7M430.7 65.0h.7M435.9 66.3h.7M434.5 68.6h.7M431.6 72.4h.7M435.4 73.8h.7M436.8 71.4h.7M433.3 66.8h.7M432.0 66.4h.7M437.3 68.5h.7M428.9 64.9h.7M429.9 63.9h.7M429.9 64.8h.7M437.9 64.5h.7M432.1 68.7h.7M435.4 69.7h.7M439.1 69.7h.7M434.0 72.5h.7M436.5 66.1h.7M441.7 63.8h.7M438.0 71.8h.7M435.8 69.4h.7M436.0 70.4h.7M436.1 68.3h.7M437.5 62.4h.7M436.1 67.4h.7M444.8 67.7h.7M432.1 71.0h.7M432.5 65.4h.7M433.9 70.2h.7M441.4 70.6h.7M436.1 67.8h.7M436.6 71.9h.7M435.0 72.0h.7M431.1 69.2h.7M439.2 69.9h.7M435.7 66.8h.7M426.0 68.8h.7M430.7 68.1h.7M442.3 64.9h.7M439.1 67.7h.7M429.7 69.8h.7M438.1 64.4h.7M429.2 68.4h.7M438.2 66.1h.7M437.3 69.5h.7M435.3 69.8h.7M441.1 66.9h.7M436.1 65.1h.7M431.5 68.8h.7M438.6 65.8h.7M428.7 72.4h.7M445.2 58.9h.7M429.9 69.8h.7M436.9 65.3h.7M437.2 71.4h.7M434.1 70.9h.7M435.2 65.7h.7M431.7 67.2h.7M442.1 70.7h.7M435.4 63.7h.7M432.4 67.7h.7M425.7 70.1h.7M435.7 64.4h.7M432.7 67.5h.7M444.3 68.9h.7M438.8 68.1h.7M429.3 72.3h.7M430.8 63.5h.7M438.4 66.9h.7M435.3 70.0h.7M434.1 69.9h.7M441.1 66.5h.7M433.3 68.9h.7M437.9 66.8h.7M435.1 66.4h.7M434.9 70.2h.7M431.0 68.7h.7M427.6 67.7h.7M435.7 70.0h.7M430.0 69.1h.7M430.7 70.2h.7M436.5 69.6h.7M433.3 64.5h.7M431.6 65.1h.7M431.7 68.9h.7M439.9 65.7h.7M431.4 69.8h.7M426.1 76.1h.7M428.1 72.8h.7M440.2 70.5h.7M434.9 70.7h.7M433.9 71.6h.7M431.5 66.7h.7M436.6 66.9h.7M437.8 65.4h.7M435.8 65.4h.7M435.6 74.8h.7M429.2 65.8h.7M427.2 69.2h.7M442.6 65.8h.7M439.4 67.2h.7M433.0 74.9h.7M439.2 62.2h.7M430.5 70.5h.7M438.0 67.3h.7M436.8 69.8h.7M433.8 71.7h.7M431.3 71.4h.7M439.5 68.3h.7M433.4 68.7h.7M424.5 71.1h.7M427.2 63.8h.7M438.2 65.2h.7M436.7 68.3h.7M426.1 67.4h.7M434.0 70.1h.7M434.7 64.8h.7M432.5 69.3h.7M428.7 68.3h.7M431.3 62.8h.7M443.7 69.6h.7M433.3 71.6h.7M430.8 73.8h.7M433.3 69.2h.7M432.3 69.3h.7M436.6 68.3h.7M431.4 71.4h.7M437.7 68.0h.7M439.7 65.5h.7M441.0 67.0h.7M442.0 65.9h.7M433.9 69.3h.7M441.0 71.8h.7M432.5 66.8h.7M439.3 71.5h.7M438.2 67.0h.7M441.1 67.4h.7M436.1 70.2h.7M431.1 62.4h.7M436.4 70.4h.7M437.4 69.7h.7M436.3 71.4h.7M436.3 72.7h.7M435.7 70.8h.7M432.5 69.8h.7M437.1 68.5h.7M442.4 67.3h.7M440.5 68.6h.7M439.8 65.0h.7M433.8 71.6h.7M431.3 70.3h.7M437.8 68.6h.7M437.4 69.7h.7M434.1 69.9h.7M432.3 67.6h.7M427.4 69.5h.7M426.9 70.0h.7M435.5 65.2h.7M435.5 69.3h.7M432.9 66.1h.7M434.7 69.8h.7M440.4 73.4h.7M425.8 71.2h.7M436.8 66.3h.7M437.6 74.3h.7M436.3 72.4h.7M439.9 66.3h.7M424.6 73.8h.7M441.4 62.1h.7M433.7 66.6h.7M436.0 68.5h.7M440.2 65.8h.7M443.3 61.9h.7M437.4 76.1h.7M434.9 70.4h.7M434.5 78.5h.7M439.1 66.7h.7M426.0 70.7h.7M437.5 61.9h.7M433.0 70.5h.7M423.5 70.0h.7M426.7 65.9h.7M437.5 71.5h.7M440.2 65.6h.7M436.5 62.9h.7M428.2 71.3h.7M432.6 65.9h.7M426.0 69.4h.7M444.6 60.7h.7M430.6 72.7h.7M425.5 68.3h.7M435.9 71.7h.7M435.6 73.9h.7M434.8 68.2h.7M437.3 69.2h.7M427.4 67.0h.7M434.1 69.7h.7M428.8 67.4h.7M431.6 70.1h.7M433.3 70.6h.7M436.4 65.5h.7M432.9 65.1h.7M435.9 70.8h.7M429.4 64.2h.7M437.3 67.2h.7M435.1 69.9h.7M437.3 70.9h.7M431.7 62.4h.7M432.5 68.0h.7M433.2 70.0h.7M434.5 72.5h.7M432.0 69.0h.7M434.4 75.0h.7M429.9 66.4h.7M433.6 71.1h.7M435.0 68.0h.7M426.9 63.7h.7M433.9 68.0h.7M443.6 68.1h.7M437.5 71.0h.7M430.1 65.6h.7M434.0 73.2h.7M439.4 66.0h.7M429.5 72.3h.7M439.7 64.4h.7M442.3 64.9h.7M438.5 67.3h.7M433.1 67.0h.7M438.7 69.7h.7M438.7 67.0h.7M432.0 75.5h.7M443.1 66.5h.7M430.3 73.9h.7M435.7 68.6h.7M439.3 68.8h.7M436.6 74.2h.7M426.3 72.0h.7M430.3 69.6h.7M434.3 69.4h.7M423.7 72.6h.7M446.0 65.3h.7M439.7 69.6h.7M436.2 66.8h.7M438.2 68.8h.7M442.4 69.7h.7M430.1 60.5h.7M442.5 68.7h.7M435.5 66.6h.7M447.8 70.3h.7M435.3 67.3h.7M438.5 72.0h.7M438.0 70.8h.7M436.5 69.3h.7M428.9 69.9h.7M435.2 68.2h.7M434.0 69.6h.7M432.1 68.4h.7M429.9 76.4h.7M430.1 65.7h.7M432.2 67.7h.7M428.5 62.2h.7M443.5 70.1h.7M433.5 70.5h.7M428.8 64.7h.7M436.9 69.9h.7M431.7 69.1h.7M420.0 70.8h.7M440.2 68.1h.7M436.2 70.0h.7M424.2 66.5h.7M428.9 70.3h.7M431.0 63.5h.7M439.2 67.2h.7M440.9 73.6h.7M426.3 66.2h.7M441.0 71.7h.7M437.1 69.2h.7M438.7 69.8h.7M429.2 71.8h.7M439.6 66.5h.7M430.3 67.8h.7M432.4 70.6h.7M438.8 67.9h.7M432.6 63.5h.7M432.4 65.9h.7M432.5 70.0h.7M437.6 78.7h.7M430.5 67.7h.7M429.3 68.7h.7M434.1 71.7h.7M425.9 72.9h.7M436.4 67.3h.7M433.4 69.1h.7M436.2 68.0h.7M434.6 68.6h.7M432.4 69.4h.7M436.4 68.3h.7M432.2 69.0h.7M434.8 69.1h.7M434.2 70.1h.7M437.9 69.5h.7M435.9 70.5h.7M434.8 68.2h.7M431.5 69.2h.7M437.7 66.3h.7M436.5 65.9h.7M436.3 71.6h.7M434.7 66.4h.7M435.6 68.1h.7M436.8 67.2h.7M430.6 68.4h.7M436.8 70.0h.7M435.7 68.4h.7M436.6 67.9h.7M434.0 69.1h.7M437.5 67.2h.7M436.0 67.2h.7M433.2 69.1h.7M431.5 67.6h.7M431.9 68.0h.7M433.5 73.0h.7M436.5 68.4h.7M431.0 64.9h.7M435.9 67.2h.7M437.4 67.4h.7M431.6 68.0h.7M430.8 66.7h.7M436.6 67.3h.7M436.5 67.2h.7M434.2 67.7h.7M433.4 67.6h.7M438.6 67.8h.7M430.7 72.3h.7M438.4 69.9h.7M434.7 68.3h.7M433.9 68.9h.7M436.1 68.3h.7M432.7 67.2h.7M439.6 70.7h.7M431.8 67.9h.7M435.1 69.5h.7M434.8 69.0h.7M436.2 70.3h.7M432.1 71.0h.7M436.2 69.3h.7M431.2 68.8h.7M434.5 69.7h.7M436.9 69.4h.7M432.2 71.2h.7M435.4 70.1h.7M434.7 67.3h.7M441.6 68.5h.7M436.7 67.4h.7M434.8 70.5h.7M436.6 71.3h.7M437.6 66.1h.7M431.6 71.2h.7M436.4 67.8h.7M434.1 67.7h.7M439.3 67.5h.7M431.9 70.7h.7M434.9 69.2h.7M434.0 68.6h.7M430.5 70.2h.7M433.2 68.2h.7M436.1 70.6h.7M429.6 69.2h.7M436.6 70.0h.7M432.8 69.5h.7M436.2 69.9h.7M433.4 68.5h.7M434.1 70.7h.7M437.5 67.3h.7M434.7 69.0h.7M432.7 68.7h.7M437.3 69.5h.7M433.1 67.7h.7M434.2 66.1h.7M435.8 68.6h.7M431.6 68.7h.7M433.3 68.3h.7M433.2 71.2h.7M432.8 70.2h.7M435.9 70.9h.7M434.8 68.5h.7M434.6 65.3h.7M440.8 67.1h.7M433.8 66.7h.7M435.1 71.3h.7M433.2 69.6h.7M437.8 69.7h.7M433.4 65.7h.7M436.1 69.3h.7M434.0 67.9h.7M438.8 65.1h.7M433.5 67.7h.7M430.9 68.0h.7M433.4 71.0h.7M430.3 67.0h.7M435.1 65.8h.7M429.9 68.3h.7M431.7 67.4h.7M434.7 69.4h.7M433.3 68.3h.7M436.7 68.0h.7M436.6 67.2h.7M436.5 70.5h.7M432.5 74.2h.7M434.1 68.1h.7M434.7 69.4h.7M432.0 69.1h.7M433.9 71.2h.7M430.9 70.4h.7M434.0 67.4h.7M435.2 68.1h.7M435.1 68.9h.7M437.8 67.3h.7M438.3 63.3h.7M439.8 69.8h.7M438.9 68.2h.7M435.4 66.7h.7M437.9 66.0h.7M433.0 68.9h.7M435.6 69.0h.7M432.0 68.5h.7M436.5 70.3h.7M437.0 68.9h.7M434.2 67.7h.7M433.7 68.6h.7M436.1 67.5h.7M439.7 66.0h.7M436.9 67.8h.7M434.5 68.0h.7M438.6 67.4h.7M436.3 68.5h.7M437.0 69.2h.7M438.8 66.6h.7M433.4 71.7h.7M438.1 68.1h.7M434.3 69.1h.7M437.9 66.7h.7M431.4 71.8h.7M417.0 70.2h.7M403.1 73.6h.7M409.4 69.4h.7M412.7 73.2h.7M425.6 72.3h.7M421.4 74.0h.7M432.7 74.8h.7M432.4 71.8h.7M422.7 69.0h.7M424.6 68.0h.7M423.6 69.1h.7M417.0 77.8h.7M421.0 75.8h.7M417.9 63.3h.7M431.6 71.2h.7M414.7 76.5h.7M410.8 68.6h.7M429.0 68.8h.7M428.9 70.6h.7M418.2 72.4h.7M415.9 77.1h.7M428.6 72.4h.7M424.7 74.6h.7M433.3 64.6h.7M428.0 76.4h.7M417.4 72.1h.7M417.1 77.9h.7M410.7 74.9h.7M430.1 74.8h.7M416.0 69.9h.7M403.0 67.2h.7M428.6 67.6h.7M406.8 70.9h.7M408.0 74.2h.7M412.9 76.6h.7M418.9 65.4h.7M413.7 69.0h.7M413.1 77.9h.7M411.9 73.8h.7M415.2 74.9h.7M408.5 64.7h.7M423.9 78.8h.7M408.8 70.6h.7M415.8 67.7h.7M427.6 72.3h.7M408.8 71.1h.7M430.5 68.7h.7M415.8 68.2h.7M421.2 69.5h.7M427.0 68.2h.7M408.2 74.2h.7M394.6 67.6h.7M422.1 73.2h.7M415.3 70.0h.7M424.0 89.6h.7M413.4 71.2h.7M416.2 74.7h.7M419.9 74.7h.7M432.9 70.8h.7M417.6 73.9h.7M436.6 70.4h.7M433.3 77.7h.7M398.0 67.4h.7M412.0 74.0h.7M430.5 72.3h.7M421.2 82.3h.7M422.7 82.2h.7M412.7 79.8h.7M415.8 60.7h.7M413.3 69.9h.7M419.5 75.6h.7M425.4 74.5h.7M413.9 80.5h.7M429.4 72.3h.7M415.3 71.9h.7M418.1 68.8h.7M419.8 69.0h.7M425.0 69.0h.7M423.8 73.6h.7M421.2 74.6h.7M411.7 84.2h.7M414.4 75.5h.7M420.1 70.0h.7M433.8 77.3h.7M417.7 74.7h.7M425.3 79.5h.7M428.0 71.3h.7M417.9 66.6h.7M422.0 76.2h.7M416.8 75.2h.7M420.9 69.9h.7M410.2 77.3h.7M440.1 74.7h.7M411.3 67.2h.7M421.9 75.2h.7M432.0 60.7h.7M434.7 72.9h.7M421.0 73.9h.7M417.1 70.7h.7M428.3 63.9h.7M419.0 74.7h.7M406.7 71.3h.7M432.1 73.8h.7M425.6 75.4h.7M421.7 73.8h.7M413.4 71.1h.7M434.7 66.3h.7M418.6 66.1h.7M415.6 68.4h.7M410.1 73.2h.7M412.4 74.6h.7M434.4 60.0h.7M418.6 62.2h.7M418.9 73.8h.7M421.6 77.8h.7M421.2 63.9h.7M432.0 67.6h.7M419.2 73.6h.7M412.9 72.5h.7M431.9 64.1h.7M406.6 70.0h.7M418.6 66.0h.7M401.5 76.4h.7M423.1 65.8h.7M424.5 71.8h.7M421.2 65.7h.7M418.2 74.3h.7M405.9 67.1h.7M427.7 81.6h.7M425.2 71.7h.7M411.3 70.1h.7M417.9 74.2h.7M417.9 83.8h.7M430.5 61.6h.7M410.6 72.1h.7M427.8 74.0h.7M397.9 64.2h.7M430.8 74.9h.7M440.5 75.9h.7M423.7 79.3h.7M416.4 69.5h.7M411.8 73.2h.7M423.5 76.5h.7M431.6 75.0h.7M429.8 70.9h.7M412.2 75.5h.7M428.1 78.4h.7M418.6 69.8h.7M417.1 73.8h.7M419.6 71.2h.7M422.0 70.7h.7M422.7 69.2h.7M407.6 70.6h.7M435.1 68.2h.7M427.3 78.5h.7M415.6 73.3h.7M401.7 74.8h.7M432.3 72.9h.7M404.0 69.3h.7M426.0 93.8h.7M434.3 90.5h.7M429.5 88.0h.7M436.6 94.3h.7M434.8 89.9h.7M435.9 91.2h.7M434.4 92.1h.7M426.7 86.2h.7M417.0 84.6h.7M418.8 88.0h.7M430.3 85.8h.7M435.3 106.1h.7M409.6 85.8h.7M441.9 85.8h.7M431.1 89.1h.7M438.1 84.0h.7M434.5 94.4h.7M436.5 95.7h.7M433.2 81.9h.7M429.4 87.1h.7M436.2 91.6h.7M433.2 99.9h.7M431.1 103.6h.7M438.7 83.8h.7M427.3 100.7h.7M428.0 100.5h.7M427.5 92.3h.7M440.2 83.2h.7M432.6 90.2h.7M433.4 103.8h.7M435.9 84.6h.7M439.7 90.2h.7M433.3 100.3h.7M429.5 99.0h.7M433.4 87.4h.7M429.5 84.5h.7M441.5 94.1h.7M439.8 86.0h.7M438.8 85.5h.7M434.2 92.9h.7M427.3 95.0h.7M432.3 87.6h.7M426.0 84.8h.7M443.0 94.0h.7M429.1 97.4h.7M425.1 85.7h.7M434.9 103.0h.7M434.4 94.0h.7M446.0 83.3h.7M431.4 84.6h.7M422.3 91.5h.7M427.1 94.7h.7M423.8 91.4h.7M438.6 79.3h.7M429.6 91.2h.7M427.9 92.3h.7M417.6 90.2h.7M427.8 86.5h.7M442.1 105.6h.7M438.4 87.6h.7M443.4 96.1h.7M425.5 96.8h.7M427.4 96.6h.7M439.4 100.3h.7M423.6 92.2h.7M432.0 85.3h.7M435.3 97.4h.7M420.9 89.5h.7M423.2 85.0h.7M423.5 101.7h.7M426.7 90.5h.7M439.9 99.5h.7M443.3 79.9h.7M438.0 81.9h.7M426.9 90.4h.7M427.4 105.4h.7M430.7 100.4h.7M430.6 92.6h.7M436.1 95.8h.7M436.0 82.1h.7M436.1 95.0h.7M436.8 92.7h.7M435.3 84.8h.7M441.1 85.3h.7M443.2 99.4h.7M431.5 91.1h.7M438.2 91.1h.7M422.5 94.8h.7M422.2 90.1h.7M446.4 98.1h.7M428.4 92.6h.7M426.8 92.9h.7M420.4 97.3h.7M432.1 89.1h.7M428.5 90.0h.7M427.3 89.9h.7M442.5 97.3h.7M435.4 95.3h.7M422.9 77.8h.7M444.1 97.5h.7M433.7 94.8h.7M433.6 93.1h.7M429.9 78.9h.7M436.6 93.3h.7M439.8 94.9h.7M429.7 96.8h.7M433.5 90.2h.7M429.0 90.3h.7M429.6 90.2h.7M431.1 100.1h.7M416.2 72.6h.7M428.2 92.0h.7M426.1 84.4h.7M425.2 89.8h.7M433.2 90.9h.7M422.4 90.7h.7M444.1 87.4h.7M432.5 99.4h.7M425.6 89.4h.7M427.8 94.0h.7M432.8 93.9h.7M435.7 91.1h.7M414.3 86.9h.7M433.2 84.4h.7M429.4 102.5h.7M433.9 88.9h.7M433.1 99.6h.7M418.3 85.1h.7M426.7 90.2h.7M431.3 89.3h.7M432.9 93.6h.7M422.7 89.1h.7M422.1 94.8h.7M434.1 97.1h.7M425.0 89.6h.7M414.3 93.1h.7M419.1 95.2h.7M440.6 95.8h.7M437.0 94.4h.7M435.0 98.9h.7M442.1 105.8h.7M429.9 98.3h.7M438.9 95.7h.7M434.1 85.0h.7M440.7 87.4h.7M426.8 87.6h.7M436.5 86.9h.7M435.7 96.6h.7M432.8 90.9h.7M436.8 101.3h.7M428.3 86.4h.7M427.2 87.5h.7M430.1 92.0h.7M413.6 102.2h.7M425.5 90.3h.7M416.4 80.6h.7M423.9 94.4h.7M438.8 81.6h.7M433.8 102.5h.7M429.7 98.8h.7M434.5 87.2h.7M439.9 89.2h.7M434.8 90.5h.7M430.3 94.0h.7M442.6 82.4h.7M423.1 93.6h.7M439.8 91.8h.7M430.5 96.3h.7M444.6 87.3h.7M419.3 91.2h.7M438.1 84.7h.7M441.0 98.9h.7M438.3 87.7h.7M421.7 97.1h.7M434.1 97.3h.7M421.2 74.4h.7M440.9 99.3h.7M429.8 93.0h.7M435.6 97.7h.7M430.5 89.8h.7M424.2 99.5h.7M432.8 71.5h.7M434.7 89.4h.7M421.8 89.8h.7M421.8 90.2h.7M427.6 96.2h.7M423.9 81.5h.7M427.2 84.3h.7M437.9 91.7h.7M418.6 87.5h.7M431.8 92.7h.7M417.3 92.2h.7M434.4 99.2h.7M440.8 92.2h.7M421.6 90.6h.7M437.2 87.2h.7M442.0 87.0h.7M423.0 98.2h.7M431.2 95.0h.7M429.6 93.2h.7M427.3 104.9h.7M437.2 92.2h.7M435.8 98.2h.7M427.8 94.1h.7M433.6 89.4h.7M425.8 91.7h.7M429.6 90.4h.7M416.5 93.5h.7M437.2 93.4h.7M445.7 98.4h.7M429.2 88.7h.7M436.0 90.6h.7M419.1 93.8h.7M429.6 91.6h.7M436.9 94.2h.7M431.2 94.9h.7M428.5 89.8h.7M446.0 83.9h.7M434.8 82.0h.7M434.7 80.9h.7M422.7 100.1h.7M444.3 93.8h.7M410.3 99.4h.7M433.9 86.0h.7M429.2 84.7h.7M431.2 92.4h.7M433.0 98.0h.7M426.9 79.1h.7M422.7 85.1h.7M429.1 90.2h.7M431.7 101.6h.7M432.2 86.2h.7M429.6 87.5h.7M430.1 96.6h.7M423.0 97.4h.7M446.2 102.5h.7M445.0 93.6h.7M421.2 105.6h.7M431.6 94.4h.7M429.2 87.1h.7M436.9 84.2h.7M421.0 96.5h.7M429.0 87.7h.7M436.0 101.9h.7M429.7 92.1h.7M436.5 98.9h.7M440.2 97.2h.7M426.7 96.3h.7M432.1 82.4h.7M441.8 96.6h.7M442.9 92.6h.7M437.8 92.6h.7M433.3 98.7h.7M432.5 96.8h.7M431.7 100.7h.7M437.2 82.6h.7M445.2 95.7h.7M427.9 89.1h.7M447.8 93.6h.7M436.1 96.7h.7M427.2 103.9h.7M441.0 82.8h.7M429.3 93.4h.7M432.4 96.6h.7M435.2 95.3h.7M430.9 94.9h.7M427.6 105.3h.7M432.5 100.7h.7M432.8 92.1h.7M430.6 84.9h.7M433.0 90.1h.7M442.2 90.9h.7M428.3 89.6h.7M444.3 94.9h.7M430.8 89.0h.7M442.2 94.8h.7M429.4 98.6h.7M439.0 86.8h.7M441.1 99.8h.7M430.1 84.7h.7M440.7 90.9h.7M430.4 91.2h.7M429.9 98.2h.7M423.3 96.3h.7M441.2 99.6h.7M437.7 94.7h.7M430.5 92.3h.7M425.1 103.4h.7M431.1 86.7h.7M438.6 102.4h.7M434.2 91.0h.7M423.2 97.0h.7M430.1 88.9h.7M436.8 85.0h.7M437.9 77.9h.7M427.2 84.1h.7M430.1 98.0h.7M421.8 101.5h.7M426.7 90.0h.7M439.9 88.5h.7M443.5 91.7h.7M431.3 87.0h.7M441.1 92.6h.7M428.2 87.1h.7M427.1 92.4h.7M426.4 97.9h.7M431.8 89.2h.7M435.7 101.8h.7M415.7 95.2h.7M440.6 93.9h.7M438.6 83.5h.7M426.2 99.3h.7M431.4 93.4h.7M437.0 95.3h.7M435.6 89.9h.7M429.7 101.1h.7M428.2 84.1h.7M429.3 98.5h.7M446.2 93.9h.7M427.2 96.8h.7M434.5 100.3h.7M436.2 97.7h.7M436.1 95.6h.7M425.0 92.0h.7M444.7 101.2h.7M439.7 95.4h.7M431.3 95.2h.7M429.6 99.7h.7M429.7 88.3h.7M419.5 102.6h.7M426.2 87.7h.7M435.3 104.1h.7M437.4 91.0h.7M436.6 87.9h.7M430.2 93.2h.7M432.3 97.8h.7M436.4 104.6h.7M438.7 91.3h.7M434.2 87.8h.7M427.4 90.9h.7M440.1 88.8h.7M420.0 86.8h.7M422.8 91.9h.7M429.8 85.8h.7M426.0 90.5h.7M435.3 96.8h.7M442.5 91.4h.7M437.1 93.5h.7M423.7 89.1h.7M445.1 98.1h.7M445.2 91.9h.7M439.5 91.2h.7M423.6 85.8h.7M435.7 83.1h.7M435.1 87.7h.7M435.0 84.6h.7M438.9 91.6h.7M420.4 84.2h.7M432.8 83.0h.7M434.8 96.0h.7M427.2 101.6h.7M443.5 94.9h.7M435.8 95.9h.7M430.3 101.1h.7M428.1 77.6h.7M432.5 95.7h.7M438.7 86.2h.7M443.1 88.0h.7M437.2 97.5h.7M433.7 100.0h.7M428.5 105.6h.7M436.1 90.4h.7M419.8 101.7h.7M444.3 89.5h.7M424.7 99.9h.7M432.8 87.1h.7M428.6 93.4h.7M439.9 102.6h.7M427.5 102.4h.7M420.6 97.4h.7M431.2 95.7h.7M428.9 88.6h.7M434.5 100.0h.7M415.2 93.3h.7M429.2 86.4h.7M421.9 96.2h.7M436.6 97.0h.7M416.9 83.7h.7M427.6 90.4h.7M446.0 90.6h.7M433.3 99.1h.7M445.3 95.3h.7M435.0 104.9h.7M429.2 82.0h.7M426.5 91.1h.7M442.5 95.0h.7M441.6 93.6h.7M432.7 89.5h.7M422.8 96.1h.7M435.1 96.5h.7M428.2 90.4h.7M435.3 96.8h.7M447.7 87.6h.7M440.0 98.5h.7M430.3 93.9h.7M431.9 102.4h.7M430.4 98.9h.7M444.8 61.5h.7M394.1 79.9h.7M405.4 71.4h.7M422.1 106.4h.7M411.7 56.2h.7M409.1 101.0h.7M412.8 57.1h.7M401.5 66.3h.7M407.7 71.4h.7M427.6 93.6h.7M388.8 61.8h.7M437.0 102.3h.7M434.9 63.6h.7M429.0 57.9h.7M427.9 66.0h.7M438.1 100.5h.7M415.0 94.0h.7M444.6 103.3h.7M426.1 87.9h.7M408.1 91.6h.7M394.7 79.1h.7M391.3 58.9h.7M427.4 77.4h.7M398.9 106.4h.7M404.0 83.7h.7M416.4 64.0h.7M447.6 95.8h.7M441.3 70.4h.7M442.5 104.2h.7M444.4 63.6h.7M395.7 58.4h.7M391.6 92.6h.7M389.1 79.5h.7M408.0 94.1h.7M388.9 93.7h.7M445.4 70.2h.7M411.0 94.8h.7M404.9 100.7h.7M447.8 66.1h.7M415.2 61.9h.7M420.6 75.6h.7M446.3 94.1h.7M447.5 98.7h.7M437.1 75.0h.7M427.2 60.0h.7M407.6 104.8h.7M446.8 63.4h.7M416.7 76.2h.7M424.4 86.7h.7M402.2 102.5h.7M413.9 96.8h.7M430.8 108.1h.7M417.9 86.4h.7M433.9 66.5h.7M388.8 98.8h.7M429.0 95.3h.7M435.6 64.9h.7M440.4 89.2h.7M444.6 84.6h.7M439.7 56.9h.7M396.3 84.4h.7M427.4 75.2h.7M390.5 102.9h.7M390.4 103.0h.7M400.4 92.9h.7M422.8 66.9h.7M406.4 67.1h.7M419.0 69.2h.7M419.7 69.4h.7M393.5 92.4h.7M402.2 106.4h.7M411.1 68.3h.7M430.5 103.7h.7M409.0 94.4h.7M406.6 108.9h.7M404.6 55.8h.7M386.2 83.8h.7M424.7 69.6h.7M411.7 76.4h.7M408.5 64.3h.7M419.8 90.7h.7M387.7 102.6h.7M402.1 80.1h.7M399.5 91.1h.7M411.2 86.0h.7M411.3 81.9h.7M391.4 108.2h.7M412.4 72.1h.7M438.5 70.1h.7M435.0 77.3h.7M393.2 85.6h.7M403.4 64.9h.7M447.4 105.7h.7M415.2 98.5h.7M427.5 70.5h.7M394.0 86.0h.7M397.8 95.6h.7M422.9 65.9h.7M434.2 107.4h.7M415.8 107.5h.7M413.9 54.7h.7M414.7 73.3h.7M442.9 82.7h.7M445.6 62.8h.7M409.8 54.5h.7M389.2 93.2h.7M388.0 66.1h.7M412.9 104.8h.7M400.6 54.0h.7M429.5 92.4h.7M394.6 105.2h.7M439.6 105.7h.7M437.1 84.1h.7M429.5 60.6h.7M425.9 73.4h.7M406.8 71.1h.7M391.0 98.7h.7M433.4 54.3h.7M417.8 55.0h.7M419.8 63.0h.7M445.6 71.4h.7M418.5 68.3h.7M442.0 54.2h.7M404.8 66.3h.7M432.3 74.4h.7M439.4 71.9h.7M393.8 79.0h.7M391.3 62.2h.7M418.4 85.6h.7M399.2 63.7h.7M418.3 78.4h.7M415.9 90.9h.7M394.7 54.4h.7M390.0 97.8h.7M429.6 62.3h.7M406.5 70.8h.7M443.2 76.6h.7M430.3 58.5h.7M388.6 66.2h.7M425.8 78.5h.7M440.1 99.3h.7M427.2 109.0h.7M445.5 102.7h.7M391.5 75.9h.7M395.0 87.7h.7M417.3 58.9h.7M390.9 79.5h.7M424.7 76.3h.7M415.3 88.9h.7M429.3 93.0h.7M411.7 63.3h.7M439.9 56.0h.7M398.8 64.3h.7M422.8 88.2h.7M392.2 82.3h.7M421.6 91.8h.7M390.6 94.1h.7M402.8 75.1h.7M393.7 100.4h.7M424.3 98.8h.7M417.9 59.9h.7M410.9 58.1h.7M392.1 98.5h.7M386.0 75.3h.7M388.6 96.1h.7M447.4 55.6h.7M408.6 107.9h.7M401.6 70.9h.7M447.2 104.8h.7M410.0 90.9h.7M435.2 73.4h.7M386.1 74.5h.7M428.9 107.2h.7M413.4 76.5h.7M409.6 87.4h.7M387.4 104.4h.7M445.2 55.5h.7M386.4 71.2h.7M395.0 96.4h.7M439.9 84.0h.7M444.5 66.4h.7M398.2 75.0h.7M414.0 64.7h.7M443.1 95.4h.7M403.9 66.3h.7M403.6 75.7h.7M426.6 96.8h.7M444.9 58.2h.7M398.1 74.8h.7M445.0 79.1h.7M430.6 99.7h.7M414.6 74.7h.7M434.1 89.2h.7M447.6 68.8h.7M445.1 80.7h.7M439.9 89.3h.7M420.9 101.2h.7M391.0 69.3h.7M416.2 99.2h.7M397.5 97.0h.7M391.5 73.2h.7M414.7 93.4h.7M418.4 100.9h.7M428.9 75.0h.7M418.3 75.3h.7M440.1 70.6h.7M397.2 67.3h.7M401.5 98.6h.7M428.6 67.4h.7M412.0 103.4h.7M445.6 66.1h.7M444.5 57.0h.7M447.9 71.5h.7M445.2 55.5h.7M428.7 105.0h.7M436.8 85.5h.7M395.7 66.9h.7M444.5 101.8h.7M399.7 72.8h.7M424.0 70.6h.7M399.2 101.9h.7M392.9 88.8h.7M411.2 79.8h.7M440.0 95.1h.7M434.0 54.7h.7M436.2 97.7h.7M386.0 66.3h.7M431.3 102.0h.7M419.4 103.0h.7M391.4 68.2h.7" stroke="#000" stroke-width="0.7" stroke-opacity="0.8" fill="none"/>
</g>
<rect x="386" y="53.75" width="62" height="55.45" fill="none" stroke="#000" stroke-width="1.5"/>
<line x1="415.75" y1="53.75" x2="415.75" y2="109.2" stroke="#000" stroke-width="1.5" />
<line x1="386" y1="80" x2="448" y2="80" stroke="#000" stroke-width="1.5" />
</g>
<g><clipPath id="c458"><rect x="458" y="54.3" width="63.5" height="54.900000000000006"/></clipPath><g clip-path="url(#c458)">
<ellipse cx="477" cy="92.7" rx="16.5" ry="11" fill="url(#blob)" transform="rotate(-8 477 92.7)"/>
<ellipse cx="505" cy="67" rx="15" ry="4" fill="url(#blob3)" transform="rotate(-31 505 67)"/>
<ellipse cx="506" cy="93" rx="14" ry="11" fill="url(#blob3)" transform="rotate(0 506 93)"/>
<path d="M484.1 81.1h.7M481.3 100.4h.7M463.5 98.6h.7M471.5 96.8h.7M477.8 82.4h.7M469.0 101.7h.7M478.2 100.2h.7M482.2 97.5h.7M474.5 94.4h.7M475.3 98.5h.7M473.5 100.0h.7M492.5 82.9h.7M477.0 96.0h.7M496.5 97.1h.7M477.5 81.8h.7M485.9 87.8h.7M480.4 94.7h.7M465.3 100.9h.7M487.6 94.7h.7M484.3 93.8h.7M464.0 91.3h.7M485.9 89.4h.7M478.7 94.7h.7M479.2 93.9h.7M482.9 91.8h.7M467.1 92.4h.7M486.9 87.1h.7M483.0 93.7h.7M467.1 76.5h.7M477.3 87.8h.7M472.8 99.0h.7M470.9 95.7h.7M479.5 93.5h.7M496.0 77.8h.7M487.5 90.3h.7M474.8 88.8h.7M478.6 92.7h.7M470.6 103.7h.7M470.8 92.7h.7M465.9 95.2h.7M482.6 98.6h.7M487.3 88.1h.7M493.7 89.6h.7M494.8 100.8h.7M473.3 86.5h.7M484.7 100.5h.7M483.0 98.6h.7M484.7 97.1h.7M490.8 88.9h.7M464.2 93.7h.7M469.4 86.3h.7M477.1 97.1h.7M458.8 85.8h.7M485.2 86.0h.7M475.5 101.2h.7M489.4 93.1h.7M481.1 75.3h.7M483.9 94.0h.7M464.7 95.5h.7M482.5 91.2h.7M486.6 96.8h.7M478.4 90.9h.7M467.6 101.0h.7M472.8 95.2h.7M493.8 95.1h.7M465.6 93.7h.7M469.8 83.5h.7M470.8 97.1h.7M481.3 90.8h.7M478.8 85.2h.7M470.5 92.5h.7M485.6 89.5h.7M476.8 94.7h.7M491.4 82.8h.7M483.5 92.9h.7M477.6 94.1h.7M458.8 95.4h.7M474.8 85.3h.7M486.3 90.6h.7M475.4 97.6h.7M468.5 89.4h.7M486.9 96.6h.7M497.4 86.9h.7M462.7 85.5h.7M466.5 94.8h.7M475.2 88.7h.7M467.7 89.7h.7M475.6 100.2h.7M485.4 99.9h.7M486.8 96.0h.7M490.0 93.6h.7M494.1 97.2h.7M496.0 91.3h.7M472.7 108.8h.7M475.8 96.0h.7M473.8 88.8h.7M481.4 85.1h.7M477.8 101.3h.7M480.0 97.3h.7M484.7 93.9h.7M479.7 96.1h.7M469.2 97.4h.7M467.0 89.4h.7M471.2 85.2h.7M459.2 97.5h.7M483.6 95.8h.7M499.8 90.5h.7M484.8 87.0h.7M484.0 84.6h.7M496.5 84.0h.7M474.7 97.6h.7M469.0 95.0h.7M487.8 92.1h.7M486.8 88.2h.7M482.0 78.5h.7M492.3 86.4h.7M469.7 93.8h.7M494.1 85.9h.7M477.5 90.3h.7M467.9 85.9h.7M484.4 96.0h.7M470.9 94.9h.7M482.8 94.2h.7M476.5 93.0h.7M479.9 85.7h.7M477.3 97.5h.7M473.7 101.2h.7M474.8 86.2h.7M474.0 84.7h.7M482.7 82.0h.7M478.0 91.1h.7M475.4 95.5h.7M480.4 88.7h.7M485.7 88.7h.7M488.0 99.4h.7M482.5 97.6h.7M465.5 97.7h.7M463.3 93.5h.7M482.6 75.3h.7M469.8 88.9h.7M468.9 93.9h.7M483.3 84.6h.7M470.4 82.1h.7M469.4 80.8h.7M463.7 97.4h.7M485.9 86.4h.7M480.8 87.3h.7M489.9 101.6h.7M471.4 90.5h.7M494.6 99.9h.7M478.4 96.4h.7M462.2 92.9h.7M475.1 92.0h.7M479.6 82.6h.7M469.7 106.9h.7M461.1 95.2h.7M485.6 94.5h.7M477.2 82.7h.7M472.1 83.7h.7M497.5 92.0h.7M485.3 92.7h.7M475.2 100.2h.7M487.2 95.1h.7M484.3 96.2h.7M475.7 95.5h.7M478.6 90.9h.7M486.2 104.6h.7M459.4 104.0h.7M474.8 100.4h.7M467.9 92.8h.7M488.0 90.7h.7M480.4 84.7h.7M468.2 104.2h.7M479.5 91.8h.7M463.6 88.1h.7M467.9 93.6h.7M476.4 89.0h.7M471.6 94.1h.7M488.2 82.4h.7M465.1 101.3h.7M463.7 92.0h.7M480.7 103.4h.7M478.1 99.1h.7M478.7 87.4h.7M478.1 79.8h.7M487.3 100.3h.7M476.7 97.8h.7M469.0 102.9h.7M471.0 88.6h.7M469.1 82.8h.7M486.3 103.7h.7M463.9 93.3h.7M481.9 88.5h.7M463.0 96.7h.7M487.9 91.8h.7M467.3 92.1h.7M459.1 94.8h.7M490.9 97.6h.7M477.5 95.3h.7M473.1 94.0h.7M472.3 94.3h.7M473.1 94.4h.7M484.8 91.4h.7M465.8 97.3h.7M475.2 89.8h.7M482.8 86.7h.7M487.6 94.6h.7M470.7 89.2h.7M476.1 87.2h.7M485.3 77.5h.7M479.2 90.2h.7M467.8 97.8h.7M473.7 95.9h.7M473.5 91.4h.7M483.9 97.6h.7M487.7 91.0h.7M492.2 88.4h.7M463.1 83.0h.7M463.2 89.2h.7M460.9 96.9h.7M478.3 92.2h.7M480.2 91.5h.7M475.3 90.9h.7M477.4 85.6h.7M491.8 100.1h.7M480.3 106.3h.7M469.3 99.3h.7M462.7 98.4h.7M471.6 99.6h.7M479.9 98.1h.7M484.4 94.9h.7M476.7 102.6h.7M481.9 95.0h.7M491.8 89.0h.7M495.9 96.7h.7M477.5 83.6h.7M489.6 88.9h.7M479.1 93.1h.7M487.9 95.1h.7M459.7 91.0h.7M481.6 93.1h.7M486.3 94.9h.7M493.3 85.9h.7M491.1 93.0h.7M481.6 96.3h.7M475.4 97.3h.7M476.6 97.2h.7M471.6 100.7h.7M462.7 90.6h.7M477.8 94.0h.7M469.9 91.2h.7M481.4 98.5h.7M490.2 87.8h.7M477.1 90.7h.7M462.8 91.9h.7M487.9 82.8h.7M506.7 94.5h.7M495.0 91.3h.7M493.0 86.8h.7M491.0 95.4h.7M486.3 96.0h.7M484.3 95.7h.7M490.0 93.5h.7M484.6 94.3h.7M478.7 87.0h.7M459.7 88.8h.7M464.7 85.2h.7M484.5 89.6h.7M485.2 88.6h.7M481.6 90.7h.7M482.6 104.8h.7M494.7 98.1h.7M482.4 103.0h.7M486.9 96.8h.7M466.2 90.4h.7M479.5 91.0h.7M471.3 81.0h.7M470.7 92.9h.7M480.2 85.5h.7M478.3 103.7h.7M477.9 80.3h.7M476.3 92.8h.7M490.6 92.0h.7M491.7 92.7h.7M490.6 99.2h.7M493.2 91.6h.7M466.4 95.4h.7M482.1 87.6h.7M486.0 90.4h.7M486.0 92.6h.7M469.9 100.2h.7M498.4 95.4h.7M479.4 81.6h.7M481.2 91.9h.7M468.8 81.9h.7M483.3 97.8h.7M487.0 105.5h.7M460.0 97.3h.7M479.0 101.3h.7M477.0 86.6h.7M477.9 95.3h.7M470.3 88.7h.7M481.4 97.5h.7M476.3 95.8h.7M472.9 91.1h.7M480.8 98.2h.7M493.4 89.6h.7M484.2 103.9h.7M485.9 89.2h.7M480.9 83.3h.7M470.0 85.3h.7M487.7 88.3h.7M479.0 92.8h.7M475.1 85.6h.7M495.2 77.7h.7M478.4 96.8h.7M476.1 92.2h.7M481.3 93.6h.7M475.8 99.6h.7M484.3 101.0h.7M477.3 80.2h.7M461.7 91.6h.7M481.2 81.9h.7M473.8 100.9h.7M480.8 87.7h.7M477.2 93.4h.7M473.8 91.2h.7M472.2 94.7h.7M494.7 99.3h.7M468.1 108.4h.7M475.8 84.1h.7M463.9 95.4h.7M479.9 88.3h.7M470.2 92.3h.7M481.3 96.3h.7M481.5 77.2h.7M472.6 94.9h.7M482.5 96.9h.7M465.1 104.1h.7M466.5 92.9h.7M473.3 90.2h.7M471.4 98.6h.7M486.1 93.6h.7M465.3 90.4h.7M478.0 95.0h.7M472.6 91.6h.7M503.5 89.3h.7M473.2 77.9h.7M472.3 103.5h.7M485.3 84.1h.7M485.9 92.5h.7M471.2 98.5h.7M472.0 91.5h.7M478.6 93.8h.7M474.2 94.9h.7M478.4 93.7h.7M481.4 88.1h.7M464.9 93.9h.7M490.3 92.9h.7M479.7 87.7h.7M466.1 86.4h.7M469.0 91.5h.7M463.2 93.9h.7M463.6 98.6h.7M476.4 81.8h.7M473.1 94.7h.7M482.5 96.8h.7M474.7 92.1h.7M476.4 96.2h.7M471.4 92.5h.7M479.3 90.2h.7M469.0 102.3h.7M482.2 86.3h.7M496.4 85.2h.7M469.5 91.4h.7M484.6 101.0h.7M491.8 94.1h.7M479.4 96.5h.7M470.0 89.3h.7M483.4 93.0h.7M479.6 86.0h.7M479.3 83.4h.7M487.1 91.3h.7M471.6 90.5h.7M507.5 108.0h.7M472.6 101.8h.7M478.6 94.1h.7M467.9 85.8h.7M480.1 89.5h.7M483.9 98.3h.7M477.5 96.0h.7M480.1 93.7h.7M473.4 94.7h.7M482.4 92.4h.7M472.6 84.2h.7M469.3 103.5h.7M488.2 93.0h.7M480.9 91.2h.7M485.5 97.5h.7M476.1 94.8h.7M486.0 81.6h.7M468.7 90.3h.7M466.7 91.4h.7M469.8 91.2h.7M481.8 84.7h.7M480.3 100.8h.7M479.0 84.8h.7M473.4 100.5h.7M475.2 89.0h.7M485.1 87.1h.7M468.1 97.8h.7M477.8 88.5h.7M483.6 98.7h.7M488.6 91.7h.7M483.0 94.9h.7M465.5 104.7h.7M471.4 90.0h.7M469.5 87.7h.7M488.7 91.1h.7M471.1 82.1h.7M479.8 92.0h.7M468.3 93.3h.7M461.3 99.0h.7M467.0 97.2h.7M477.3 79.4h.7M467.0 90.0h.7M486.3 95.1h.7M485.7 101.9h.7M475.0 89.8h.7M459.4 88.7h.7M482.9 86.6h.7M470.7 99.5h.7M489.0 79.8h.7M482.7 91.8h.7M486.6 89.2h.7M478.3 101.3h.7M472.9 95.9h.7M484.1 91.0h.7M487.0 94.5h.7M484.7 81.0h.7M468.6 95.7h.7M490.6 99.7h.7M477.7 87.9h.7M466.1 82.1h.7M474.0 96.8h.7M476.3 83.6h.7M477.3 93.0h.7M472.4 102.5h.7M483.3 98.7h.7M478.3 86.4h.7M489.5 97.9h.7M471.5 85.2h.7M485.5 88.0h.7M467.1 93.6h.7M482.8 87.2h.7M479.4 98.6h.7M484.0 82.0h.7M486.6 102.5h.7M486.9 90.8h.7M480.4 82.4h.7M472.2 90.1h.7M497.9 89.8h.7M470.4 104.2h.7M488.5 80.8h.7M474.9 82.4h.7M486.1 77.2h.7M494.9 83.6h.7M470.1 106.9h.7M483.6 94.0h.7M485.5 85.3h.7M486.3 89.7h.7M483.4 93.3h.7M490.3 82.8h.7M465.6 98.4h.7M501.1 92.7h.7M477.2 96.9h.7M466.8 94.7h.7M462.4 95.5h.7M486.6 102.0h.7M474.3 98.9h.7M490.1 84.3h.7M474.0 81.5h.7M470.3 96.4h.7M458.7 93.4h.7M486.3 100.4h.7M470.4 79.2h.7M469.1 97.5h.7M478.6 96.9h.7M475.9 97.0h.7M468.1 87.8h.7M475.2 82.0h.7M489.7 89.4h.7M468.2 88.5h.7M469.2 94.6h.7M475.5 98.3h.7M467.2 93.6h.7M463.5 91.7h.7M491.0 90.0h.7M486.6 91.0h.7M467.1 88.6h.7M467.8 96.1h.7M494.7 95.5h.7M469.1 94.5h.7M471.6 108.2h.7M472.4 100.7h.7M466.1 99.1h.7M466.2 91.3h.7M479.9 93.2h.7M477.6 92.2h.7M470.0 93.0h.7M476.7 86.9h.7M483.7 92.9h.7M472.2 101.6h.7M471.1 81.6h.7M489.8 88.5h.7M492.4 93.3h.7M470.7 100.6h.7M483.3 97.6h.7M479.9 102.1h.7M486.7 89.2h.7M463.9 94.3h.7M478.0 86.3h.7M477.7 102.1h.7M474.7 100.1h.7M468.5 87.8h.7M486.9 90.2h.7M481.1 98.6h.7M492.5 82.7h.7M483.9 93.2h.7M481.1 103.4h.7M475.4 89.2h.7M481.2 79.3h.7M480.9 86.5h.7M480.6 87.5h.7M482.8 90.3h.7M471.9 96.8h.7M483.8 81.6h.7M465.7 92.6h.7M475.7 101.2h.7M493.6 93.4h.7M488.2 89.1h.7M465.5 96.2h.7M462.9 105.0h.7M481.6 99.4h.7M470.7 83.4h.7M476.7 95.8h.7M475.7 89.7h.7M478.7 91.2h.7M490.2 82.6h.7M479.4 82.7h.7M478.1 95.3h.7M481.6 94.0h.7M469.8 84.6h.7M486.9 89.1h.7M466.5 104.0h.7M482.7 74.1h.7M502.7 90.0h.7M463.7 100.6h.7M482.3 99.8h.7M476.8 82.2h.7M476.2 90.1h.7M480.7 91.0h.7M482.4 84.2h.7M472.5 90.1h.7M480.6 81.4h.7M480.2 107.3h.7M462.0 101.3h.7M479.9 98.5h.7M478.9 94.1h.7M482.0 94.9h.7M466.6 93.3h.7M496.6 98.9h.7M469.3 87.8h.7M477.4 99.3h.7M486.3 87.7h.7M463.4 102.2h.7M492.7 94.7h.7M484.2 95.2h.7M496.5 96.8h.7M490.8 83.5h.7M473.2 93.2h.7M477.8 92.1h.7M501.9 87.9h.7M476.1 92.0h.7M473.6 84.2h.7M488.8 91.2h.7M481.6 92.3h.7M469.3 83.6h.7M475.8 96.2h.7M477.6 97.2h.7M470.3 91.8h.7M479.4 91.7h.7M481.0 101.2h.7M474.2 93.9h.7M472.4 96.8h.7M479.6 87.6h.7M467.5 86.4h.7M475.5 93.8h.7M473.3 92.5h.7M481.4 106.9h.7M491.3 105.4h.7M479.5 93.7h.7M496.9 92.3h.7M483.8 88.5h.7M473.6 98.1h.7M471.8 89.2h.7M464.2 96.3h.7M477.6 96.0h.7M468.7 86.0h.7M488.6 91.2h.7M484.6 84.3h.7M463.5 78.5h.7M481.8 98.3h.7M492.2 101.8h.7M459.8 88.2h.7M472.3 88.3h.7M475.3 87.8h.7M464.1 94.2h.7M478.6 87.6h.7M477.2 84.4h.7M474.6 90.9h.7M473.6 92.6h.7M464.8 85.9h.7M470.8 98.2h.7M468.2 88.0h.7M496.7 88.3h.7M473.6 87.5h.7M492.5 93.8h.7M481.9 102.1h.7M465.2 83.6h.7M489.0 93.7h.7M473.8 98.1h.7M478.8 104.8h.7M466.3 96.4h.7M488.1 96.7h.7M474.2 90.5h.7M474.5 97.4h.7M474.1 92.2h.7M487.7 90.4h.7M480.2 91.4h.7M476.2 78.7h.7M469.4 96.1h.7M471.4 89.5h.7M480.5 106.7h.7M469.9 87.6h.7M461.3 97.8h.7M476.7 87.4h.7M475.0 99.2h.7M488.0 93.4h.7M489.9 97.3h.7M474.3 98.1h.7M480.2 97.1h.7M482.5 105.4h.7M466.4 96.4h.7M469.7 108.4h.7M472.8 90.9h.7M477.8 92.3h.7M494.2 89.9h.7M481.3 98.8h.7M491.5 84.5h.7M479.7 83.8h.7M483.9 100.7h.7M472.8 91.5h.7M489.7 93.7h.7M485.3 88.6h.7M474.7 90.6h.7M491.6 81.1h.7M474.4 102.9h.7M476.4 85.8h.7M480.0 90.8h.7M477.3 95.8h.7M484.2 82.1h.7M481.2 101.6h.7M465.1 93.7h.7M467.5 98.2h.7M469.6 91.6h.7M474.4 95.9h.7M464.3 85.5h.7M481.0 100.8h.7M473.5 95.8h.7M480.6 92.8h.7M477.3 89.1h.7M476.7 100.4h.7M483.4 99.9h.7M471.2 94.2h.7M470.7 85.1h.7M486.3 89.5h.7M479.0 83.3h.7M475.5 92.1h.7M475.2 99.4h.7M482.5 92.7h.7M479.8 89.4h.7M471.0 91.7h.7M468.1 92.8h.7M477.9 99.7h.7M476.0 108.3h.7M473.1 94.0h.7M477.2 88.7h.7M475.8 81.5h.7M488.1 87.4h.7M476.1 81.1h.7M482.2 83.7h.7M490.0 84.1h.7M471.6 97.6h.7M488.4 78.4h.7M463.3 104.9h.7M480.8 82.4h.7M474.4 97.5h.7M475.6 102.5h.7M471.3 94.5h.7M490.2 100.3h.7M480.7 95.9h.7M474.7 92.5h.7M472.8 95.7h.7M485.1 85.0h.7M466.9 94.3h.7M497.2 91.3h.7M479.1 92.1h.7M461.4 90.3h.7M490.4 77.2h.7M493.9 82.5h.7M499.6 106.3h.7M492.0 89.6h.7M483.1 88.2h.7M473.8 94.4h.7M474.0 86.1h.7M475.9 97.0h.7M470.9 95.8h.7M465.2 94.9h.7M467.7 98.9h.7M468.6 97.8h.7M459.2 96.3h.7M487.6 85.8h.7M477.7 87.0h.7M483.2 96.6h.7M490.0 99.4h.7M489.6 86.1h.7M479.5 95.7h.7M478.6 83.9h.7M499.4 106.0h.7M476.2 75.9h.7M495.1 88.9h.7M498.5 82.8h.7M483.6 96.8h.7M464.0 92.3h.7M483.2 96.0h.7M479.3 75.4h.7M491.7 80.6h.7M482.5 97.9h.7M467.2 83.7h.7M480.1 89.3h.7M476.8 91.3h.7M477.1 94.6h.7M472.8 93.0h.7M471.8 87.7h.7M480.5 86.8h.7M482.9 91.6h.7M488.7 94.8h.7M458.9 95.0h.7M484.3 92.3h.7M479.3 99.3h.7M483.1 83.0h.7M479.7 98.7h.7M478.2 84.2h.7M485.8 95.3h.7M488.9 92.1h.7M479.7 97.8h.7M469.0 104.9h.7M481.9 93.4h.7M485.8 96.5h.7M476.2 87.6h.7M487.3 97.3h.7M480.9 88.0h.7M478.0 86.3h.7M501.2 84.9h.7M487.7 101.7h.7M469.3 90.2h.7M465.5 95.3h.7M475.8 92.9h.7M477.8 89.4h.7M478.9 91.9h.7M470.8 91.4h.7M471.3 85.0h.7M476.0 80.6h.7M482.9 91.6h.7M480.5 99.6h.7M486.5 88.4h.7M482.2 99.6h.7M476.7 95.1h.7M480.9 85.3h.7M480.2 89.6h.7M475.8 95.6h.7M483.3 85.9h.7M475.3 91.6h.7M469.2 96.1h.7M475.3 88.3h.7M486.7 90.7h.7M466.8 93.4h.7M476.4 94.6h.7M499.8 93.0h.7M491.4 89.5h.7M482.8 95.0h.7M477.1 94.2h.7M474.2 97.5h.7M470.8 104.6h.7M477.0 95.0h.7M477.8 82.0h.7M481.1 86.3h.7M479.4 89.5h.7M473.9 83.1h.7M465.0 90.7h.7M468.0 95.5h.7M464.8 95.7h.7M482.4 87.0h.7M468.5 91.6h.7M486.6 100.3h.7M498.4 90.2h.7M483.9 92.9h.7M476.7 85.7h.7M475.5 100.1h.7M490.4 86.8h.7M464.2 106.7h.7M478.6 95.3h.7M474.6 81.2h.7M480.0 85.9h.7M474.6 88.9h.7M477.5 108.1h.7M490.4 78.0h.7M462.8 91.3h.7M472.2 98.3h.7M492.0 85.7h.7M483.1 90.4h.7M460.1 102.6h.7M493.7 84.9h.7M483.4 88.4h.7M476.5 89.7h.7M476.6 93.0h.7M472.3 95.1h.7M466.3 99.4h.7M467.1 81.9h.7M485.4 89.2h.7M473.6 99.0h.7M479.3 105.0h.7M480.6 82.8h.7M472.5 88.9h.7M476.6 103.6h.7M505.2 99.8h.7M482.6 95.4h.7M477.5 78.2h.7M492.8 103.3h.7M472.9 93.0h.7M470.9 92.1h.7M468.6 86.4h.7M487.6 78.5h.7M486.6 83.8h.7M473.6 80.0h.7M483.1 85.2h.7M500.7 83.2h.7M480.8 96.4h.7M467.9 88.5h.7M468.2 97.5h.7M481.6 98.6h.7M463.4 88.5h.7M476.3 89.8h.7M481.9 99.3h.7M478.4 87.2h.7M476.8 87.9h.7M473.3 105.2h.7M485.9 103.3h.7M475.8 92.3h.7M466.1 95.7h.7M485.4 95.9h.7M466.9 94.7h.7M486.2 88.3h.7M484.1 88.3h.7M477.3 88.8h.7M463.1 89.1h.7M479.2 90.4h.7M477.3 88.8h.7M486.1 90.2h.7M481.2 88.9h.7M490.2 90.1h.7M484.0 106.0h.7M480.6 81.9h.7M471.8 95.4h.7M464.1 84.8h.7M475.3 82.6h.7M488.6 93.8h.7M476.0 100.6h.7M470.4 85.8h.7M486.5 91.4h.7M476.6 99.4h.7M477.2 96.8h.7M481.0 99.6h.7M482.7 88.7h.7M491.9 88.2h.7M493.2 82.1h.7M476.4 78.1h.7M484.0 100.4h.7M474.6 96.0h.7M477.1 102.0h.7M481.4 94.3h.7M487.0 81.3h.7M484.6 92.4h.7M490.2 90.9h.7M483.6 91.3h.7M468.1 90.6h.7M475.0 84.2h.7M477.1 89.5h.7M495.0 88.5h.7M479.2 92.9h.7M483.1 81.3h.7M462.8 104.9h.7M469.2 87.9h.7M489.3 92.8h.7M471.0 98.3h.7M468.6 104.4h.7M475.3 95.1h.7M479.6 104.8h.7M468.8 93.1h.7M496.4 76.6h.7M473.5 94.9h.7M476.3 95.6h.7M487.9 83.7h.7M473.0 101.8h.7M494.0 72.8h.7M484.0 98.1h.7M470.8 87.9h.7M467.1 92.7h.7M467.7 98.5h.7M471.9 96.7h.7M463.9 100.2h.7M485.2 97.6h.7M482.6 106.8h.7M487.2 91.5h.7M492.9 88.1h.7M480.9 102.7h.7M473.6 93.1h.7M480.5 93.3h.7M476.7 99.3h.7M498.1 87.2h.7M463.6 91.5h.7M463.7 86.2h.7M469.1 100.7h.7M480.1 96.8h.7M477.9 99.2h.7M475.3 101.4h.7M486.6 92.7h.7M463.1 87.4h.7M479.5 85.5h.7M476.2 91.7h.7M490.4 86.3h.7M478.8 89.4h.7M471.2 96.3h.7M485.9 82.1h.7M494.2 104.7h.7M479.9 95.6h.7M467.8 91.3h.7M480.8 91.5h.7M490.3 85.1h.7M476.1 96.2h.7M477.1 91.0h.7M477.3 95.2h.7M484.1 84.8h.7M468.4 86.5h.7M480.5 80.1h.7M500.8 85.7h.7M466.5 107.5h.7M478.4 95.7h.7M476.0 91.1h.7M495.7 77.2h.7M479.8 87.4h.7M474.7 92.6h.7M461.2 98.9h.7M480.4 95.8h.7M473.0 98.0h.7M474.3 98.0h.7M491.4 94.7h.7M464.5 94.9h.7M470.0 106.3h.7M478.8 84.1h.7M464.8 102.9h.7M468.9 96.5h.7M474.8 92.0h.7M473.9 93.1h.7M492.5 84.8h.7M483.4 94.9h.7M470.7 86.5h.7M470.1 97.4h.7M480.5 98.8h.7M481.6 92.8h.7M478.4 94.0h.7M479.1 96.7h.7M470.8 100.5h.7M493.4 89.8h.7M482.4 84.3h.7M477.7 83.3h.7M487.5 91.5h.7M489.3 98.2h.7M471.8 98.7h.7M494.7 104.5h.7M477.6 96.1h.7M472.6 97.4h.7M485.0 100.9h.7M476.7 93.1h.7M482.6 90.8h.7M495.7 75.7h.7M461.4 91.6h.7M484.7 91.7h.7M480.7 82.4h.7M484.2 95.2h.7M494.3 95.5h.7M471.6 88.7h.7M466.9 91.0h.7M478.2 100.6h.7M493.8 90.8h.7M483.6 90.7h.7M466.3 97.6h.7M469.7 83.3h.7M471.4 103.1h.7M468.3 102.7h.7M465.0 93.9h.7M482.5 89.3h.7M468.9 93.8h.7M494.5 94.5h.7M480.5 95.9h.7M490.5 99.3h.7M474.7 87.3h.7M468.8 94.2h.7M475.2 93.0h.7M474.4 109.1h.7M472.7 102.5h.7M469.2 88.7h.7M466.0 87.2h.7M461.8 89.5h.7M476.4 97.2h.7M461.5 97.7h.7M477.0 92.7h.7M485.4 98.9h.7M476.4 100.7h.7M477.9 86.7h.7M483.9 98.0h.7M480.3 92.0h.7M476.3 97.1h.7M461.1 96.8h.7M465.3 91.0h.7M481.1 100.0h.7M477.1 86.7h.7M504.3 90.9h.7M470.5 89.7h.7M490.0 104.5h.7M477.8 84.0h.7M486.4 92.0h.7M474.3 94.4h.7M467.2 95.3h.7M482.5 99.5h.7M496.7 85.9h.7M481.0 87.1h.7M480.2 99.6h.7M484.0 89.8h.7M496.0 95.7h.7M489.9 91.4h.7M490.7 89.8h.7M486.5 91.6h.7M476.7 82.8h.7M488.0 94.8h.7M472.2 93.8h.7M484.4 95.7h.7M459.6 104.7h.7M469.9 105.9h.7M489.2 91.9h.7M480.3 94.0h.7M475.5 102.6h.7M471.2 90.1h.7M474.4 82.9h.7M487.0 83.7h.7M493.5 96.5h.7M497.0 86.1h.7M501.7 67.7h.7M511.2 60.7h.7M499.1 63.7h.7M505.8 67.2h.7M514.7 62.9h.7M511.7 59.7h.7M472.5 85.1h.7M514.2 62.0h.7M521.2 63.7h.7M498.1 69.9h.7M517.0 54.9h.7M482.4 81.4h.7M510.1 68.5h.7M511.8 62.8h.7M497.4 66.1h.7M509.1 62.7h.7M502.0 69.8h.7M486.1 78.1h.7M502.0 74.8h.7M505.5 70.1h.7M493.9 69.0h.7M512.8 61.3h.7M494.1 76.8h.7M507.5 60.4h.7M505.6 72.7h.7M504.3 63.4h.7M499.2 74.7h.7M520.0 60.1h.7M492.2 77.2h.7M496.8 70.4h.7M501.9 72.1h.7M510.6 65.4h.7M500.3 68.3h.7M514.3 59.6h.7M503.2 69.8h.7M504.8 70.1h.7M511.2 65.3h.7M494.5 65.8h.7M497.8 68.9h.7M513.4 65.8h.7M514.8 60.6h.7M482.3 68.0h.7M499.2 64.6h.7M512.0 60.0h.7M510.3 61.8h.7M508.3 62.1h.7M511.3 68.8h.7M506.7 61.8h.7M498.0 71.7h.7M511.0 59.6h.7M494.4 68.4h.7M507.6 64.1h.7M505.8 70.3h.7M510.2 63.0h.7M501.7 69.0h.7M516.1 56.0h.7M490.5 77.8h.7M517.0 64.3h.7M508.5 60.3h.7M513.0 62.7h.7M493.5 69.0h.7M490.7 75.8h.7M493.5 75.0h.7M504.5 69.3h.7M512.0 60.0h.7M502.6 70.7h.7M500.5 72.9h.7M511.9 65.6h.7M500.6 72.1h.7M503.4 68.6h.7M510.2 62.1h.7M501.4 61.8h.7M499.5 72.2h.7M492.1 68.3h.7M491.3 74.3h.7M512.1 64.4h.7M492.4 75.8h.7M495.1 76.3h.7M507.9 63.3h.7M500.6 69.4h.7M501.3 72.8h.7M507.1 64.0h.7M507.4 61.3h.7M506.1 65.3h.7M499.7 70.0h.7M505.2 62.4h.7M512.5 71.6h.7M511.7 61.2h.7M510.7 68.7h.7M497.3 76.7h.7M504.4 73.2h.7M498.8 73.9h.7M501.5 73.0h.7M513.8 62.8h.7M498.8 74.0h.7M507.1 62.4h.7M510.0 63.5h.7M502.7 65.4h.7M508.2 67.8h.7M498.4 73.4h.7M488.5 77.3h.7M506.2 63.3h.7M504.7 63.1h.7M513.8 58.8h.7M484.3 79.2h.7M517.1 59.2h.7M516.2 61.5h.7M509.5 67.5h.7M499.1 69.3h.7M515.7 62.0h.7M498.7 67.5h.7M513.2 61.6h.7M493.8 75.0h.7M512.5 69.5h.7M504.3 59.6h.7M497.6 73.8h.7M500.6 69.5h.7M506.3 70.7h.7M507.8 64.8h.7M500.6 72.7h.7M499.3 71.7h.7M509.9 66.4h.7M512.6 63.3h.7M497.0 69.0h.7M500.6 73.8h.7M497.3 76.5h.7M508.1 63.3h.7M496.0 72.1h.7M511.8 62.7h.7M511.7 63.5h.7M516.6 58.5h.7M502.3 65.1h.7M500.8 66.4h.7M491.2 74.6h.7M508.1 58.2h.7M491.7 70.6h.7M509.1 66.3h.7M507.7 64.8h.7M498.4 71.5h.7M497.0 71.1h.7M508.3 64.2h.7M512.8 55.6h.7M492.2 77.8h.7M499.4 68.9h.7M500.0 69.8h.7M504.1 68.6h.7M515.8 66.2h.7M486.0 78.1h.7M497.5 72.2h.7M496.2 72.5h.7M507.5 65.4h.7M508.0 67.2h.7M495.6 72.5h.7M515.6 63.5h.7M512.6 59.9h.7M500.5 72.7h.7M505.5 67.6h.7M503.2 70.9h.7M505.2 63.8h.7M507.8 64.2h.7M503.5 69.7h.7M505.6 64.9h.7M494.1 72.2h.7M502.2 65.0h.7M502.7 75.5h.7M499.5 70.5h.7M493.7 72.8h.7M507.5 66.0h.7M490.1 76.1h.7M497.8 74.7h.7M506.3 71.1h.7M506.7 62.4h.7M512.8 60.8h.7M504.2 67.8h.7M495.1 76.5h.7M505.0 63.8h.7M493.5 75.3h.7M516.3 61.4h.7M507.2 64.4h.7M515.5 62.4h.7M497.1 69.9h.7M487.5 81.1h.7M509.9 66.4h.7M506.0 73.0h.7M494.9 70.5h.7M520.6 60.4h.7M511.6 62.7h.7M504.8 67.6h.7M508.0 63.3h.7M516.6 65.4h.7M499.1 67.6h.7M509.5 71.9h.7M498.3 75.1h.7M498.0 68.9h.7M514.4 60.8h.7M505.6 68.8h.7M515.4 61.5h.7M517.9 57.2h.7M501.3 71.3h.7M508.5 59.6h.7M503.2 70.2h.7M506.1 71.9h.7M491.3 75.9h.7M495.4 67.9h.7M502.9 68.1h.7M500.5 67.8h.7M511.2 60.1h.7M497.6 67.2h.7M513.4 57.5h.7M519.1 55.7h.7M506.8 70.9h.7M497.4 75.6h.7M492.9 72.9h.7M510.5 64.8h.7M508.4 65.9h.7M516.8 55.0h.7M500.1 72.7h.7M491.1 73.3h.7M509.7 64.5h.7M502.4 65.9h.7M495.9 69.5h.7M493.9 74.1h.7M507.5 62.6h.7M504.4 63.3h.7M507.9 64.3h.7M504.7 67.8h.7M516.9 60.5h.7M499.5 70.9h.7M509.3 66.1h.7M513.3 59.6h.7M495.3 74.8h.7M495.6 74.1h.7M490.9 73.0h.7M508.1 64.3h.7M511.6 63.8h.7M508.8 66.5h.7M492.7 78.0h.7M491.2 72.6h.7M483.6 79.9h.7M508.1 64.0h.7M491.4 68.5h.7M508.5 61.4h.7M502.1 69.5h.7M505.0 68.3h.7M520.8 59.7h.7M496.0 72.4h.7M501.8 66.3h.7M510.4 62.6h.7M508.0 67.2h.7M514.4 68.0h.7M519.7 59.2h.7M498.7 71.3h.7M498.9 69.4h.7M489.3 75.6h.7M488.5 80.0h.7M509.2 63.3h.7M505.5 67.1h.7M503.2 69.0h.7M504.1 69.0h.7M497.9 71.5h.7M519.0 56.2h.7M499.1 73.5h.7M508.1 65.7h.7M506.2 65.1h.7M501.0 71.0h.7M507.5 67.5h.7M512.1 69.7h.7M507.8 69.7h.7M509.5 71.3h.7M512.9 60.0h.7M518.5 57.2h.7M513.2 59.9h.7M508.5 65.4h.7M515.0 54.5h.7M489.2 79.6h.7M511.2 61.8h.7M503.6 62.6h.7M500.8 67.6h.7M513.4 62.8h.7M505.3 70.5h.7M500.3 72.3h.7M503.7 69.3h.7M504.4 71.8h.7M503.9 73.9h.7M511.2 60.9h.7M502.9 72.5h.7M516.7 56.4h.7M507.5 67.5h.7M504.6 70.2h.7M504.7 64.7h.7M504.5 66.8h.7M503.3 68.4h.7M507.3 63.4h.7M509.1 59.8h.7M511.8 64.5h.7M506.9 61.4h.7M500.9 70.2h.7M510.4 66.2h.7M491.4 75.4h.7M513.3 58.6h.7M493.6 72.6h.7M502.4 67.9h.7M516.8 60.9h.7M489.0 79.2h.7M507.2 68.5h.7M506.8 70.3h.7M505.8 65.2h.7M495.6 75.7h.7M501.6 63.9h.7M514.5 65.4h.7M487.1 79.7h.7M513.4 67.4h.7M515.2 58.8h.7M510.3 66.3h.7M493.8 78.3h.7M510.8 66.3h.7M498.3 73.8h.7M504.4 66.6h.7M506.0 67.7h.7M491.5 75.3h.7M506.3 61.5h.7M511.3 63.4h.7M494.3 70.2h.7M495.3 75.8h.7M497.5 72.3h.7M502.4 71.5h.7M517.9 62.3h.7M512.6 65.9h.7M519.4 55.9h.7M506.7 64.2h.7M505.3 66.4h.7M507.2 68.1h.7M489.9 68.3h.7M509.1 68.0h.7M503.6 72.6h.7M504.0 69.4h.7M510.1 59.6h.7M506.9 59.8h.7M495.8 73.4h.7M506.4 62.7h.7M507.3 69.8h.7M491.1 77.3h.7M514.9 57.2h.7M516.6 61.7h.7M502.4 68.9h.7M504.9 67.4h.7M502.3 66.6h.7M515.7 66.0h.7M505.3 71.4h.7M496.5 68.4h.7M511.3 64.2h.7M508.0 62.5h.7M503.0 71.6h.7M520.0 59.0h.7M505.1 59.1h.7M501.1 73.6h.7M521.3 54.9h.7M483.0 82.0h.7M492.8 73.3h.7M499.2 69.6h.7M497.3 73.9h.7M506.1 62.6h.7M493.7 80.4h.7M510.6 64.5h.7M492.8 81.2h.7M495.9 73.1h.7M507.2 63.7h.7M505.7 65.5h.7M484.7 75.2h.7M498.8 69.4h.7M511.3 68.6h.7M505.9 73.4h.7M501.4 69.8h.7M500.8 64.6h.7M504.2 67.1h.7M498.6 73.4h.7M508.3 64.3h.7M497.6 72.6h.7M496.7 69.6h.7M501.9 72.1h.7M502.3 68.4h.7M502.9 70.4h.7M504.7 70.0h.7M504.8 70.0h.7M501.3 67.2h.7M508.5 64.6h.7M502.9 73.0h.7M499.5 68.2h.7M503.9 72.3h.7M494.5 77.1h.7M509.1 63.6h.7M501.0 67.5h.7M485.5 76.1h.7M490.2 71.2h.7M501.8 71.0h.7M496.1 71.6h.7M497.7 71.0h.7M510.1 67.9h.7M510.8 64.9h.7M518.3 61.5h.7M510.0 66.0h.7M510.8 60.6h.7M497.0 72.4h.7M488.5 76.4h.7M502.3 69.9h.7M512.8 66.6h.7M483.9 80.6h.7M509.8 68.8h.7M499.8 71.7h.7M502.2 66.1h.7M508.3 68.3h.7M501.7 69.5h.7M514.3 61.1h.7M502.3 69.8h.7M509.3 66.0h.7M516.4 61.8h.7M491.8 70.2h.7M506.2 71.8h.7M504.5 66.3h.7M507.9 67.2h.7M514.1 57.9h.7M511.9 63.7h.7M513.6 65.5h.7M486.0 81.6h.7M508.1 63.0h.7M505.0 70.5h.7M492.4 77.6h.7M514.2 67.2h.7M496.3 70.6h.7M513.3 61.4h.7M504.8 59.4h.7M490.6 77.5h.7M508.0 63.0h.7M488.8 97.6h.7M507.3 87.1h.7M506.6 89.6h.7M497.8 98.7h.7M505.6 94.0h.7M496.1 88.6h.7M503.5 89.4h.7M508.2 93.9h.7M503.9 92.5h.7M508.7 100.9h.7M497.3 100.5h.7M512.4 99.3h.7M501.3 95.2h.7M511.9 91.8h.7M518.2 94.7h.7M512.0 89.2h.7M501.8 105.1h.7M495.9 89.9h.7M503.6 84.8h.7M510.3 84.9h.7M505.9 92.0h.7M488.8 94.7h.7M493.8 93.9h.7M487.8 89.8h.7M511.8 95.6h.7M514.1 105.3h.7M511.2 92.3h.7M504.7 98.1h.7M496.1 86.2h.7M505.5 106.1h.7M497.0 95.4h.7M500.2 98.8h.7M508.2 93.4h.7M512.5 91.8h.7M492.9 108.7h.7M504.7 95.9h.7M511.5 87.8h.7M502.0 88.3h.7M509.9 96.5h.7M507.1 84.3h.7M499.3 83.3h.7M495.1 88.4h.7M507.8 97.2h.7M491.8 98.2h.7M508.3 105.0h.7M512.1 82.9h.7M509.3 95.3h.7M508.0 88.4h.7M516.5 94.3h.7M501.1 80.7h.7M503.6 83.8h.7M494.3 105.3h.7M505.0 100.6h.7M514.0 98.9h.7M502.3 85.2h.7M504.3 94.5h.7M504.4 91.5h.7M506.6 83.3h.7M513.6 85.2h.7M506.5 87.3h.7M515.9 89.6h.7M498.5 90.9h.7M512.3 84.8h.7M495.6 89.8h.7M511.3 72.5h.7M504.2 100.3h.7M504.6 80.3h.7M502.3 98.0h.7M497.0 91.5h.7M500.5 96.4h.7M495.6 105.6h.7M503.3 90.6h.7M509.4 99.1h.7M507.2 96.1h.7M506.9 84.9h.7M511.5 99.9h.7M499.5 80.9h.7M500.9 94.9h.7M516.4 95.2h.7M480.6 89.1h.7M506.0 95.3h.7M493.9 91.0h.7M506.6 98.6h.7M511.8 105.5h.7M500.3 90.5h.7M502.1 97.2h.7M520.9 94.9h.7M506.8 86.9h.7M495.7 106.4h.7M504.9 103.8h.7M511.9 90.0h.7M507.5 87.0h.7M510.4 92.5h.7M511.6 102.6h.7M501.0 99.4h.7M508.9 89.8h.7M507.7 102.6h.7M506.8 100.6h.7M508.2 102.7h.7M504.6 91.2h.7M510.5 77.0h.7M501.6 104.7h.7M499.9 107.0h.7M518.0 90.0h.7M499.8 96.4h.7M512.6 106.3h.7M517.4 88.4h.7M512.3 89.9h.7M513.9 97.0h.7M516.8 92.9h.7M512.0 84.3h.7M498.1 97.3h.7M506.4 100.0h.7M496.5 85.9h.7M500.8 102.0h.7M508.6 91.4h.7M510.9 92.3h.7M507.7 93.4h.7M495.2 99.5h.7M506.4 89.2h.7M507.1 88.3h.7M505.4 90.8h.7M508.3 86.8h.7M504.8 90.5h.7M498.1 93.0h.7M511.1 98.8h.7M508.1 92.7h.7M513.1 91.5h.7M510.9 80.9h.7M496.4 88.2h.7M514.5 91.6h.7M509.3 85.5h.7M518.6 106.3h.7M505.8 88.7h.7M507.7 91.7h.7M502.1 75.4h.7M507.5 77.4h.7M501.8 82.3h.7M521.3 84.1h.7M502.7 96.2h.7M503.3 95.3h.7M513.0 88.8h.7M509.8 92.5h.7M495.5 95.5h.7M497.4 101.0h.7M505.8 94.7h.7M513.6 87.4h.7M499.6 103.9h.7M511.4 96.6h.7M490.2 93.6h.7M498.4 89.0h.7M493.0 81.4h.7M502.4 96.2h.7M501.8 92.1h.7M506.4 103.3h.7M501.2 94.4h.7M512.3 84.7h.7M497.5 90.1h.7M516.9 89.7h.7M496.0 79.6h.7M507.1 101.1h.7M499.6 90.4h.7M497.1 88.0h.7M513.9 89.4h.7M497.6 97.9h.7M507.9 93.0h.7M515.0 84.3h.7M505.3 102.6h.7M511.8 100.1h.7M494.1 91.3h.7M519.2 104.1h.7M481.3 79.5h.7M516.8 99.2h.7M516.5 72.8h.7M506.6 99.2h.7M515.7 86.2h.7M514.4 99.2h.7M501.7 105.0h.7M516.1 99.9h.7M502.2 95.4h.7M505.7 105.5h.7M500.4 88.0h.7M518.3 95.7h.7M500.6 91.9h.7M502.8 92.4h.7M520.5 88.3h.7M503.4 71.1h.7M510.0 100.2h.7M503.5 90.4h.7M495.9 93.3h.7M499.6 91.7h.7M507.2 98.8h.7M508.7 97.2h.7M510.2 92.6h.7M513.8 94.4h.7M495.0 89.4h.7M518.0 81.5h.7M520.3 94.1h.7M508.1 102.4h.7M507.8 89.8h.7M488.1 88.8h.7M496.4 98.4h.7M506.8 86.4h.7M515.6 99.8h.7M495.9 94.0h.7M512.2 99.8h.7M495.2 96.8h.7M511.5 96.2h.7M492.7 89.9h.7M505.0 91.6h.7M513.5 90.4h.7M490.9 77.7h.7M509.9 87.3h.7M505.7 101.3h.7M501.7 93.0h.7M494.2 84.4h.7M510.8 101.7h.7M500.6 91.9h.7M508.7 90.0h.7M506.6 90.3h.7M510.9 89.5h.7M502.1 83.2h.7M499.7 82.3h.7M504.9 100.5h.7M495.4 87.0h.7M499.7 96.5h.7M503.5 90.8h.7M498.2 91.2h.7M503.1 87.3h.7M517.6 96.7h.7M504.7 95.4h.7M501.6 92.9h.7M515.4 96.5h.7M503.7 93.9h.7M496.8 90.8h.7M502.6 91.4h.7M517.2 93.4h.7M515.5 93.1h.7M493.7 102.0h.7M501.6 92.3h.7M515.1 103.3h.7M507.3 102.3h.7M502.0 97.8h.7M498.6 100.2h.7M501.4 97.9h.7M496.2 103.5h.7M519.4 91.2h.7M506.5 86.2h.7M504.4 82.6h.7M511.9 92.6h.7M515.6 93.1h.7M504.1 87.1h.7M511.2 92.2h.7M496.2 82.3h.7M513.9 92.4h.7M505.4 89.1h.7M501.7 93.0h.7M507.6 84.5h.7M490.3 93.6h.7M515.3 88.4h.7M494.8 97.0h.7M500.9 93.1h.7M519.6 93.1h.7M517.0 87.4h.7M491.0 90.3h.7M502.8 98.0h.7M509.7 78.8h.7M496.8 89.9h.7M500.0 88.4h.7M503.3 94.2h.7M493.7 86.4h.7M498.5 101.7h.7M504.6 82.4h.7M510.0 99.7h.7M492.8 84.3h.7M509.7 93.4h.7M511.0 104.6h.7M511.5 100.2h.7M502.0 103.2h.7M500.3 95.5h.7M489.4 90.1h.7M512.5 86.4h.7M502.2 77.5h.7M503.2 83.6h.7M506.5 89.6h.7M500.4 90.6h.7M502.6 93.0h.7M503.8 101.2h.7M514.7 75.0h.7M517.0 91.5h.7M508.9 86.5h.7M511.0 97.1h.7M501.4 84.9h.7M510.2 96.2h.7M498.6 77.7h.7M496.9 95.9h.7M516.4 86.0h.7M501.4 85.2h.7M508.9 87.3h.7M519.8 97.2h.7M504.4 90.1h.7M514.3 90.1h.7M502.9 93.8h.7M514.7 103.2h.7M503.2 84.2h.7M498.6 91.8h.7M511.3 74.2h.7M511.4 95.9h.7M507.7 82.4h.7M506.9 89.3h.7M498.4 97.3h.7M516.2 94.3h.7M510.8 100.1h.7M506.4 90.0h.7M518.2 88.5h.7M503.7 95.4h.7M502.7 86.1h.7M515.0 92.8h.7M500.5 88.8h.7M510.9 98.8h.7M507.8 101.2h.7M506.1 104.2h.7M513.5 84.8h.7M505.4 95.3h.7M506.1 85.9h.7M510.0 92.5h.7M494.2 83.8h.7M503.1 99.5h.7M505.9 94.3h.7M513.9 91.3h.7M506.4 92.4h.7M513.5 88.3h.7M509.3 87.8h.7M506.9 100.7h.7M499.9 96.3h.7M506.9 94.5h.7M510.5 93.5h.7M510.2 105.7h.7M500.8 85.3h.7M512.2 95.7h.7M512.1 89.0h.7M502.4 88.7h.7M499.8 86.3h.7M503.7 91.8h.7M506.7 98.7h.7M499.1 92.3h.7M499.4 98.8h.7M499.1 90.4h.7M500.1 100.5h.7M496.7 84.9h.7M503.2 90.4h.7M499.0 100.9h.7M501.9 78.2h.7M504.7 83.6h.7M501.1 89.4h.7M499.2 90.0h.7M503.2 97.3h.7M502.7 100.9h.7M519.7 98.4h.7M504.3 106.6h.7M507.0 101.4h.7M502.0 84.2h.7M516.8 86.7h.7M498.1 93.9h.7M499.0 97.7h.7M506.9 91.5h.7M501.9 103.2h.7M517.1 100.9h.7M496.0 104.6h.7M507.1 105.0h.7M510.5 88.2h.7M493.3 88.2h.7M515.8 89.8h.7M519.2 83.9h.7M511.3 92.1h.7M495.4 95.6h.7M503.2 90.9h.7M490.0 85.9h.7M501.1 91.9h.7M499.8 107.3h.7M503.1 94.4h.7M503.7 101.9h.7M510.8 100.0h.7M494.2 94.1h.7M505.1 97.5h.7M501.1 94.0h.7M498.6 90.4h.7M509.0 89.4h.7M499.6 92.0h.7M508.8 95.9h.7M497.0 89.9h.7M497.1 85.8h.7M511.7 90.9h.7M512.9 103.9h.7M515.9 98.1h.7M512.2 99.1h.7M508.9 95.6h.7M503.1 81.0h.7M509.9 97.7h.7M506.1 98.4h.7M505.0 92.4h.7M511.1 80.9h.7M517.1 90.2h.7M510.4 97.3h.7M518.7 104.9h.7M496.0 86.2h.7M507.4 81.4h.7M511.0 92.1h.7M500.0 98.9h.7M498.8 87.7h.7M506.0 99.1h.7M504.5 90.5h.7M507.6 90.3h.7M491.5 99.5h.7M509.8 100.8h.7M507.0 96.3h.7M492.9 83.3h.7M490.9 101.3h.7M500.5 102.4h.7M509.4 89.8h.7M505.2 87.3h.7M502.5 95.4h.7M511.3 89.5h.7M493.5 101.0h.7M497.2 98.0h.7M494.0 86.5h.7M490.2 97.6h.7M520.6 93.9h.7M489.8 91.4h.7M507.9 95.6h.7M507.1 85.8h.7M503.4 106.4h.7M501.5 90.2h.7M496.4 88.6h.7M515.3 95.6h.7M501.8 90.4h.7M512.2 88.9h.7M499.5 90.7h.7M485.6 101.0h.7M499.4 98.3h.7M505.7 100.1h.7M510.1 91.5h.7M508.2 78.3h.7M496.8 78.5h.7M503.6 108.4h.7M508.4 82.6h.7M493.5 95.6h.7M510.7 91.5h.7M517.2 94.7h.7M511.7 98.5h.7M517.5 97.2h.7M508.9 95.2h.7M507.3 97.0h.7M518.4 81.6h.7M502.2 82.7h.7M501.1 94.9h.7M507.2 95.7h.7M511.5 96.1h.7M503.1 92.1h.7M497.3 89.8h.7M504.9 95.7h.7M493.2 100.8h.7M505.1 82.0h.7M504.4 97.1h.7M506.4 90.1h.7M498.7 94.6h.7M506.9 95.1h.7M502.6 101.6h.7M491.3 93.0h.7M492.8 79.3h.7M507.0 98.9h.7M503.3 96.1h.7M504.2 101.1h.7M500.9 96.8h.7M508.2 81.9h.7M514.8 88.9h.7M496.6 88.3h.7M512.3 90.1h.7M511.7 86.4h.7M507.6 80.8h.7M503.3 102.1h.7M501.4 94.2h.7M491.3 104.7h.7M503.8 96.2h.7M502.5 85.7h.7M502.8 90.7h.7M497.4 91.9h.7M497.8 89.5h.7M483.2 86.1h.7M508.0 94.5h.7M503.6 95.9h.7M519.0 95.4h.7M506.4 92.4h.7M508.1 97.4h.7M488.0 107.7h.7M513.0 96.3h.7M500.7 92.2h.7M499.5 102.3h.7M500.1 81.6h.7M503.7 87.0h.7M507.0 94.0h.7M498.8 82.2h.7M502.8 83.9h.7M503.9 94.2h.7M502.3 94.1h.7M502.2 104.5h.7M491.5 85.4h.7M514.2 84.4h.7M510.2 91.4h.7M505.4 83.1h.7M502.1 91.9h.7M488.6 93.1h.7M501.9 77.3h.7M506.5 90.5h.7M493.5 100.9h.7M504.3 85.0h.7M498.3 95.0h.7M500.9 97.8h.7M495.5 94.7h.7M508.8 96.5h.7M498.9 86.3h.7M496.3 93.5h.7M503.1 101.2h.7M502.7 102.1h.7M474.8 78.9h.7M485.8 76.1h.7M466.1 76.6h.7M478.4 73.7h.7M475.1 77.7h.7M459.0 77.1h.7M491.1 72.3h.7M487.7 73.1h.7M474.4 73.5h.7M476.8 71.9h.7M471.8 74.0h.7M469.0 74.7h.7M485.9 71.6h.7M478.7 71.9h.7M467.0 74.9h.7M474.5 78.8h.7M483.1 75.3h.7M471.4 80.3h.7M465.6 71.9h.7M483.3 76.5h.7M482.4 74.1h.7M483.3 79.5h.7M460.3 77.0h.7M485.4 70.8h.7M468.7 76.3h.7M482.4 74.8h.7M462.8 75.7h.7M476.1 73.4h.7M485.9 66.5h.7M477.9 72.5h.7M482.0 73.7h.7M491.9 75.6h.7M472.3 68.5h.7M474.6 74.7h.7M490.6 76.4h.7M478.6 71.3h.7M478.8 71.1h.7M464.8 76.6h.7M473.1 69.6h.7M486.9 79.7h.7M480.9 68.4h.7M469.7 71.1h.7M479.2 88.2h.7M484.9 74.5h.7M469.7 69.4h.7M470.7 75.6h.7M474.9 76.9h.7M481.6 70.4h.7M484.2 75.0h.7M490.9 74.3h.7M473.9 74.4h.7M487.7 76.9h.7M487.2 78.9h.7M479.9 84.0h.7M476.3 74.0h.7M486.7 70.4h.7M479.8 78.8h.7M469.4 67.5h.7M464.8 79.3h.7M498.7 71.4h.7M465.8 70.0h.7M490.7 77.9h.7M483.0 72.0h.7M482.9 72.0h.7M482.1 71.9h.7M466.2 73.1h.7M480.7 76.1h.7M472.4 78.5h.7M463.3 67.2h.7M482.4 74.3h.7M476.8 73.1h.7M481.8 75.7h.7M489.2 71.2h.7M466.3 74.3h.7M475.0 73.7h.7M458.5 76.3h.7M491.9 76.3h.7M488.0 77.2h.7M479.6 76.4h.7M486.8 76.6h.7M483.0 74.6h.7M470.8 76.2h.7M473.8 77.1h.7M488.8 80.8h.7M480.8 70.7h.7M473.9 70.3h.7M481.0 74.9h.7M478.8 67.6h.7M464.4 66.2h.7M489.7 76.8h.7M477.9 73.4h.7M461.8 73.4h.7M473.8 71.6h.7M486.2 66.9h.7M478.9 78.0h.7M484.6 69.0h.7M490.0 74.2h.7M475.2 76.2h.7M487.0 75.3h.7M474.5 75.7h.7M480.9 82.9h.7M477.8 71.2h.7M494.4 80.7h.7M490.6 71.2h.7M472.4 69.5h.7M476.5 80.1h.7M485.9 75.0h.7M479.7 76.8h.7M476.5 70.7h.7M471.6 81.4h.7M469.4 70.4h.7M482.7 73.5h.7M474.7 75.5h.7M476.6 68.4h.7M486.1 75.7h.7M492.9 78.2h.7M472.7 73.1h.7M471.5 66.2h.7M484.3 72.2h.7M486.5 75.6h.7M476.8 81.2h.7M469.5 81.8h.7M474.5 83.3h.7M488.1 72.8h.7M493.5 76.5h.7M481.0 73.3h.7M477.5 73.3h.7M474.9 78.0h.7M485.2 79.8h.7M488.6 74.6h.7M484.6 73.9h.7M483.1 77.4h.7M481.3 71.8h.7M467.5 81.6h.7M471.0 72.5h.7M481.4 73.4h.7M481.8 80.3h.7M464.3 75.3h.7M483.3 69.4h.7M484.5 80.7h.7M478.4 76.8h.7M475.4 78.8h.7M473.5 74.9h.7M472.1 72.1h.7M488.3 74.7h.7M486.0 68.7h.7M467.5 71.4h.7M494.9 79.5h.7M497.8 73.2h.7M483.5 76.4h.7M475.8 77.3h.7M477.8 76.8h.7M462.3 70.8h.7M469.3 81.5h.7M485.9 71.1h.7M482.5 72.7h.7M468.1 71.3h.7M504.5 75.3h.7M477.3 79.8h.7M480.6 70.6h.7M497.2 83.6h.7M485.1 71.6h.7M477.6 75.4h.7M468.3 85.3h.7M478.2 72.7h.7M475.7 73.6h.7M488.5 75.8h.7M519.4 59.7h.7M486.5 98.3h.7M511.5 83.7h.7M494.7 84.0h.7M500.7 108.0h.7M499.9 66.6h.7M472.7 81.2h.7M500.4 97.9h.7M475.3 64.8h.7M463.7 96.1h.7M459.9 54.9h.7M486.0 98.6h.7M520.3 68.9h.7M480.3 60.3h.7M466.4 65.1h.7M508.4 93.3h.7M502.4 96.8h.7M470.8 107.5h.7M491.7 68.9h.7M509.1 67.9h.7M459.1 96.0h.7M466.1 108.7h.7M511.4 72.7h.7M519.4 86.8h.7M492.5 69.9h.7M515.2 88.0h.7M476.4 71.4h.7M477.0 72.3h.7M517.5 86.0h.7M497.8 95.1h.7M462.0 87.4h.7M507.7 58.8h.7M517.1 81.3h.7M459.1 107.8h.7M483.9 99.7h.7M520.2 56.1h.7M475.4 81.3h.7M477.0 93.4h.7M481.0 80.6h.7M484.1 97.0h.7M492.4 75.5h.7M513.3 78.4h.7M521.0 61.5h.7M463.9 92.5h.7M514.4 57.1h.7M479.7 94.3h.7M503.8 84.8h.7M501.6 102.1h.7M494.8 75.1h.7M471.2 72.6h.7M509.9 101.4h.7M481.0 67.2h.7M520.1 57.3h.7M482.7 76.7h.7M502.3 56.5h.7M501.2 56.4h.7M471.1 78.6h.7M506.6 64.9h.7M499.5 55.6h.7M467.9 71.1h.7M462.9 98.6h.7M494.5 99.8h.7M487.7 84.9h.7M459.8 105.6h.7M478.0 89.6h.7M512.0 76.7h.7M479.9 96.2h.7M509.1 104.3h.7M483.7 72.9h.7M490.0 87.0h.7M500.7 99.8h.7M498.0 68.1h.7M507.1 96.9h.7M511.1 59.8h.7M483.5 101.1h.7M482.8 63.1h.7M460.4 93.0h.7M459.9 73.3h.7M487.2 63.6h.7M487.0 94.7h.7M462.6 72.1h.7M500.4 88.3h.7M493.7 69.9h.7M480.6 105.5h.7M488.6 70.1h.7M487.9 60.6h.7M494.3 106.0h.7M499.3 54.5h.7M511.5 65.1h.7M460.3 69.6h.7M491.8 54.5h.7M520.8 76.6h.7M458.6 91.8h.7M520.1 55.6h.7M468.1 60.7h.7M481.1 75.2h.7M460.0 107.1h.7M506.7 69.9h.7M498.0 80.6h.7M508.8 67.5h.7M518.7 94.5h.7M497.7 85.4h.7M499.3 55.6h.7M514.5 81.1h.7M470.6 74.0h.7M503.8 97.4h.7M471.7 75.4h.7M520.8 57.8h.7M483.0 106.7h.7M503.8 82.8h.7M486.5 58.1h.7M505.8 73.0h.7M462.7 107.5h.7M463.5 80.0h.7M502.1 84.1h.7M483.1 94.9h.7M473.6 92.8h.7M484.6 107.3h.7M512.2 66.5h.7M514.6 78.7h.7M479.6 62.4h.7M469.1 56.3h.7M472.0 75.6h.7M501.4 104.0h.7M501.8 107.2h.7M518.0 101.9h.7M476.4 56.7h.7M495.6 74.5h.7M520.3 55.7h.7M518.1 69.8h.7M501.1 94.3h.7M488.4 96.7h.7M511.4 61.1h.7M509.8 108.4h.7M510.4 86.8h.7M496.0 59.7h.7M493.6 70.6h.7M472.8 105.4h.7M474.4 65.2h.7M512.5 83.7h.7M513.7 63.8h.7M515.3 77.3h.7M514.2 87.8h.7M479.6 73.8h.7M465.0 84.7h.7M462.6 104.0h.7M474.4 71.8h.7M482.5 80.5h.7M516.8 58.6h.7M480.4 84.0h.7M490.7 102.3h.7M492.3 91.0h.7M500.5 74.8h.7M486.1 65.8h.7M465.2 107.0h.7M500.9 60.7h.7M511.6 76.8h.7M484.3 97.7h.7M476.9 91.8h.7M507.7 91.0h.7M468.6 60.9h.7M505.8 87.7h.7M481.0 105.7h.7M493.1 108.6h.7M469.7 99.8h.7M520.5 63.6h.7M470.8 80.3h.7M478.3 86.6h.7M464.7 56.3h.7M464.0 60.4h.7" stroke="#000" stroke-width="0.7" stroke-opacity="0.8" fill="none"/>
</g>
<rect x="458" y="54.3" width="63.5" height="54.900000000000006" fill="none" stroke="#000" stroke-width="1.5"/>
<line x1="492.5" y1="54.3" x2="492.5" y2="109.2" stroke="#000" stroke-width="1.5" />
<line x1="458" y1="80" x2="521.5" y2="80" stroke="#000" stroke-width="1.5" />
</g>
<text transform="translate(7.6,209.5) scale(1.0,1)" font-size="16" text-anchor="start" font-weight="bold" >C</text>
<line x1="74.3" y1="212.3" x2="74.3" y2="359.5" stroke="#000" stroke-width="2.5" />
<line x1="69.3" y1="356.5" x2="180" y2="356.5" stroke="#000" stroke-width="2.8" />
<text transform="translate(66.3,360.7) scale(1.03,1)" font-size="12" text-anchor="end" font-weight="bold" >0</text>
<line x1="69.3" y1="336.0" x2="74.3" y2="336.0" stroke="#000" stroke-width="2.2" />
<text transform="translate(66.3,340.2) scale(1.03,1)" font-size="12" text-anchor="end" font-weight="bold" >2</text>
<line x1="69.3" y1="315.5" x2="74.3" y2="315.5" stroke="#000" stroke-width="2.2" />
<text transform="translate(66.3,319.7) scale(1.03,1)" font-size="12" text-anchor="end" font-weight="bold" >4</text>
<line x1="69.3" y1="295.0" x2="74.3" y2="295.0" stroke="#000" stroke-width="2.2" />
<text transform="translate(66.3,299.2) scale(1.03,1)" font-size="12" text-anchor="end" font-weight="bold" >6</text>
<line x1="69.3" y1="274.5" x2="74.3" y2="274.5" stroke="#000" stroke-width="2.2" />
<text transform="translate(66.3,278.7) scale(1.03,1)" font-size="12" text-anchor="end" font-weight="bold" >8</text>
<line x1="69.3" y1="254.0" x2="74.3" y2="254.0" stroke="#000" stroke-width="2.2" />
<text transform="translate(66.3,258.2) scale(1.03,1)" font-size="12" text-anchor="end" font-weight="bold" >10</text>
<line x1="69.3" y1="233.5" x2="74.3" y2="233.5" stroke="#000" stroke-width="2.2" />
<text transform="translate(66.3,237.7) scale(1.03,1)" font-size="12" text-anchor="end" font-weight="bold" >12</text>
<line x1="69.3" y1="213.0" x2="74.3" y2="213.0" stroke="#000" stroke-width="2.2" />
<text transform="translate(66.3,217.2) scale(1.03,1)" font-size="12" text-anchor="end" font-weight="bold" >14</text>
<text transform="translate(47,285) rotate(-90) scale(1.055,1)" font-size="12.3" font-weight="bold" text-anchor="middle">Colonies per 10<tspan font-size="9" dy="-4.6">5</tspan><tspan dy="4.6"> cells</tspan></text>
<rect x="83.8" y="252.97500000000002" width="28.2" height="103.52499999999998" fill="#fff" stroke="#000" stroke-width="1.6"/>
<line x1="97.7" y1="221.7125" x2="97.7" y2="253.47500000000002" stroke="#000" stroke-width="2.8" />
<line x1="84" y1="221.7125" x2="111.8" y2="221.7125" stroke="#000" stroke-width="2.4" />
<rect x="112" y="352.81" width="28.2" height="3.69" fill="#222" stroke="#000" stroke-width="2.2"/>
<line x1="111.5" y1="350.145" x2="140.7" y2="350.145" stroke="#000" stroke-width="2.4" />
<path d="M97.5 216.5V213.3H126.3V216.5" fill="none" stroke="#000" stroke-width="1.9"/>
<text transform="translate(115.5,208.70000000000002) scale(0.95,1)" font-size="10.5" text-anchor="middle" font-weight="bold" ><tspan font-style="italic">P</tspan> = .005</text>
<text transform="translate(0,371.7) scale(0.955,1)" font-size="11" text-anchor="start" font-weight="bold" ><tspan font-style="italic">Icmt</tspan> genotype:</text>
<text transform="translate(97.6,371.7) scale(1.12,1)" font-size="10.8" text-anchor="middle" font-weight="bold" >fl/+</text>
<text transform="translate(127.4,371.7) scale(1.12,1)" font-size="10.8" text-anchor="middle" font-weight="bold" >fl/fl</text>
<text transform="translate(153.5,371.7) scale(1.12,1)" font-size="10.8" text-anchor="middle" font-weight="bold" >ctrl</text>
<line x1="84.8" y1="374.4" x2="138.5" y2="374.4" stroke="#000" stroke-width="1.5" />
<text transform="translate(111.3,385.3) scale(1.0,1)" font-size="11.3" text-anchor="middle" font-weight="bold" ><tspan font-style="italic">K</tspan><tspan font-size="7.5" dy="-4.1">LSL</tspan><tspan dy="4.1" dx="1">M</tspan></text>
<text transform="translate(251,209.4) scale(1.05,1)" font-size="16" text-anchor="start" font-weight="bold" >D</text>
<line x1="321.3" y1="209.7" x2="321.3" y2="361.1" stroke="#000" stroke-width="2.5" />
<line x1="316.3" y1="356.6" x2="444.5" y2="356.6" stroke="#000" stroke-width="2.8" />
<text transform="translate(312.8,360.40000000000003) scale(1.08,1)" font-size="12" text-anchor="end" font-weight="bold" >0</text>
<line x1="316.3" y1="332.32000000000005" x2="321.3" y2="332.32000000000005" stroke="#000" stroke-width="2.2" />
<text transform="translate(312.8,336.12000000000006) scale(1.08,1)" font-size="12" text-anchor="end" font-weight="bold" >20</text>
<line x1="316.3" y1="308.04" x2="321.3" y2="308.04" stroke="#000" stroke-width="2.2" />
<text transform="translate(312.8,311.84000000000003) scale(1.08,1)" font-size="12" text-anchor="end" font-weight="bold" >40</text>
<line x1="316.3" y1="283.76" x2="321.3" y2="283.76" stroke="#000" stroke-width="2.2" />
<text transform="translate(312.8,287.56) scale(1.08,1)" font-size="12" text-anchor="end" font-weight="bold" >60</text>
<line x1="316.3" y1="259.48" x2="321.3" y2="259.48" stroke="#000" stroke-width="2.2" />
<text transform="translate(312.8,263.28000000000003) scale(1.08,1)" font-size="12" text-anchor="end" font-weight="bold" >80</text>
<line x1="316.3" y1="235.20000000000005" x2="321.3" y2="235.20000000000005" stroke="#000" stroke-width="2.2" />
<text transform="translate(312.8,239.00000000000006) scale(1.08,1)" font-size="12" text-anchor="end" font-weight="bold" >100</text>
<line x1="316.3" y1="210.92000000000002" x2="321.3" y2="210.92000000000002" stroke="#000" stroke-width="2.2" />
<text transform="translate(312.8,214.72000000000003) scale(1.08,1)" font-size="12" text-anchor="end" font-weight="bold" >120</text>
<text transform="translate(284.6,283.2) rotate(-90) scale(1.05,1)" font-size="12.3" font-weight="bold" text-anchor="middle">Colonies per 10<tspan font-size="9" dy="-4.6">5</tspan><tspan dy="4.6"> cells</tspan></text>
<rect x="332" y="345.67" width="26.69999999999999" height="10.93" fill="#000" stroke="#000" stroke-width="1.8"/>
<rect x="332" y="337.18" width="26.69999999999999" height="8.50" fill="#666" stroke="#000" stroke-width="1.8"/>
<rect x="332" y="233.99" width="26.69999999999999" height="103.19" fill="#999" stroke="#000" stroke-width="1.8"/>
<rect x="332" y="232.53" width="26.69999999999999" height="1.46" fill="#000" stroke="#000" stroke-width="1.8"/>
<rect x="332" y="222.70" width="26.69999999999999" height="9.83" fill="#fff" stroke="#000" stroke-width="1.8"/>
<line x1="345.35" y1="210.92000000000002" x2="345.35" y2="223.19580000000002" stroke="#000" stroke-width="2.8" />
<line x1="331.5" y1="210.92000000000002" x2="359.2" y2="210.92000000000002" stroke="#000" stroke-width="2.4" />
<rect x="367.5" y="348.59" width="28.0" height="8.01" fill="#000" stroke="#000" stroke-width="1.8"/>
<rect x="367.5" y="345.07" width="28.0" height="3.52" fill="#666" stroke="#000" stroke-width="1.8"/>
<rect x="367.5" y="307.43" width="28.0" height="37.63" fill="#999" stroke="#000" stroke-width="1.8"/>
<rect x="367.5" y="305.98" width="28.0" height="1.46" fill="#000" stroke="#000" stroke-width="1.8"/>
<rect x="367.5" y="298.33" width="28.0" height="7.65" fill="#fff" stroke="#000" stroke-width="1.8"/>
<line x1="381.5" y1="289.46580000000006" x2="381.5" y2="298.82800000000003" stroke="#000" stroke-width="2.8" />
<line x1="367.0" y1="289.46580000000006" x2="396.0" y2="289.46580000000006" stroke="#000" stroke-width="2.4" />
<rect x="406.3" y="356.24" width="27.399999999999977" height="0.36" fill="#000" stroke="#000" stroke-width="1.8"/>
<rect x="406.3" y="350.17" width="27.399999999999977" height="6.07" fill="#999" stroke="#000" stroke-width="1.8"/>
<rect x="406.3" y="348.95" width="27.399999999999977" height="1.21" fill="#000" stroke="#000" stroke-width="1.8"/>
<rect x="406.3" y="347.13" width="27.399999999999977" height="1.82" fill="#fff" stroke="#000" stroke-width="1.8"/>
<line x1="420.0" y1="342.3962" x2="420.0" y2="347.6308" stroke="#000" stroke-width="2.8" />
<line x1="405.8" y1="342.3962" x2="434.2" y2="342.3962" stroke="#000" stroke-width="2.4" />
<path d="M345 204.5V201.3H374.5V204.5" fill="none" stroke="#000" stroke-width="1.9"/>
<text transform="translate(363.5,196.70000000000002) scale(0.95,1)" font-size="10.5" text-anchor="middle" font-weight="bold" ><tspan font-style="italic">P</tspan> &lt; .001</text>
<path d="M381.3 283.7V280.5H410.5V283.7" fill="none" stroke="#000" stroke-width="1.9"/>
<text transform="translate(399.5,275.9) scale(0.95,1)" font-size="10.5" text-anchor="middle" font-weight="bold" ><tspan font-style="italic">P</tspan> = .028</text>
<text transform="translate(346.3,370.6) scale(1.08,1)" font-size="11" text-anchor="middle" font-weight="bold" >fl/+</text>
<text transform="translate(382.5,370.6) scale(1.08,1)" font-size="11" text-anchor="middle" font-weight="bold" >fl/fl</text>
<text transform="translate(420,370.6) scale(1.08,1)" font-size="11" text-anchor="middle" font-weight="bold" >ctrl</text>
<line x1="335" y1="373.4" x2="395" y2="373.4" stroke="#000" stroke-width="1.5" />
<text transform="translate(363.3,384.6) scale(1.0,1)" font-size="11.3" text-anchor="middle" font-weight="bold" ><tspan font-style="italic">K</tspan><tspan font-size="7.5" dy="-4.1">LSL</tspan><tspan dy="4.1" dx="1">M</tspan></text>
<rect x="424.8" y="203.60000000000002" width="5.4" height="5.4" fill="#fff" stroke="#000" stroke-width="1.6"/>
<text transform="translate(433.8,209.60000000000002) scale(0.93,1)" font-size="9.5" text-anchor="start" font-weight="bold" >CFU-M</text>
<rect x="424.8" y="213.10000000000002" width="5.4" height="5.4" fill="#ccc" stroke="#000" stroke-width="1.6"/>
<text transform="translate(433.8,219.10000000000002) scale(0.93,1)" font-size="9.5" text-anchor="start" font-weight="bold" >CFU-G</text>
<rect x="424.8" y="222.60000000000002" width="5.4" height="5.4" fill="#999" stroke="#000" stroke-width="1.6"/>
<text transform="translate(433.8,228.60000000000002) scale(0.93,1)" font-size="9.5" text-anchor="start" font-weight="bold" >CFU-GM</text>
<rect x="424.8" y="232.10000000000002" width="5.4" height="5.4" fill="#666" stroke="#000" stroke-width="1.6"/>
<text transform="translate(433.8,238.10000000000002) scale(0.93,1)" font-size="9.5" text-anchor="start" font-weight="bold" >BFU-E</text>
<rect x="424.8" y="241.60000000000002" width="5.4" height="5.4" fill="#000" stroke="#000" stroke-width="1.6"/>
<text transform="translate(433.8,247.60000000000002) scale(0.93,1)" font-size="9.5" text-anchor="start" font-weight="bold" >CFU-GEMM</text>
<text transform="translate(9.1,417.4) scale(1.0,1)" font-size="16" text-anchor="start" font-weight="bold" >E</text>
<line x1="74.5" y1="431" x2="74.5" y2="554.0" stroke="#000" stroke-width="2.4" />
<line x1="69.5" y1="549.8" x2="221" y2="549.8" stroke="#000" stroke-width="2.4" />
<text transform="translate(66.3,554.0) scale(1.0,1)" font-size="11.5" text-anchor="end" font-weight="bold" >0</text>
<line x1="69.5" y1="526.3" x2="74.5" y2="526.3" stroke="#000" stroke-width="2.2" />
<text transform="translate(66.3,530.5) scale(1.0,1)" font-size="11.5" text-anchor="end" font-weight="bold" >10</text>
<line x1="69.5" y1="502.79999999999995" x2="74.5" y2="502.79999999999995" stroke="#000" stroke-width="2.2" />
<text transform="translate(66.3,506.99999999999994) scale(1.0,1)" font-size="11.5" text-anchor="end" font-weight="bold" >20</text>
<line x1="69.5" y1="479.29999999999995" x2="74.5" y2="479.29999999999995" stroke="#000" stroke-width="2.2" />
<text transform="translate(66.3,483.49999999999994) scale(1.0,1)" font-size="11.5" text-anchor="end" font-weight="bold" >30</text>
<line x1="69.5" y1="455.79999999999995" x2="74.5" y2="455.79999999999995" stroke="#000" stroke-width="2.2" />
<text transform="translate(66.3,459.99999999999994) scale(1.0,1)" font-size="11.5" text-anchor="end" font-weight="bold" >40</text>
<line x1="69.5" y1="432.29999999999995" x2="74.5" y2="432.29999999999995" stroke="#000" stroke-width="2.2" />
<text transform="translate(66.3,436.49999999999994) scale(1.0,1)" font-size="11.5" text-anchor="end" font-weight="bold" >50</text>
<text transform="translate(46.6,490.5) rotate(-90) scale(1.0,1)" font-size="12.7" font-weight="bold" text-anchor="middle">Colonies per 10<tspan font-size="9" dy="-4.6">5</tspan><tspan dy="4.6"> cells</tspan></text>
<polyline points="74.5,549.8 103.4,549.8 132.5,549.8 161.6,549.1 190.7,546.7 220,545.1" fill="none" stroke="#000" stroke-width="2.0" stroke-linejoin="round"/>
<polyline points="74.5,549.8 103.4,549.8 132.5,543.7 161.6,516.9 190.7,501.6 220,499.5" fill="none" stroke="#000" stroke-width="2.5" stroke-linejoin="round"/>
<polyline points="74.5,528.6 103.4,519.2 132.5,496.5 161.6,448.7 190.7,445.0 220,460.0" fill="none" stroke="#000" stroke-width="2.5" stroke-linejoin="round"/>
<line x1="103.4" y1="549.8" x2="103.4" y2="554.0" stroke="#000" stroke-width="2.2" />
<line x1="132.5" y1="549.8" x2="132.5" y2="554.0" stroke="#000" stroke-width="2.2" />
<line x1="161.6" y1="549.8" x2="161.6" y2="554.0" stroke="#000" stroke-width="2.2" />
<line x1="190.7" y1="549.8" x2="190.7" y2="554.0" stroke="#000" stroke-width="2.2" />
<line x1="220" y1="549.8" x2="220" y2="554.0" stroke="#000" stroke-width="2.2" />
<rect x="71.4" y="546.6999999999999" width="6.2" height="6.2" fill="#000"/>
<rect x="100.30000000000001" y="546.6999999999999" width="6.2" height="6.2" fill="#000"/>
<rect x="129.4" y="540.5899999999999" width="6.2" height="6.2" fill="#000"/>
<rect x="158.5" y="513.8" width="6.2" height="6.2" fill="#000"/>
<rect x="187.6" y="498.5249999999999" width="6.2" height="6.2" fill="#000"/>
<rect x="216.9" y="496.4099999999999" width="6.2" height="6.2" fill="#000"/>
<path d="M74.5 546.1999999999999l3 5.4h-6z" fill="#ccc" stroke="#000" stroke-width="1.1"/>
<path d="M103.4 546.1999999999999l3 5.4h-6z" fill="#ccc" stroke="#000" stroke-width="1.1"/>
<path d="M132.5 546.1999999999999l3 5.4h-6z" fill="#ccc" stroke="#000" stroke-width="1.1"/>
<path d="M161.6 545.4949999999999l3 5.4h-6z" fill="#ccc" stroke="#000" stroke-width="1.1"/>
<path d="M190.7 543.145l3 5.4h-6z" fill="#ccc" stroke="#000" stroke-width="1.1"/>
<path d="M220 541.4999999999999l3 5.4h-6z" fill="#ccc" stroke="#000" stroke-width="1.1"/>
<rect x="71.8" y="525.9499999999999" width="5.4" height="5.4" fill="#fff" stroke="#000" stroke-width="1.7"/>
<rect x="100.7" y="516.55" width="5.4" height="5.4" fill="#fff" stroke="#000" stroke-width="1.7"/>
<rect x="129.8" y="493.75499999999994" width="5.4" height="5.4" fill="#fff" stroke="#000" stroke-width="1.7"/>
<rect x="158.9" y="446.04999999999995" width="5.4" height="5.4" fill="#fff" stroke="#000" stroke-width="1.7"/>
<rect x="188.0" y="442.28999999999996" width="5.4" height="5.4" fill="#fff" stroke="#000" stroke-width="1.7"/>
<rect x="217.3" y="457.33" width="5.4" height="5.4" fill="#fff" stroke="#000" stroke-width="1.7"/>
<text transform="translate(74.5,568) scale(0.97,1)" font-size="11.2" text-anchor="middle" font-weight="bold" >0</text>
<text transform="translate(103.4,568) scale(0.97,1)" font-size="11.2" text-anchor="middle" font-weight="bold" >0.001</text>
<text transform="translate(132.5,568) scale(0.97,1)" font-size="11.2" text-anchor="middle" font-weight="bold" >0.01</text>
<text transform="translate(161.6,568) scale(0.97,1)" font-size="11.2" text-anchor="middle" font-weight="bold" >0.1</text>
<text transform="translate(190.7,568) scale(0.97,1)" font-size="11.2" text-anchor="middle" font-weight="bold" >1</text>
<text transform="translate(220,568) scale(0.97,1)" font-size="11.2" text-anchor="middle" font-weight="bold" >10</text>
<text transform="translate(150.3,586.5) scale(0.98,1)" font-size="12" text-anchor="middle" font-weight="bold" >GM-CSF (ng/mL)</text>
<rect x="79.5" y="426" width="6" height="6" fill="#fff" stroke="#000" stroke-width="1.5"/>
<rect x="78.8" y="437.3" width="7.4" height="7.4" fill="#000"/>
<path d="M82.7 449l4 7.4h-8z" fill="#aaa" stroke="#000" stroke-width="1.4"/>
<text transform="translate(91,433.2) scale(1.04,1)" font-size="11" text-anchor="start" font-weight="bold" ><tspan font-style="italic">Icmt</tspan><tspan font-size="7" dy="-4.0">fl/+</tspan><tspan font-style="italic" dy="4.0">K</tspan><tspan font-size="7" dy="-4.0">LSL</tspan><tspan dy="4.0" dx="1">M</tspan></text>
<text transform="translate(91,444.7) scale(1.05,1)" font-size="11" text-anchor="start" font-weight="bold" ><tspan font-style="italic">Icmt</tspan><tspan font-size="7" dy="-4.0">fl/fl</tspan><tspan font-style="italic" dy="4.0">K</tspan><tspan font-size="7" dy="-4.0">LSL</tspan><tspan dy="4.0" dx="1">M</tspan></text>
<text transform="translate(91,456.6) scale(1.02,1)" font-size="11" text-anchor="start" font-weight="bold" >Control</text>
<text transform="translate(251.3,419.4) scale(1.0,1)" font-size="16" text-anchor="start" font-weight="bold" >F</text>
<text transform="translate(308,455.8) scale(1.02,1)" font-size="10" text-anchor="middle" font-weight="bold" ><tspan font-style="italic">Icmt</tspan><tspan font-size="6.5" dy="-3.6">fl/+</tspan><tspan font-style="italic" dy="3.6">K</tspan><tspan font-size="6.5" dy="-3.6">LSL</tspan><tspan dy="3.6" dx="1">M</tspan></text>
<text transform="translate(396.3,455.8) scale(1.02,1)" font-size="10" text-anchor="middle" font-weight="bold" ><tspan font-style="italic">Icmt</tspan><tspan font-size="6.5" dy="-3.6">fl/fl</tspan><tspan font-style="italic" dy="3.6">K</tspan><tspan font-size="6.5" dy="-3.6">LSL</tspan><tspan dy="3.6" dx="1">M</tspan></text>
<text transform="translate(479,456) scale(0.98,1)" font-size="10.3" text-anchor="middle" font-weight="bold" >Control</text>
<clipPath id="p1"><rect x="264" y="462.5" width="86.39999999999998" height="64.0"/></clipPath>
<rect x="264" y="462.5" width="86.39999999999998" height="64.0" fill="url(#vg1)"/>
<g clip-path="url(#p1)" filter="url(#bl)">
<ellipse cx="324.8" cy="486.3" rx="15.5" ry="13.4" fill="#a8a8a8" stroke="#909090" stroke-width="0.8"/>
<ellipse cx="318.8" cy="489.3" rx="2.6" ry="2.6" fill="#858585"/>
<ellipse cx="325.8" cy="488.8" rx="2.6" ry="2.6" fill="#858585"/>
<ellipse cx="341" cy="495.2" rx="8.6" ry="11.3" fill="#aaaaaa" stroke="#909090" stroke-width="0.8"/>
<ellipse cx="345" cy="494.3" rx="2.6" ry="2.6" fill="#808080"/>
<ellipse cx="297.8" cy="503.5" rx="12.6" ry="17.6" fill="#aeaeae" stroke="#909090" stroke-width="0.8"/>
<ellipse cx="299.3" cy="500.3" rx="3" ry="3" fill="#808080"/>
<ellipse cx="318.4" cy="505.8" rx="12.5" ry="13.5" fill="#b0b0b0" stroke="#909090" stroke-width="0.8"/>
<ellipse cx="311" cy="505.8" rx="2.8" ry="2.8" fill="#858585"/>
<ellipse cx="279.7" cy="506.7" rx="16.2" ry="16.7" fill="#b0b0b0" stroke="#909090" stroke-width="0.8"/>
<ellipse cx="275.5" cy="512.8" rx="3.6" ry="3.6" fill="#7c7c7c"/>
</g>
<clipPath id="p2"><rect x="352" y="462.5" width="84.30000000000001" height="64.0"/></clipPath>
<rect x="352" y="462.5" width="84.30000000000001" height="64.0" fill="url(#vg2)"/>
<g clip-path="url(#p2)" filter="url(#bl)">
<ellipse cx="371.5" cy="474.2" rx="5.5" ry="5.5" fill="#9c9c9c" stroke="#6a6a6a" stroke-width="0.8"/>
<ellipse cx="370.6" cy="476" rx="2.6" ry="2.6" fill="#555"/>
<ellipse cx="364.2" cy="485.1" rx="6.4" ry="6.4" fill="#9c9c9c" stroke="#6a6a6a" stroke-width="0.8"/>
<ellipse cx="366" cy="487.9" rx="3" ry="3" fill="#555"/>
<ellipse cx="375.1" cy="485.1" rx="5.5" ry="5.5" fill="#9c9c9c" stroke="#6a6a6a" stroke-width="0.8"/>
<ellipse cx="374.2" cy="484.2" rx="2.8" ry="2.8" fill="#555"/>
<ellipse cx="368.7" cy="494.8" rx="5.8" ry="5.8" fill="#9c9c9c" stroke="#6a6a6a" stroke-width="0.8"/>
<ellipse cx="368.7" cy="494.8" rx="3" ry="3" fill="#555"/>
<ellipse cx="380.6" cy="497.9" rx="5" ry="5" fill="#989898" stroke="#6a6a6a" stroke-width="0.8"/>
<ellipse cx="380.6" cy="498.8" rx="2.8" ry="2.8" fill="#555"/>
<ellipse cx="373.3" cy="508.4" rx="8.6" ry="8.6" fill="#a0a0a0" stroke="#6a6a6a" stroke-width="0.8"/>
<ellipse cx="374.2" cy="508.9" rx="3.2" ry="4.3" fill="#555"/>
<ellipse cx="414.4" cy="469.6" rx="5.8" ry="5.8" fill="#a0a0a0" stroke="#6a6a6a" stroke-width="0.8"/>
<ellipse cx="414.4" cy="468.2" rx="3" ry="3" fill="#666"/>
</g>
<clipPath id="p3"><rect x="439" y="462.5" width="82" height="64.0"/></clipPath>
<rect x="439" y="462.5" width="82" height="64.0" fill="url(#vg3)"/>
<g clip-path="url(#p3)" filter="url(#bl)">
<ellipse cx="457.7" cy="478.4" rx="5.3" ry="5.3" fill="#a0a0a0" stroke="#777" stroke-width="0.8"/>
<ellipse cx="457.7" cy="478.6" rx="3.3" ry="3.3" fill="#777"/>
<ellipse cx="444.7" cy="489.6" rx="5.1" ry="5.1" fill="#999" stroke="#777" stroke-width="0.8"/>
<ellipse cx="444.7" cy="489.6" rx="3.3" ry="3.3" fill="#707070"/>
<ellipse cx="456" cy="488.7" rx="5.5" ry="5.5" fill="#a0a0a0" stroke="#777" stroke-width="0.8"/>
<ellipse cx="456" cy="488.7" rx="3.5" ry="3.5" fill="#777"/>
<ellipse cx="467.2" cy="487" rx="5.3" ry="5.3" fill="#999" stroke="#777" stroke-width="0.8"/>
<ellipse cx="467.2" cy="487" rx="3.3" ry="3.3" fill="#707070"/>
<ellipse cx="477.9" cy="488.7" rx="5.1" ry="5.1" fill="#a0a0a0" stroke="#777" stroke-width="0.8"/>
<ellipse cx="477.9" cy="488.7" rx="3.2" ry="3.2" fill="#777"/>
<ellipse cx="453" cy="499.1" rx="5.3" ry="5.3" fill="#999" stroke="#777" stroke-width="0.8"/>
<ellipse cx="453" cy="499.1" rx="3.4" ry="3.4" fill="#707070"/>
<ellipse cx="466" cy="498.3" rx="6.3" ry="6.3" fill="#a0a0a0" stroke="#777" stroke-width="0.8"/>
<ellipse cx="466" cy="498.8" rx="4" ry="4" fill="#777"/>
<ellipse cx="477.6" cy="497.7" rx="5.1" ry="5.1" fill="#999" stroke="#777" stroke-width="0.8"/>
<ellipse cx="477.6" cy="497.7" rx="3.2" ry="3.2" fill="#777"/>
<ellipse cx="508.7" cy="505.7" rx="6.8" ry="6.8" fill="#a4a4a4" stroke="#777" stroke-width="0.8"/>
<ellipse cx="508" cy="505.7" rx="4" ry="4" fill="#888"/>
</g>
</svg></body></html>
